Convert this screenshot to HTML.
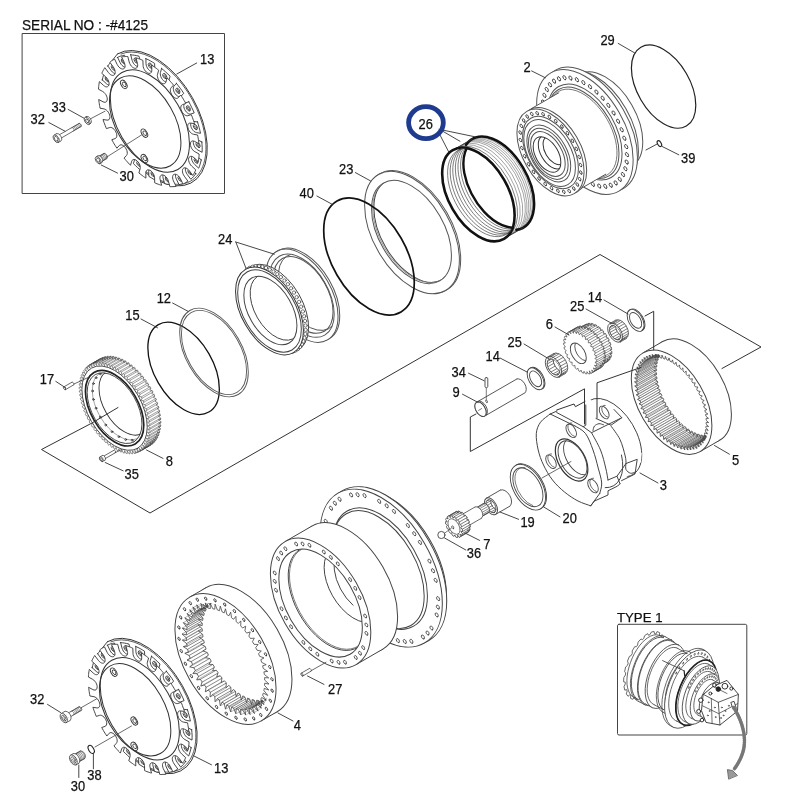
<!DOCTYPE html>
<html><head><meta charset="utf-8"><title>Parts diagram</title>
<style>
html,body{margin:0;padding:0;background:#fff}
svg{display:block;will-change:transform}
svg *{vector-effect:none}
.d{fill:none;stroke:#333;stroke-width:1;stroke-linecap:round;stroke-linejoin:round}
text{font-family:"Liberation Sans",Arial,sans-serif;font-size:12.5px;fill:#111;stroke:#111;stroke-width:0.25px}
</style></head><body>
<svg width="800" height="800" viewBox="0 0 800 800">
<rect width="800" height="800" fill="#fff"/>
<g class="d">
<rect x="22.5" y="33.5" width="202" height="160" stroke="#444"/>
<path d="M92 423L41.5 449.5L150 513L600 254.5L761 347L722 368.5"/>
<ellipse cx="663.6" cy="86.6" rx="45.5" ry="26.3" transform="rotate(60 663.6 86.6)" stroke-width="1.2" stroke="#222"/>
<ellipse cx="659.4" cy="143.6" rx="3.2" ry="1.8" transform="rotate(60 659.4 143.6)" stroke-width="1.1" stroke="#222"/>
<ellipse cx="605.3" cy="120.2" rx="53" ry="30.6" transform="rotate(60 605.3 120.2)" stroke="#555" fill="#fff"/>
<ellipse cx="595.3" cy="126" rx="61" ry="35.2" transform="rotate(60 595.3 126)" stroke="#555" fill="#fff"/>
<ellipse cx="589.2" cy="129.5" rx="68.2" ry="39.4" transform="rotate(60 589.2 129.5)" stroke="#555" fill="#fff"/>
<ellipse cx="584.9" cy="132" rx="68.2" ry="39.4" transform="rotate(60 584.9 132)" stroke="#555" fill="#fff"/>
<ellipse cx="615.7" cy="182.9" rx="2.3" ry="1.3" transform="rotate(60 615.7 182.9)" stroke-width="0.8" fill="#fff"/>
<ellipse cx="619.8" cy="179.3" rx="2.3" ry="1.3" transform="rotate(60 619.8 179.3)" stroke-width="0.8" fill="#fff"/>
<ellipse cx="623" cy="174.5" rx="2.3" ry="1.3" transform="rotate(60 623 174.5)" stroke-width="0.8" fill="#fff"/>
<ellipse cx="625.4" cy="168.7" rx="2.3" ry="1.3" transform="rotate(60 625.4 168.7)" stroke-width="0.8" fill="#fff"/>
<ellipse cx="626.7" cy="162" rx="2.3" ry="1.3" transform="rotate(60 626.7 162)" stroke-width="0.8" fill="#fff"/>
<ellipse cx="627" cy="154.6" rx="2.3" ry="1.3" transform="rotate(60 627 154.6)" stroke-width="0.8" fill="#fff"/>
<ellipse cx="626.2" cy="146.6" rx="2.3" ry="1.3" transform="rotate(60 626.2 146.6)" stroke-width="0.8" fill="#fff"/>
<ellipse cx="624.4" cy="138.2" rx="2.3" ry="1.3" transform="rotate(60 624.4 138.2)" stroke-width="0.8" fill="#fff"/>
<ellipse cx="621.7" cy="129.7" rx="2.3" ry="1.3" transform="rotate(60 621.7 129.7)" stroke-width="0.8" fill="#fff"/>
<ellipse cx="618.1" cy="121.2" rx="2.3" ry="1.3" transform="rotate(60 618.1 121.2)" stroke-width="0.8" fill="#fff"/>
<ellipse cx="613.6" cy="113" rx="2.3" ry="1.3" transform="rotate(60 613.6 113)" stroke-width="0.8" fill="#fff"/>
<ellipse cx="608.4" cy="105.3" rx="2.3" ry="1.3" transform="rotate(60 608.4 105.3)" stroke-width="0.8" fill="#fff"/>
<ellipse cx="602.7" cy="98.2" rx="2.3" ry="1.3" transform="rotate(60 602.7 98.2)" stroke-width="0.8" fill="#fff"/>
<ellipse cx="596.5" cy="92" rx="2.3" ry="1.3" transform="rotate(60 596.5 92)" stroke-width="0.8" fill="#fff"/>
<ellipse cx="590" cy="86.7" rx="2.3" ry="1.3" transform="rotate(60 590 86.7)" stroke-width="0.8" fill="#fff"/>
<ellipse cx="583.4" cy="82.6" rx="2.3" ry="1.3" transform="rotate(60 583.4 82.6)" stroke-width="0.8" fill="#fff"/>
<ellipse cx="576.9" cy="79.7" rx="2.3" ry="1.3" transform="rotate(60 576.9 79.7)" stroke-width="0.8" fill="#fff"/>
<ellipse cx="570.5" cy="78" rx="2.3" ry="1.3" transform="rotate(60 570.5 78)" stroke-width="0.8" fill="#fff"/>
<ellipse cx="564.5" cy="77.7" rx="2.3" ry="1.3" transform="rotate(60 564.5 77.7)" stroke-width="0.8" fill="#fff"/>
<ellipse cx="559" cy="78.8" rx="2.3" ry="1.3" transform="rotate(60 559 78.8)" stroke-width="0.8" fill="#fff"/>
<ellipse cx="554.1" cy="81.1" rx="2.3" ry="1.3" transform="rotate(60 554.1 81.1)" stroke-width="0.8" fill="#fff"/>
<ellipse cx="550" cy="84.7" rx="2.3" ry="1.3" transform="rotate(60 550 84.7)" stroke-width="0.8" fill="#fff"/>
<ellipse cx="546.8" cy="89.5" rx="2.3" ry="1.3" transform="rotate(60 546.8 89.5)" stroke-width="0.8" fill="#fff"/>
<ellipse cx="544.5" cy="95.3" rx="2.3" ry="1.3" transform="rotate(60 544.5 95.3)" stroke-width="0.8" fill="#fff"/>
<ellipse cx="543.1" cy="102" rx="2.3" ry="1.3" transform="rotate(60 543.1 102)" stroke-width="0.8" fill="#fff"/>
<ellipse cx="542.9" cy="109.4" rx="2.3" ry="1.3" transform="rotate(60 542.9 109.4)" stroke-width="0.8" fill="#fff"/>
<ellipse cx="543.6" cy="117.4" rx="2.3" ry="1.3" transform="rotate(60 543.6 117.4)" stroke-width="0.8" fill="#fff"/>
<ellipse cx="545.4" cy="125.8" rx="2.3" ry="1.3" transform="rotate(60 545.4 125.8)" stroke-width="0.8" fill="#fff"/>
<ellipse cx="548.1" cy="134.3" rx="2.3" ry="1.3" transform="rotate(60 548.1 134.3)" stroke-width="0.8" fill="#fff"/>
<ellipse cx="551.8" cy="142.8" rx="2.3" ry="1.3" transform="rotate(60 551.8 142.8)" stroke-width="0.8" fill="#fff"/>
<ellipse cx="556.2" cy="151" rx="2.3" ry="1.3" transform="rotate(60 556.2 151)" stroke-width="0.8" fill="#fff"/>
<ellipse cx="561.4" cy="158.7" rx="2.3" ry="1.3" transform="rotate(60 561.4 158.7)" stroke-width="0.8" fill="#fff"/>
<ellipse cx="567.1" cy="165.8" rx="2.3" ry="1.3" transform="rotate(60 567.1 165.8)" stroke-width="0.8" fill="#fff"/>
<ellipse cx="573.3" cy="172" rx="2.3" ry="1.3" transform="rotate(60 573.3 172)" stroke-width="0.8" fill="#fff"/>
<ellipse cx="579.8" cy="177.3" rx="2.3" ry="1.3" transform="rotate(60 579.8 177.3)" stroke-width="0.8" fill="#fff"/>
<ellipse cx="586.4" cy="181.4" rx="2.3" ry="1.3" transform="rotate(60 586.4 181.4)" stroke-width="0.8" fill="#fff"/>
<ellipse cx="592.9" cy="184.3" rx="2.3" ry="1.3" transform="rotate(60 592.9 184.3)" stroke-width="0.8" fill="#fff"/>
<ellipse cx="599.3" cy="186" rx="2.3" ry="1.3" transform="rotate(60 599.3 186)" stroke-width="0.8" fill="#fff"/>
<ellipse cx="605.3" cy="186.3" rx="2.3" ry="1.3" transform="rotate(60 605.3 186.3)" stroke-width="0.8" fill="#fff"/>
<ellipse cx="610.8" cy="185.2" rx="2.3" ry="1.3" transform="rotate(60 610.8 185.2)" stroke-width="0.8" fill="#fff"/>
<ellipse cx="584.9" cy="132" rx="52.5" ry="30.3" transform="rotate(60 584.9 132)" stroke="#555"/>
<ellipse cx="583.6" cy="132.8" rx="50" ry="28.9" transform="rotate(60 583.6 132.8)" stroke="#555"/>
<path d="M597.2 177.5A48.5 28 60 1 0 551.7 98.6" stroke-width="0.8" stroke="#555"/>
<path d="M531.1 108.8L559.7 92.3L606.7 173.7L578.1 190.2Z" fill="#fff" stroke="none"/>
<path d="M578.1 190.2L605.8 174.2" stroke="#555"/>
<path d="M531.1 108.8L558.8 92.8" stroke="#555"/>
<ellipse cx="553.1" cy="151" rx="47.5" ry="27.4" transform="rotate(60 553.1 151)" stroke="#555" fill="#fff"/>
<ellipse cx="550.5" cy="152.5" rx="47.5" ry="27.4" transform="rotate(60 550.5 152.5)" stroke="#555" fill="#fff"/>
<ellipse cx="573.8" cy="188.5" rx="1.9" ry="1.1" transform="rotate(60 573.8 188.5)" stroke-width="0.8" fill="#fff"/>
<ellipse cx="577.3" cy="184.5" rx="1.9" ry="1.1" transform="rotate(60 577.3 184.5)" stroke-width="0.8" fill="#fff"/>
<ellipse cx="579.7" cy="179.1" rx="1.9" ry="1.1" transform="rotate(60 579.7 179.1)" stroke-width="0.8" fill="#fff"/>
<ellipse cx="580.8" cy="172.5" rx="1.9" ry="1.1" transform="rotate(60 580.8 172.5)" stroke-width="0.8" fill="#fff"/>
<ellipse cx="580.6" cy="165" rx="1.9" ry="1.1" transform="rotate(60 580.6 165)" stroke-width="0.8" fill="#fff"/>
<ellipse cx="579.1" cy="157" rx="1.9" ry="1.1" transform="rotate(60 579.1 157)" stroke-width="0.8" fill="#fff"/>
<ellipse cx="576.3" cy="148.8" rx="1.9" ry="1.1" transform="rotate(60 576.3 148.8)" stroke-width="0.8" fill="#fff"/>
<ellipse cx="572.4" cy="140.7" rx="1.9" ry="1.1" transform="rotate(60 572.4 140.7)" stroke-width="0.8" fill="#fff"/>
<ellipse cx="567.5" cy="133.2" rx="1.9" ry="1.1" transform="rotate(60 567.5 133.2)" stroke-width="0.8" fill="#fff"/>
<ellipse cx="561.9" cy="126.5" rx="1.9" ry="1.1" transform="rotate(60 561.9 126.5)" stroke-width="0.8" fill="#fff"/>
<ellipse cx="555.8" cy="121" rx="1.9" ry="1.1" transform="rotate(60 555.8 121)" stroke-width="0.8" fill="#fff"/>
<ellipse cx="549.4" cy="116.8" rx="1.9" ry="1.1" transform="rotate(60 549.4 116.8)" stroke-width="0.8" fill="#fff"/>
<ellipse cx="543.1" cy="114.2" rx="1.9" ry="1.1" transform="rotate(60 543.1 114.2)" stroke-width="0.8" fill="#fff"/>
<ellipse cx="537.2" cy="113.2" rx="1.9" ry="1.1" transform="rotate(60 537.2 113.2)" stroke-width="0.8" fill="#fff"/>
<ellipse cx="531.8" cy="114" rx="1.9" ry="1.1" transform="rotate(60 531.8 114)" stroke-width="0.8" fill="#fff"/>
<ellipse cx="527.2" cy="116.5" rx="1.9" ry="1.1" transform="rotate(60 527.2 116.5)" stroke-width="0.8" fill="#fff"/>
<ellipse cx="523.7" cy="120.5" rx="1.9" ry="1.1" transform="rotate(60 523.7 120.5)" stroke-width="0.8" fill="#fff"/>
<ellipse cx="521.3" cy="125.9" rx="1.9" ry="1.1" transform="rotate(60 521.3 125.9)" stroke-width="0.8" fill="#fff"/>
<ellipse cx="520.2" cy="132.5" rx="1.9" ry="1.1" transform="rotate(60 520.2 132.5)" stroke-width="0.8" fill="#fff"/>
<ellipse cx="520.4" cy="140" rx="1.9" ry="1.1" transform="rotate(60 520.4 140)" stroke-width="0.8" fill="#fff"/>
<ellipse cx="521.9" cy="148" rx="1.9" ry="1.1" transform="rotate(60 521.9 148)" stroke-width="0.8" fill="#fff"/>
<ellipse cx="524.7" cy="156.2" rx="1.9" ry="1.1" transform="rotate(60 524.7 156.2)" stroke-width="0.8" fill="#fff"/>
<ellipse cx="528.6" cy="164.3" rx="1.9" ry="1.1" transform="rotate(60 528.6 164.3)" stroke-width="0.8" fill="#fff"/>
<ellipse cx="533.5" cy="171.8" rx="1.9" ry="1.1" transform="rotate(60 533.5 171.8)" stroke-width="0.8" fill="#fff"/>
<ellipse cx="539.1" cy="178.5" rx="1.9" ry="1.1" transform="rotate(60 539.1 178.5)" stroke-width="0.8" fill="#fff"/>
<ellipse cx="545.2" cy="184" rx="1.9" ry="1.1" transform="rotate(60 545.2 184)" stroke-width="0.8" fill="#fff"/>
<ellipse cx="551.6" cy="188.2" rx="1.9" ry="1.1" transform="rotate(60 551.6 188.2)" stroke-width="0.8" fill="#fff"/>
<ellipse cx="557.9" cy="190.8" rx="1.9" ry="1.1" transform="rotate(60 557.9 190.8)" stroke-width="0.8" fill="#fff"/>
<ellipse cx="563.8" cy="191.8" rx="1.9" ry="1.1" transform="rotate(60 563.8 191.8)" stroke-width="0.8" fill="#fff"/>
<ellipse cx="569.2" cy="191" rx="1.9" ry="1.1" transform="rotate(60 569.2 191)" stroke-width="0.8" fill="#fff"/>
<ellipse cx="550.5" cy="152.5" rx="39.5" ry="22.8" transform="rotate(60 550.5 152.5)" stroke="#555" fill="#fff"/>
<ellipse cx="549.6" cy="153" rx="36.5" ry="21.1" transform="rotate(60 549.6 153)" stroke="#555" fill="#fff"/>
<ellipse cx="548.8" cy="153.5" rx="31" ry="17.9" transform="rotate(60 548.8 153.5)" stroke="#555" fill="#fff"/>
<ellipse cx="548.3" cy="153.8" rx="28" ry="16.2" transform="rotate(60 548.3 153.8)" stroke="#555"/>
<ellipse cx="547.9" cy="154" rx="24.5" ry="14.1" transform="rotate(60 547.9 154)" stroke="#555" fill="#fff"/>
<ellipse cx="547" cy="154.5" rx="19.5" ry="11.3" transform="rotate(60 547 154.5)" fill="#fff"/>
<clipPath id="cp1"><ellipse cx="547" cy="154.5" rx="19.5" ry="11.3" transform="rotate(60 547 154.5)"/></clipPath><g clip-path="url(#cp1)">
<ellipse cx="551.4" cy="152" rx="18.5" ry="10.7" transform="rotate(60 551.4 152)"/>
<ellipse cx="554" cy="150.5" rx="15.5" ry="8.9" transform="rotate(60 554 150.5)"/>
</g>
<path d="M505.8 237.2A51.2 29.6 60 1 0 455.1 149.4" stroke-width="0.6" stroke="#666"/>
<path d="M508.4 235.7A51.2 29.6 60 1 0 457.7 147.9" stroke-width="0.6" stroke="#666"/>
<path d="M511 234.2A51.2 29.6 60 1 0 460.3 146.4" stroke-width="0.6" stroke="#666"/>
<path d="M512.7 233.2A51.2 29.6 60 1 0 462 145.4" stroke-width="0.6" stroke="#666"/>
<path d="M514.5 232.2A51.2 29.6 60 1 0 463.8 144.4" stroke-width="0.6" stroke="#666"/>
<path d="M516.2 231.2A51.2 29.6 60 1 0 465.5 143.4" stroke-width="0.6" stroke="#666"/>
<path d="M517.9 230.2A51.2 29.6 60 1 0 467.2 142.4" stroke-width="0.6" stroke="#666"/>
<path d="M503.2 238.7A51.2 29.6 60 1 0 452.5 150.9" stroke-width="0.7" stroke="#444"/>
<path d="M516.4 229.9A51.2 29.6 60 1 0 466.1 144.8" stroke-width="2.6" stroke="#111"/>
<path d="M504 238.8L523.4 227.6" stroke-width="0.8"/>
<path d="M452.8 150.2L472.2 139" stroke-width="0.8"/>
<ellipse cx="478.4" cy="194.5" rx="51.2" ry="29.6" transform="rotate(60 478.4 194.5)" stroke-width="2.6" stroke="#111" fill="#fff"/>
<clipPath id="cp2"><ellipse cx="478.4" cy="194.5" rx="50.7" ry="29.3" transform="rotate(60 478.4 194.5)"/></clipPath><g clip-path="url(#cp2)">
<path d="M473 149A48.6 28.1 60 1 0 513 227.3" stroke-width="0.7" stroke="#444"/>
<path d="M475.6 147.5A48.6 28.1 60 1 0 515.6 225.8" stroke-width="0.7" stroke="#444"/>
<path d="M478.2 146A48.6 28.1 60 1 0 518.2 224.3" stroke-width="0.7" stroke="#444"/>
<path d="M480.8 144.5A48.6 28.1 60 1 0 520.8 222.8" stroke-width="0.7" stroke="#444"/>
<path d="M483.4 143A48.6 28.1 60 1 0 523.4 221.3" stroke-width="0.7" stroke="#444"/>
<path d="M486 141.5A48.6 28.1 60 1 0 526 219.8" stroke-width="0.7" stroke="#444"/>
<path d="M488.9 139.8A48.6 28.1 60 1 0 528.9 218.1" stroke-width="2.4" stroke="#111"/>
</g>
<ellipse cx="413.3" cy="231.8" rx="67" ry="38.7" transform="rotate(60 413.3 231.8)" stroke="#555" fill="#fff"/>
<ellipse cx="412" cy="232.5" rx="67" ry="38.7" transform="rotate(60 412 232.5)" stroke="#555" fill="#fff"/>
<ellipse cx="411.5" cy="232" rx="56.5" ry="32.6" transform="rotate(60 411.5 232)" stroke="#555" fill="#fff"/>
<clipPath id="cp3"><ellipse cx="411.5" cy="232" rx="56.5" ry="32.6" transform="rotate(60 411.5 232)"/></clipPath><g clip-path="url(#cp3)">
<ellipse cx="413.8" cy="230.7" rx="56.5" ry="32.6" transform="rotate(60 413.8 230.7)" stroke="#444"/>
<ellipse cx="412.6" cy="231.3" rx="56.5" ry="32.6" transform="rotate(60 412.6 231.3)" stroke-width="0.7" stroke="#777"/>
</g>
<ellipse cx="369" cy="256.5" rx="64" ry="37" transform="rotate(60 369 256.5)" stroke-width="1.7" stroke="#111"/>
<ellipse cx="303.7" cy="294.7" rx="51" ry="29.4" transform="rotate(60 303.7 294.7)" stroke="#555" fill="#fff"/>
<ellipse cx="302" cy="295.7" rx="51" ry="29.4" transform="rotate(60 302 295.7)" stroke="#555" fill="#fff"/>
<ellipse cx="302" cy="295.7" rx="45.5" ry="26.3" transform="rotate(60 302 295.7)" stroke="#555"/>
<ellipse cx="303.3" cy="294.9" rx="42" ry="24.3" transform="rotate(60 303.3 294.9)" stroke="#555"/>
<clipPath id="cp4"><ellipse cx="302" cy="295.7" rx="45.5" ry="26.3" transform="rotate(60 302 295.7)"/></clipPath><g clip-path="url(#cp4)">
<path d="M291 254.3A42 24.3 60 1 0 332.4 325.9" stroke="#555"/>
</g>
<path d="M296.5 350.6A48 27.7 60 1 0 248.7 267.8" stroke="#444" fill="#fff"/>
<path d="M293.5 352.6L298.7 349.6" stroke="#444"/>
<path d="M245.5 269.4L250.7 266.4" stroke="#444"/>
<circle cx="292.4" cy="351.9" r="1.7" stroke-width="0.7" stroke="#444" fill="#fff"/>
<circle cx="295.3" cy="350.7" r="1.7" stroke-width="0.7" stroke="#444" fill="#fff"/>
<circle cx="297.8" cy="349.1" r="1.7" stroke-width="0.7" stroke="#444" fill="#fff"/>
<circle cx="300.1" cy="346.9" r="1.7" stroke-width="0.7" stroke="#444" fill="#fff"/>
<circle cx="302" cy="344.3" r="1.7" stroke-width="0.7" stroke="#444" fill="#fff"/>
<circle cx="303.5" cy="341.3" r="1.7" stroke-width="0.7" stroke="#444" fill="#fff"/>
<circle cx="304.6" cy="337.8" r="1.7" stroke-width="0.7" stroke="#444" fill="#fff"/>
<circle cx="305.4" cy="334" r="1.7" stroke-width="0.7" stroke="#444" fill="#fff"/>
<circle cx="305.7" cy="329.9" r="1.7" stroke-width="0.7" stroke="#444" fill="#fff"/>
<circle cx="305.6" cy="325.5" r="1.7" stroke-width="0.7" stroke="#444" fill="#fff"/>
<circle cx="305.1" cy="321" r="1.7" stroke-width="0.7" stroke="#444" fill="#fff"/>
<circle cx="304.2" cy="316.3" r="1.7" stroke-width="0.7" stroke="#444" fill="#fff"/>
<circle cx="302.9" cy="311.5" r="1.7" stroke-width="0.7" stroke="#444" fill="#fff"/>
<circle cx="301.2" cy="306.7" r="1.7" stroke-width="0.7" stroke="#444" fill="#fff"/>
<circle cx="299.1" cy="301.9" r="1.7" stroke-width="0.7" stroke="#444" fill="#fff"/>
<circle cx="296.7" cy="297.2" r="1.7" stroke-width="0.7" stroke="#444" fill="#fff"/>
<circle cx="294" cy="292.6" r="1.7" stroke-width="0.7" stroke="#444" fill="#fff"/>
<circle cx="291.1" cy="288.3" r="1.7" stroke-width="0.7" stroke="#444" fill="#fff"/>
<circle cx="287.9" cy="284.2" r="1.7" stroke-width="0.7" stroke="#444" fill="#fff"/>
<circle cx="284.5" cy="280.5" r="1.7" stroke-width="0.7" stroke="#444" fill="#fff"/>
<circle cx="280.9" cy="277.1" r="1.7" stroke-width="0.7" stroke="#444" fill="#fff"/>
<circle cx="277.3" cy="274.1" r="1.7" stroke-width="0.7" stroke="#444" fill="#fff"/>
<circle cx="273.6" cy="271.5" r="1.7" stroke-width="0.7" stroke="#444" fill="#fff"/>
<circle cx="269.8" cy="269.5" r="1.7" stroke-width="0.7" stroke="#444" fill="#fff"/>
<circle cx="266.1" cy="267.9" r="1.7" stroke-width="0.7" stroke="#444" fill="#fff"/>
<circle cx="262.5" cy="266.8" r="1.7" stroke-width="0.7" stroke="#444" fill="#fff"/>
<circle cx="259" cy="266.3" r="1.7" stroke-width="0.7" stroke="#444" fill="#fff"/>
<circle cx="255.6" cy="266.3" r="1.7" stroke-width="0.7" stroke="#444" fill="#fff"/>
<circle cx="252.5" cy="266.8" r="1.7" stroke-width="0.7" stroke="#444" fill="#fff"/>
<circle cx="249.6" cy="267.9" r="1.7" stroke-width="0.7" stroke="#444" fill="#fff"/>
<circle cx="247" cy="269.5" r="1.7" stroke-width="0.7" stroke="#444" fill="#fff"/>
<ellipse cx="269.5" cy="311" rx="48" ry="27.7" transform="rotate(60 269.5 311)" fill="#fff"/>
<ellipse cx="269.5" cy="311" rx="45" ry="26" transform="rotate(60 269.5 311)" stroke="#444"/>
<ellipse cx="270.4" cy="310.5" rx="37.5" ry="21.7" transform="rotate(60 270.4 310.5)" stroke="#444"/>
<clipPath id="cp5"><ellipse cx="270.4" cy="310.5" rx="37.5" ry="21.7" transform="rotate(60 270.4 310.5)"/></clipPath><g clip-path="url(#cp5)">
<path d="M261 275A36 20.8 60 1 0 296.4 336.4" stroke="#444"/>
</g>
<ellipse cx="183.6" cy="368.3" rx="50.5" ry="29.2" transform="rotate(60 183.6 368.3)" stroke-width="1.3" stroke="#111"/>
<ellipse cx="214" cy="352.5" rx="48.5" ry="28" transform="rotate(60 214 352.5)" stroke-width="0.9" stroke="#555"/>
<ellipse cx="214" cy="352.5" rx="46" ry="26.6" transform="rotate(60 214 352.5)" stroke-width="0.9" stroke="#555"/>
<path d="M147.9 443.2L150 445.5L150.8 445L149.9 442L149.9 442L152.1 444.1L152.9 443.5L151.8 440.5L151.8 440.5L154.1 442.4L154.7 441.7L153.5 438.8L153.5 438.8L155.8 440.4L156.3 439.6L154.9 436.7L154.9 436.7L157.2 438.1L157.7 437.3L156.1 434.4L156.1 434.4L158.5 435.6L158.8 434.6L157.1 431.8L157.1 431.8L159.4 432.8L159.7 431.7L157.9 429L157.9 429L160.1 429.7L160.3 428.6L158.4 426L158.4 426L160.6 426.4L160.7 425.2L158.6 422.8L158.6 422.8L160.8 423L160.8 421.7L158.6 419.4L158.6 419.4L160.7 419.4L160.6 418.1L158.4 416L158.4 416L160.3 415.6L160.1 414.3L157.9 412.4L157.9 412.4L159.7 411.8L159.4 410.4L157.1 408.7L157.1 408.7L158.8 407.9L158.5 406.5L156.1 405L156.1 405L157.7 403.9L157.2 402.5L154.9 401.2L154.9 401.2L156.3 399.9L155.8 398.5L153.5 397.5L153.5 397.5L154.7 396L154.1 394.5L151.8 393.8L151.8 393.8L152.9 392L152.1 390.6L149.9 390.2L149.9 390.2L150.8 388.2L150 386.8L147.9 386.6L147.9 386.6L148.6 384.5L147.7 383.1L145.7 383.2L145.7 383.2L146.2 380.8L145.2 379.6L143.3 379.9L143.3 379.9L143.6 377.4L142.6 376.2L140.8 376.8L140.8 376.8L140.9 374.1L139.9 373L138.1 373.8L138.1 373.8L138 371.1L137 370.1L135.4 371.1L135.4 371.1L135.1 368.3L134 367.3L132.6 368.6L132.6 368.6L132.1 365.7L131 364.9L129.8 366.4L129.8 366.4L129.1 363.4L128 362.7L126.9 364.4L126.9 364.4L126 361.5L124.9 360.8L124 362.8L124 362.8L122.9 359.8L121.8 359.2L121.1 361.4L121.1 361.4L119.8 358.4L118.7 358L118.2 360.3L118.2 360.3L116.8 357.4L115.7 357.1L115.4 359.6L115.4 359.6L113.9 356.7L112.8 356.5L112.7 359.2L112.7 359.2L111 356.3L110 356.3L110.1 359.1L110.1 359.1L108.2 356.4L107.3 356.4L107.6 359.3L107.6 359.3L105.6 356.7L104.7 356.9L105.2 359.8L105.2 359.8L103.1 357.4L102.3 357.7L103 360.7L103 360.7L100.8 358.4L100 358.9L100.9 361.9L100.9 361.9L98.7 359.8L98 360.4L99.1 363.4L99.1 363.4L96.8 361.5L96.1 362.2L97.4 365.1L97.4 365.1L95.1 363.5L94.5 364.3L95.9 367.2L95.9 367.2L93.6 365.8L93.2 366.6L94.7 369.5L94.7 369.5L92.4 368.3L92 369.3L93.7 372.1L93.7 372.1L91.4 371.1L91.1 372.2L93 374.9L93 374.9L90.7 374.2L90.5 375.3L92.5 377.9L92.5 377.9L90.3 377.5L90.2 378.7L92.2 381.1L92.2 381.1L90.1 380.9L90.1 382.2L92.2 384.5L92.2 384.5L90.2 384.5L90.3 385.8L92.5 387.9L92.5 387.9L90.5 388.3L90.7 389.6L93 391.5L93 391.5L91.1 392.1L91.4 393.5L93.7 395.2L93.7 395.2L92 396L92.4 397.4L94.7 398.9L94.7 398.9L93.2 400L93.6 401.4L95.9 402.7L95.9 402.7L94.5 404L95.1 405.4L97.4 406.4L97.4 406.4L96.1 407.9L96.8 409.4L99.1 410.1L99.1 410.1L98 411.9L98.7 413.3L100.9 413.7L100.9 413.7L100 415.7L100.8 417.1L103 417.3L103 417.3L102.3 419.4L103.1 420.8L105.2 420.7L105.2 420.7L104.7 423.1L105.6 424.3L107.6 424L107.6 424L107.3 426.5L108.2 427.7L110.1 427.1L110.1 427.1L110 429.8L111 430.9L112.7 430.1L112.7 430.1L112.8 432.8L113.9 433.8L115.4 432.8L115.4 432.8L115.7 435.6L116.8 436.6L118.2 435.3L118.2 435.3L118.7 438.2L119.8 439L121.1 437.5L121.1 437.5L121.8 440.5L122.9 441.2L124 439.5L124 439.5L124.9 442.4L126 443.1L126.9 441.1L126.9 441.1L128 444.1L129.1 444.7L129.8 442.5L129.8 442.5L131 445.5L132.1 445.9L132.6 443.6L132.6 443.6L134 446.5L135.1 446.8L135.4 444.3L135.4 444.3L137 447.2L138 447.4L138.1 444.7L138.1 444.7L139.9 447.6L140.9 447.6L140.8 444.8L140.8 444.8L142.6 447.5L143.6 447.5L143.3 444.6L143.3 444.6L145.2 447.2L146.2 447L145.7 444.1L145.7 444.1L147.7 446.5L148.6 446.2L147.9 443.2Z" stroke-width="0.6" stroke="#444" fill="#fff"/>
<path d="M89.6 364.9L100.4 358.6L150.4 445.2L139.6 451.5Z" fill="#fff" stroke="none"/>
<path d="M139.2 451.7L150 445.5" stroke-width="0.5" stroke="#444"/>
<path d="M140 451.3L150.8 445" stroke-width="0.5" stroke="#444"/>
<path d="M141.3 450.4L152.1 444.1" stroke-width="0.5" stroke="#444"/>
<path d="M142 449.8L152.9 443.5" stroke-width="0.5" stroke="#444"/>
<path d="M143.2 448.7L154.1 442.4" stroke-width="0.5" stroke="#444"/>
<path d="M143.9 448L154.7 441.7" stroke-width="0.5" stroke="#444"/>
<path d="M144.9 446.7L155.8 440.4" stroke-width="0.5" stroke="#444"/>
<path d="M145.5 445.9L156.3 439.6" stroke-width="0.5" stroke="#444"/>
<path d="M146.4 444.4L157.2 438.1" stroke-width="0.5" stroke="#444"/>
<path d="M146.9 443.5L157.7 437.3" stroke-width="0.5" stroke="#444"/>
<path d="M147.6 441.8L158.5 435.6" stroke-width="0.5" stroke="#444"/>
<path d="M148 440.8L158.8 434.6" stroke-width="0.5" stroke="#444"/>
<path d="M148.6 439L159.4 432.8" stroke-width="0.5" stroke="#444"/>
<path d="M148.9 437.9L159.7 431.7" stroke-width="0.5" stroke="#444"/>
<path d="M149.3 436L160.1 429.7" stroke-width="0.5" stroke="#444"/>
<path d="M149.5 434.8L160.3 428.6" stroke-width="0.5" stroke="#444"/>
<path d="M149.8 432.7L160.6 426.4" stroke-width="0.5" stroke="#444"/>
<path d="M149.9 431.5L160.7 425.2" stroke-width="0.5" stroke="#444"/>
<path d="M150 429.2L160.8 423" stroke-width="0.5" stroke="#444"/>
<path d="M150 428L160.8 421.7" stroke-width="0.5" stroke="#444"/>
<path d="M149.9 425.6L160.7 419.4" stroke-width="0.5" stroke="#444"/>
<path d="M149.8 424.3L160.6 418.1" stroke-width="0.5" stroke="#444"/>
<path d="M149.5 421.9L160.3 415.6" stroke-width="0.5" stroke="#444"/>
<path d="M149.3 420.5L160.1 414.3" stroke-width="0.5" stroke="#444"/>
<path d="M148.9 418.1L159.7 411.8" stroke-width="0.5" stroke="#444"/>
<path d="M148.6 416.6L159.4 410.4" stroke-width="0.5" stroke="#444"/>
<path d="M148 414.1L158.8 407.9" stroke-width="0.5" stroke="#444"/>
<path d="M147.6 412.7L158.5 406.5" stroke-width="0.5" stroke="#444"/>
<path d="M146.9 410.2L157.7 403.9" stroke-width="0.5" stroke="#444"/>
<path d="M146.4 408.7L157.2 402.5" stroke-width="0.5" stroke="#444"/>
<path d="M145.5 406.2L156.3 399.9" stroke-width="0.5" stroke="#444"/>
<path d="M144.9 404.7L155.8 398.5" stroke-width="0.5" stroke="#444"/>
<path d="M143.9 402.2L154.7 396" stroke-width="0.5" stroke="#444"/>
<path d="M143.2 400.8L154.1 394.5" stroke-width="0.5" stroke="#444"/>
<path d="M142 398.3L152.9 392" stroke-width="0.5" stroke="#444"/>
<path d="M141.3 396.9L152.1 390.6" stroke-width="0.5" stroke="#444"/>
<path d="M140 394.4L150.8 388.2" stroke-width="0.5" stroke="#444"/>
<path d="M139.2 393.1L150 386.8" stroke-width="0.5" stroke="#444"/>
<path d="M137.7 390.7L148.6 384.5" stroke-width="0.5" stroke="#444"/>
<path d="M136.9 389.4L147.7 383.1" stroke-width="0.5" stroke="#444"/>
<path d="M135.3 387.1L146.2 380.8" stroke-width="0.5" stroke="#444"/>
<path d="M134.4 385.8L145.2 379.6" stroke-width="0.5" stroke="#444"/>
<path d="M132.8 383.7L143.6 377.4" stroke-width="0.5" stroke="#444"/>
<path d="M131.8 382.5L142.6 376.2" stroke-width="0.5" stroke="#444"/>
<path d="M130 380.4L140.9 374.1" stroke-width="0.5" stroke="#444"/>
<path d="M129 379.3L139.9 373" stroke-width="0.5" stroke="#444"/>
<path d="M127.2 377.3L138 371.1" stroke-width="0.5" stroke="#444"/>
<path d="M126.2 376.3L137 370.1" stroke-width="0.5" stroke="#444"/>
<path d="M124.3 374.5L135.1 368.3" stroke-width="0.5" stroke="#444"/>
<path d="M123.2 373.6L134 367.3" stroke-width="0.5" stroke="#444"/>
<path d="M121.3 372L132.1 365.7" stroke-width="0.5" stroke="#444"/>
<path d="M120.2 371.1L131 364.9" stroke-width="0.5" stroke="#444"/>
<path d="M118.2 369.7L129.1 363.4" stroke-width="0.5" stroke="#444"/>
<path d="M117.1 368.9L128 362.7" stroke-width="0.5" stroke="#444"/>
<path d="M115.2 367.7L126 361.5" stroke-width="0.5" stroke="#444"/>
<path d="M114 367.1L124.9 360.8" stroke-width="0.5" stroke="#444"/>
<path d="M112.1 366L122.9 359.8" stroke-width="0.5" stroke="#444"/>
<path d="M111 365.5L121.8 359.2" stroke-width="0.5" stroke="#444"/>
<path d="M109 364.7L119.8 358.4" stroke-width="0.5" stroke="#444"/>
<path d="M107.9 364.3L118.7 358" stroke-width="0.5" stroke="#444"/>
<path d="M106 363.6L116.8 357.4" stroke-width="0.5" stroke="#444"/>
<path d="M104.9 363.3L115.7 357.1" stroke-width="0.5" stroke="#444"/>
<path d="M103 362.9L113.9 356.7" stroke-width="0.5" stroke="#444"/>
<path d="M102 362.8L112.8 356.5" stroke-width="0.5" stroke="#444"/>
<path d="M100.2 362.6L111 356.3" stroke-width="0.5" stroke="#444"/>
<path d="M99.2 362.6L110 356.3" stroke-width="0.5" stroke="#444"/>
<path d="M97.4 362.6L108.2 356.4" stroke-width="0.5" stroke="#444"/>
<path d="M96.4 362.7L107.3 356.4" stroke-width="0.5" stroke="#444"/>
<path d="M94.8 363L105.6 356.7" stroke-width="0.5" stroke="#444"/>
<path d="M93.9 363.2L104.7 356.9" stroke-width="0.5" stroke="#444"/>
<path d="M92.3 363.6L103.1 357.4" stroke-width="0.5" stroke="#444"/>
<path d="M91.5 364L102.3 357.7" stroke-width="0.5" stroke="#444"/>
<path d="M90 364.7L100.8 358.4" stroke-width="0.5" stroke="#444"/>
<path d="M89.2 365.1L100 358.9" stroke-width="0.5" stroke="#444"/>
<path d="M87.9 366L98.7 359.8" stroke-width="0.5" stroke="#444"/>
<path d="M87.2 366.6L98 360.4" stroke-width="0.5" stroke="#444"/>
<path d="M86 367.7L96.8 361.5" stroke-width="0.5" stroke="#444"/>
<path d="M85.3 368.4L96.1 362.2" stroke-width="0.5" stroke="#444"/>
<path d="M134.4 453.4L145.2 447.2" stroke-width="0.5" stroke="#444"/>
<path d="M135.3 453.2L146.2 447" stroke-width="0.5" stroke="#444"/>
<path d="M136.9 452.8L147.7 446.5" stroke-width="0.5" stroke="#444"/>
<path d="M137.7 452.4L148.6 446.2" stroke-width="0.5" stroke="#444"/>
<path d="M137.1 449.5L139.2 451.7L140 451.3L139.1 448.3L139.1 448.3L141.3 450.4L142 449.8L141 446.8L141 446.8L143.2 448.7L143.9 448L142.6 445L142.6 445L144.9 446.7L145.5 445.9L144.1 442.9L144.1 442.9L146.4 444.4L146.9 443.5L145.3 440.6L145.3 440.6L147.6 441.8L148 440.8L146.3 438L146.3 438L148.6 439L148.9 437.9L147 435.2L147 435.2L149.3 436L149.5 434.8L147.6 432.2L147.6 432.2L149.8 432.7L149.9 431.5L147.8 429L147.8 429L150 429.2L150 428L147.8 425.7L147.8 425.7L149.9 425.6L149.8 424.3L147.6 422.2L147.6 422.2L149.5 421.9L149.3 420.5L147 418.6L147 418.6L148.9 418.1L148.6 416.6L146.3 415L146.3 415L148 414.1L147.6 412.7L145.3 411.2L145.3 411.2L146.9 410.2L146.4 408.7L144.1 407.5L144.1 407.5L145.5 406.2L144.9 404.7L142.6 403.8L142.6 403.8L143.9 402.2L143.2 400.8L141 400.1L141 400.1L142 398.3L141.3 396.9L139.1 396.4L139.1 396.4L140 394.4L139.2 393.1L137.1 392.9L137.1 392.9L137.7 390.7L136.9 389.4L134.8 389.4L134.8 389.4L135.3 387.1L134.4 385.8L132.5 386.1L132.5 386.1L132.8 383.7L131.8 382.5L129.9 383L129.9 383L130 380.4L129 379.3L127.3 380.1L127.3 380.1L127.2 377.3L126.2 376.3L124.6 377.4L124.6 377.4L124.3 374.5L123.2 373.6L121.8 374.9L121.8 374.9L121.3 372L120.2 371.1L118.9 372.7L118.9 372.7L118.2 369.7L117.1 368.9L116.1 370.7L116.1 370.7L115.2 367.7L114 367.1L113.2 369L113.2 369L112.1 366L111 365.5L110.3 367.6L110.3 367.6L109 364.7L107.9 364.3L107.4 366.6L107.4 366.6L106 363.6L104.9 363.3L104.6 365.8L104.6 365.8L103 362.9L102 362.8L101.9 365.4L101.9 365.4L100.2 362.6L99.2 362.6L99.3 365.3L99.3 365.3L97.4 362.6L96.4 362.7L96.7 365.5L96.7 365.5L94.8 363L93.9 363.2L94.4 366.1L94.4 366.1L92.3 363.6L91.5 364L92.1 366.9L92.1 366.9L90 364.7L89.2 365.1L90.1 368.1L90.1 368.1L87.9 366L87.2 366.6L88.2 369.6L88.2 369.6L86 367.7L85.3 368.4L86.6 371.4L86.6 371.4L84.3 369.7L83.7 370.5L85.1 373.5L85.1 373.5L82.8 372L82.3 372.9L83.9 375.8L83.9 375.8L81.6 374.6L81.2 375.6L82.9 378.4L82.9 378.4L80.6 377.4L80.3 378.5L82.2 381.2L82.2 381.2L79.9 380.4L79.7 381.6L81.6 384.2L81.6 384.2L79.4 383.7L79.3 384.9L81.4 387.4L81.4 387.4L79.2 387.2L79.2 388.4L81.4 390.7L81.4 390.7L79.3 390.8L79.4 392.1L81.6 394.2L81.6 394.2L79.7 394.5L79.9 395.9L82.2 397.8L82.2 397.8L80.3 398.3L80.6 399.8L82.9 401.4L82.9 401.4L81.2 402.3L81.6 403.7L83.9 405.2L83.9 405.2L82.3 406.2L82.8 407.7L85.1 408.9L85.1 408.9L83.7 410.2L84.3 411.7L86.6 412.6L86.6 412.6L85.3 414.2L86 415.6L88.2 416.3L88.2 416.3L87.2 418.1L87.9 419.5L90.1 420L90.1 420L89.2 422L90 423.3L92.1 423.5L92.1 423.5L91.5 425.7L92.3 427L94.4 427L94.4 427L93.9 429.3L94.8 430.6L96.7 430.3L96.7 430.3L96.4 432.7L97.4 433.9L99.3 433.4L99.3 433.4L99.2 436L100.2 437.1L101.9 436.3L101.9 436.3L102 439.1L103 440.1L104.6 439L104.6 439L104.9 441.9L106 442.8L107.4 441.5L107.4 441.5L107.9 444.4L109 445.3L110.3 443.7L110.3 443.7L111 446.7L112.1 447.5L113.1 445.7L113.1 445.7L114 448.7L115.2 449.3L116 447.4L116 447.4L117.1 450.4L118.2 450.9L118.9 448.8L118.9 448.8L120.2 451.7L121.3 452.1L121.8 449.8L121.8 449.8L123.2 452.8L124.3 453.1L124.6 450.6L124.6 450.6L126.2 453.5L127.2 453.6L127.3 451L127.3 451L129 453.8L130 453.8L129.9 451.1L129.9 451.1L131.8 453.8L132.8 453.7L132.5 450.9L132.5 450.9L134.4 453.4L135.3 453.2L134.8 450.3L134.8 450.3L136.9 452.8L137.7 452.4L137.1 449.5Z" stroke-width="0.6" stroke="#444" fill="#fff"/>
<ellipse cx="114.6" cy="408.2" rx="46.3" ry="26.7" transform="rotate(60 114.6 408.2)" stroke-width="0.8"/>
<ellipse cx="114.6" cy="408.2" rx="41.3" ry="23.8" transform="rotate(60 114.6 408.2)" stroke-width="1.7" stroke="#222"/>
<ellipse cx="114.6" cy="408.2" rx="38.8" ry="22.4" transform="rotate(60 114.6 408.2)" stroke-width="0.8"/>
<clipPath id="cp6"><ellipse cx="114.6" cy="408.2" rx="38.8" ry="22.4" transform="rotate(60 114.6 408.2)"/></clipPath><g clip-path="url(#cp6)">
<ellipse cx="124.1" cy="402.7" rx="35.5" ry="20.5" transform="rotate(60 124.1 402.7)" stroke-width="0.9"/>
<ellipse cx="118.9" cy="405.7" rx="37.6" ry="21.7" transform="rotate(60 118.9 405.7)" stroke-width="0.6" stroke="#777"/>
<circle cx="112" cy="372.8" r="0.9" stroke-width="0.7" stroke="#222"/>
<circle cx="105.7" cy="372.2" r="0.9" stroke-width="0.7" stroke="#222"/>
<circle cx="100.2" cy="373.9" r="0.9" stroke-width="0.7" stroke="#222"/>
<circle cx="96" cy="377.8" r="0.9" stroke-width="0.7" stroke="#222"/>
<circle cx="93.4" cy="383.6" r="0.9" stroke-width="0.7" stroke="#222"/>
<circle cx="92.5" cy="391" r="0.9" stroke-width="0.7" stroke="#222"/>
<circle cx="93.4" cy="399.4" r="0.9" stroke-width="0.7" stroke="#222"/>
<circle cx="96" cy="408.2" r="0.9" stroke-width="0.7" stroke="#222"/>
<circle cx="100.2" cy="417" r="0.9" stroke-width="0.7" stroke="#222"/>
<circle cx="105.7" cy="425" r="0.9" stroke-width="0.7" stroke="#222"/>
<circle cx="112" cy="431.7" r="0.9" stroke-width="0.7" stroke="#222"/>
<circle cx="118.9" cy="436.7" r="0.9" stroke-width="0.7" stroke="#222"/>
<circle cx="125.7" cy="439.6" r="0.9" stroke-width="0.7" stroke="#222"/>
<circle cx="132.1" cy="440.2" r="0.9" stroke-width="0.7" stroke="#222"/>
</g>
<ellipse cx="691.1" cy="390.9" rx="57" ry="32.9" transform="rotate(60 691.1 390.9)" stroke="#444" fill="#fff"/>
<path d="M643.1 352.8L662.6 341.6L719.6 440.3L700.1 451.6Z" fill="#fff" stroke="none"/>
<path d="M700.1 451.6L719.6 440.3" stroke="#444"/>
<path d="M643.1 352.8L662.6 341.6" stroke="#444"/>
<ellipse cx="671.6" cy="402.2" rx="57" ry="32.9" transform="rotate(60 671.6 402.2)" stroke="#444" fill="#fff"/>
<clipPath id="cp7"><ellipse cx="671.6" cy="402.2" rx="52.2" ry="30.1" transform="rotate(60 671.6 402.2)"/></clipPath><g clip-path="url(#cp7)">
<rect x="614.6" y="345.2" width="114" height="114" fill="#fff" stroke="none"/>
<path d="M695.5 445L715 433.7" stroke-width="0.7" stroke="#555"/>
<path d="M696.7 444.3L716.2 433" stroke-width="0.7" stroke="#555"/>
<path d="M696.6 448.3L716.1 437.1" stroke-width="0.6" stroke="#888"/>
<path d="M697.8 443.5L717.3 432.3" stroke-width="0.7" stroke="#555"/>
<path d="M698.8 442.7L718.3 431.4" stroke-width="0.7" stroke="#555"/>
<path d="M699.1 446.9L718.6 435.6" stroke-width="0.6" stroke="#888"/>
<path d="M699.8 441.7L719.3 430.5" stroke-width="0.7" stroke="#555"/>
<path d="M700.7 440.7L720.2 429.4" stroke-width="0.7" stroke="#555"/>
<path d="M701.4 445L720.8 433.8" stroke-width="0.6" stroke="#888"/>
<path d="M701.6 439.5L721.1 428.3" stroke-width="0.7" stroke="#555"/>
<path d="M702.4 438.3L721.9 427.1" stroke-width="0.7" stroke="#555"/>
<path d="M703.3 442.8L722.8 431.5" stroke-width="0.6" stroke="#888"/>
<path d="M703.1 437L722.6 425.8" stroke-width="0.7" stroke="#555"/>
<path d="M703.8 435.6L723.3 424.4" stroke-width="0.7" stroke="#555"/>
<path d="M705 440.2L724.5 428.9" stroke-width="0.6" stroke="#888"/>
<path d="M704.3 434.2L723.8 422.9" stroke-width="0.7" stroke="#555"/>
<path d="M704.8 432.7L724.3 421.4" stroke-width="0.7" stroke="#555"/>
<path d="M706.4 437.2L725.9 425.9" stroke-width="0.6" stroke="#888"/>
<path d="M668.3 360.5L687.8 349.2" stroke-width="0.7" stroke="#555"/>
<path d="M666.7 359.8L686.2 348.5" stroke-width="0.7" stroke="#555"/>
<path d="M668.9 357.9L688.4 346.6" stroke-width="0.6" stroke="#888"/>
<path d="M665 359.1L684.5 347.9" stroke-width="0.7" stroke="#555"/>
<path d="M663.4 358.6L682.9 347.4" stroke-width="0.7" stroke="#555"/>
<path d="M665.4 356.3L684.9 345.1" stroke-width="0.6" stroke="#888"/>
<path d="M661.8 358.2L681.3 346.9" stroke-width="0.7" stroke="#555"/>
<path d="M660.3 357.8L679.8 346.6" stroke-width="0.7" stroke="#555"/>
<path d="M661.9 355.2L681.4 344" stroke-width="0.6" stroke="#888"/>
<path d="M658.7 357.6L678.2 346.4" stroke-width="0.7" stroke="#555"/>
<path d="M657.2 357.5L676.7 346.2" stroke-width="0.7" stroke="#555"/>
<path d="M658.6 354.5L678 343.3" stroke-width="0.6" stroke="#888"/>
<path d="M655.7 357.5L675.2 346.2" stroke-width="0.7" stroke="#555"/>
<path d="M654.3 357.6L673.8 346.3" stroke-width="0.7" stroke="#555"/>
<path d="M655.3 354.3L674.8 343" stroke-width="0.6" stroke="#888"/>
<path d="M652.9 357.7L672.4 346.5" stroke-width="0.7" stroke="#555"/>
<path d="M651.5 358L671 346.8" stroke-width="0.7" stroke="#555"/>
<path d="M652.2 354.5L671.7 343.2" stroke-width="0.6" stroke="#888"/>
<path d="M650.2 358.4L669.7 347.1" stroke-width="0.7" stroke="#555"/>
<path d="M648.9 358.9L668.4 347.6" stroke-width="0.7" stroke="#555"/>
<path d="M649.3 355.1L668.8 343.8" stroke-width="0.6" stroke="#888"/>
<path d="M647.7 359.4L667.2 348.2" stroke-width="0.7" stroke="#555"/>
<path d="M646.5 360.1L666 348.9" stroke-width="0.7" stroke="#555"/>
<path d="M646.6 356.1L666.1 344.8" stroke-width="0.6" stroke="#888"/>
<path d="M645.4 360.9L664.9 349.6" stroke-width="0.7" stroke="#555"/>
<path d="M644.4 361.7L663.8 350.5" stroke-width="0.7" stroke="#555"/>
<path d="M644.1 357.5L663.6 346.3" stroke-width="0.6" stroke="#888"/>
<path d="M643.4 362.7L662.9 351.4" stroke-width="0.7" stroke="#555"/>
<path d="M642.5 363.7L661.9 352.5" stroke-width="0.7" stroke="#555"/>
<path d="M641.8 359.4L661.3 348.1" stroke-width="0.6" stroke="#888"/>
<path d="M641.6 364.9L661.1 353.6" stroke-width="0.7" stroke="#555"/>
<path d="M640.8 366.1L660.3 354.8" stroke-width="0.7" stroke="#555"/>
<path d="M639.9 361.6L659.3 350.4" stroke-width="0.6" stroke="#888"/>
<path d="M640.1 367.4L659.6 356.1" stroke-width="0.7" stroke="#555"/>
<path d="M639.4 368.8L658.9 357.5" stroke-width="0.7" stroke="#555"/>
<path d="M638.2 364.2L657.7 353" stroke-width="0.6" stroke="#888"/>
<path d="M638.9 370.2L658.3 359" stroke-width="0.7" stroke="#555"/>
<path d="M638.4 371.7L657.8 360.5" stroke-width="0.7" stroke="#555"/>
<path d="M636.8 367.2L656.3 356" stroke-width="0.6" stroke="#888"/>
<path d="M637.9 373.3L657.4 362.1" stroke-width="0.7" stroke="#555"/>
<path d="M637.6 375L657.1 363.7" stroke-width="0.7" stroke="#555"/>
<path d="M635.7 370.5L655.2 359.2" stroke-width="0.6" stroke="#888"/>
<path d="M637.3 376.7L656.8 365.5" stroke-width="0.7" stroke="#555"/>
<path d="M637.1 378.5L656.6 367.2" stroke-width="0.7" stroke="#555"/>
<path d="M635 374L654.5 362.8" stroke-width="0.6" stroke="#888"/>
<path d="M637 380.3L656.5 369.1" stroke-width="0.7" stroke="#555"/>
<path d="M637 382.2L656.4 370.9" stroke-width="0.7" stroke="#555"/>
<path d="M634.6 377.8L654.1 366.6" stroke-width="0.6" stroke="#888"/>
<path d="M637 384.1L656.5 372.9" stroke-width="0.7" stroke="#555"/>
<path d="M637.1 386.1L656.6 374.8" stroke-width="0.7" stroke="#555"/>
<path d="M634.5 381.9L654 370.6" stroke-width="0.6" stroke="#888"/>
<path d="M637.3 388.1L656.8 376.8" stroke-width="0.7" stroke="#555"/>
<path d="M637.6 390.1L657.1 378.9" stroke-width="0.7" stroke="#555"/>
<path d="M634.7 386.1L654.2 374.8" stroke-width="0.6" stroke="#888"/>
<path d="M637.9 392.2L657.4 380.9" stroke-width="0.7" stroke="#555"/>
<path d="M638.4 394.3L657.8 383" stroke-width="0.7" stroke="#555"/>
<path d="M635.3 390.5L654.8 379.2" stroke-width="0.6" stroke="#888"/>
<path d="M638.9 396.4L658.3 385.1" stroke-width="0.7" stroke="#555"/>
<path d="M639.4 398.5L658.9 387.2" stroke-width="0.7" stroke="#555"/>
<path d="M636.3 394.9L655.7 383.7" stroke-width="0.6" stroke="#888"/>
<path d="M640.1 400.6L659.6 389.4" stroke-width="0.7" stroke="#555"/>
<path d="M640.8 402.8L660.3 391.5" stroke-width="0.7" stroke="#555"/>
<path d="M637.5 399.5L657 388.2" stroke-width="0.6" stroke="#888"/>
<path d="M641.6 404.9L661.1 393.6" stroke-width="0.7" stroke="#555"/>
<path d="M642.5 407L661.9 395.8" stroke-width="0.7" stroke="#555"/>
<path d="M639.1 404L658.5 392.8" stroke-width="0.6" stroke="#888"/>
<path d="M643.4 409.1L662.9 397.9" stroke-width="0.7" stroke="#555"/>
<path d="M644.4 411.2L663.8 400" stroke-width="0.7" stroke="#555"/>
<path d="M640.9 408.6L660.4 397.3" stroke-width="0.6" stroke="#888"/>
<path d="M645.4 413.3L664.9 402" stroke-width="0.7" stroke="#555"/>
<path d="M646.5 415.3L666 404.1" stroke-width="0.7" stroke="#555"/>
<path d="M643 413.1L662.5 401.8" stroke-width="0.6" stroke="#888"/>
<path d="M647.7 417.4L667.2 406.1" stroke-width="0.7" stroke="#555"/>
<path d="M648.9 419.3L668.4 408.1" stroke-width="0.7" stroke="#555"/>
<path d="M645.4 417.4L664.9 406.2" stroke-width="0.6" stroke="#888"/>
<path d="M650.2 421.3L669.7 410" stroke-width="0.7" stroke="#555"/>
<path d="M651.5 423.2L671 411.9" stroke-width="0.7" stroke="#555"/>
<path d="M648 421.7L667.5 410.4" stroke-width="0.6" stroke="#888"/>
<path d="M652.9 425L672.4 413.8" stroke-width="0.7" stroke="#555"/>
<path d="M654.3 426.8L673.8 415.6" stroke-width="0.7" stroke="#555"/>
<path d="M650.8 425.8L670.3 414.5" stroke-width="0.6" stroke="#888"/>
<path d="M655.7 428.6L675.2 417.3" stroke-width="0.7" stroke="#555"/>
<path d="M657.2 430.3L676.7 419" stroke-width="0.7" stroke="#555"/>
<path d="M653.9 429.6L673.4 418.4" stroke-width="0.6" stroke="#888"/>
<path d="M658.7 431.9L678.2 420.7" stroke-width="0.7" stroke="#555"/>
<path d="M660.3 433.5L679.8 422.2" stroke-width="0.7" stroke="#555"/>
<path d="M657.1 433.2L676.5 422" stroke-width="0.6" stroke="#888"/>
<path d="M661.8 435L681.3 423.7" stroke-width="0.7" stroke="#555"/>
<path d="M663.4 436.4L682.9 425.1" stroke-width="0.7" stroke="#555"/>
<path d="M660.4 436.6L679.8 425.3" stroke-width="0.6" stroke="#888"/>
<path d="M665 437.7L684.5 426.4" stroke-width="0.7" stroke="#555"/>
<path d="M666.7 439L686.2 427.7" stroke-width="0.7" stroke="#555"/>
<path d="M663.8 439.6L683.3 428.3" stroke-width="0.6" stroke="#888"/>
<path d="M668.3 440.1L687.8 428.9" stroke-width="0.7" stroke="#555"/>
<path d="M670 441.2L689.4 430" stroke-width="0.7" stroke="#555"/>
<path d="M667.3 442.3L686.7 431" stroke-width="0.6" stroke="#888"/>
<path d="M671.6 442.2L691.1 431" stroke-width="0.7" stroke="#555"/>
<path d="M673.2 443.1L692.7 431.9" stroke-width="0.7" stroke="#555"/>
<path d="M670.8 444.6L690.3 433.3" stroke-width="0.6" stroke="#888"/>
<path d="M674.9 443.9L694.4 432.7" stroke-width="0.7" stroke="#555"/>
<path d="M676.5 444.6L696 433.4" stroke-width="0.7" stroke="#555"/>
<path d="M674.3 446.5L693.8 435.3" stroke-width="0.6" stroke="#888"/>
<path d="M678.2 445.3L697.6 434" stroke-width="0.7" stroke="#555"/>
<path d="M679.8 445.8L699.3 434.5" stroke-width="0.7" stroke="#555"/>
<path d="M677.8 448.1L697.3 436.8" stroke-width="0.6" stroke="#888"/>
<path d="M681.4 446.2L700.8 435" stroke-width="0.7" stroke="#555"/>
<path d="M682.9 446.6L702.4 435.3" stroke-width="0.7" stroke="#555"/>
<path d="M681.3 449.2L700.8 437.9" stroke-width="0.6" stroke="#888"/>
<path d="M684.5 446.8L704 435.5" stroke-width="0.7" stroke="#555"/>
<path d="M686 446.9L705.5 435.7" stroke-width="0.7" stroke="#555"/>
<path d="M684.6 449.9L704.1 438.6" stroke-width="0.6" stroke="#888"/>
<path d="M687.5 446.9L707 435.7" stroke-width="0.7" stroke="#555"/>
<path d="M688.9 446.8L708.4 435.6" stroke-width="0.7" stroke="#555"/>
<path d="M687.9 450.1L707.4 438.9" stroke-width="0.6" stroke="#888"/>
<path d="M690.3 446.7L709.8 435.4" stroke-width="0.7" stroke="#555"/>
<path d="M691.7 446.4L711.2 435.1" stroke-width="0.7" stroke="#555"/>
<path d="M691 449.9L710.5 438.7" stroke-width="0.6" stroke="#888"/>
<path d="M693 446L712.5 434.8" stroke-width="0.7" stroke="#555"/>
<path d="M694.3 445.5L713.8 434.3" stroke-width="0.7" stroke="#555"/>
<path d="M693.9 449.3L713.4 438.1" stroke-width="0.6" stroke="#888"/>
<path d="M716.1 437.1L715.1 433.7L716.1 433.1L718.6 435.6L718.6 435.6L717.3 432.2L718.3 431.5L720.8 433.8L720.8 433.8L719.4 430.4L720.2 429.5L722.8 431.6L722.8 431.6L721.1 428.2L721.8 427.1L724.5 429L724.5 429L722.6 425.7L723.2 424.5L725.9 426L725.9 426L723.9 422.8L724.3 421.5L726.9 422.7L726.9 422.7L724.8 419.7L725.1 418.3L727.7 419.2L727.7 419.2L725.4 416.3L725.6 414.8L728.1 415.4L728.1 415.4L725.7 412.7L725.7 411.1L728.2 411.4L728.2 411.4L725.7 408.9L725.6 407.2L727.9 407.1L727.9 407.1L725.4 404.9L725.1 403.1L727.4 402.8L727.4 402.8L724.7 400.8L724.4 399L726.4 398.3L726.4 398.3L723.8 396.6L723.3 394.8L725.2 393.8L725.2 393.8L722.6 392.4L721.9 390.5L723.7 389.2L723.7 389.2L721 388.1L720.3 386.3L721.8 384.7L721.8 384.7L719.3 383.9L718.4 382.1L719.7 380.2L719.7 380.2L717.2 379.7L716.2 377.9L717.3 375.8L717.3 375.8L714.9 375.7L713.9 373.9L714.7 371.5L714.7 371.5L712.4 371.8L711.3 370.1L711.9 367.5L711.9 367.5L709.7 368L708.5 366.4L708.9 363.6L708.9 363.6L706.9 364.5L705.6 363L705.7 360L705.7 360L703.9 361.1L702.5 359.8L702.4 356.6L702.4 356.6L700.8 358.1L699.4 356.9L699 353.6L699 353.6L697.5 355.4L696.1 354.3L695.5 350.9L695.5 350.9L694.3 353L692.8 352L692 348.6L692 348.6L691 350.9L689.5 350.1L688.4 346.7L688.4 346.7L687.7 349.2L686.3 348.5L684.9 345.1L684.9 345.1L684.4 347.8L683 347.4L681.5 344L681.5 344L681.2 346.9L679.8 346.6L678.1 343.3L678.1 343.3L678.1 346.4L676.8 346.3L674.9 343L674.9 343L675.1 346.2L673.8 346.3L671.8 343.2L671.8 343.2L672.3 346.5L671.1 346.7L668.8 343.8L668.8 343.8L669.6 347.2L668.5 347.6L666.1 344.8L666.1 344.8L667.1 348.2L666.1 348.8L663.6 346.3L663.6 346.3L664.8 349.7L663.9 350.4L661.4 348.1L661.4 348.1L662.8 351.5L662 352.4L659.4 350.3L659.4 350.3L661 353.7L660.3 354.8L657.7 352.9L657.7 352.9L659.5 356.2L659 357.4L656.3 355.9L656.3 355.9L658.3 359.1L657.9 360.4L655.2 359.2L655.2 359.2L657.4 362.2L657.1 363.6L654.5 362.7L654.5 362.7L656.8 365.6L656.6 367.1L654.1 366.5L654.1 366.5L656.5 369.2L656.4 370.8L654 370.5L654 370.5L656.5 373L656.6 374.7L654.2 374.8L654.2 374.8L656.8 377L657 378.8L654.8 379.1L654.8 379.1L657.4 381.1L657.8 382.9L655.7 383.6L655.7 383.6L658.4 385.3L658.9 387.1L657 388.1L657 388.1L659.6 389.5L660.2 391.4L658.5 392.7L658.5 392.7L661.1 393.8L661.9 395.6L660.3 397.2L660.3 397.2L662.9 398L663.8 399.8L662.5 401.7L662.5 401.7L665 402.2L665.9 404L664.8 406.1L664.8 406.1L667.2 406.2L668.3 408L667.4 410.4L667.4 410.4L669.7 410.1L670.9 411.8L670.3 414.4L670.3 414.4L672.4 413.9L673.7 415.5L673.3 418.3L673.3 418.3L675.3 417.4L676.6 418.9L676.5 421.9L676.5 421.9L678.3 420.8L679.7 422.1L679.8 425.3L679.8 425.3L681.4 423.8L682.8 425L683.2 428.3L683.2 428.3L684.6 426.5L686.1 427.6L686.7 431L686.7 431L687.9 428.9L689.3 429.9L690.2 433.3L690.2 433.3L691.2 431L692.6 431.8L693.7 435.2L693.7 435.2L694.5 432.7L695.9 433.4L697.2 436.8L697.2 436.8L697.7 434.1L699.2 434.5L700.7 437.9L700.7 437.9L700.9 435L702.3 435.3L704.1 438.6L704.1 438.6L704.1 435.5L705.4 435.6L707.3 438.9L707.3 438.9L707 435.7L708.3 435.6L710.4 438.7L710.4 438.7L709.9 435.4L711.1 435.2L713.3 438.1L713.3 438.1L712.6 434.7L713.7 434.3L716.1 437.1Z" stroke-width="0.8" stroke="#444" fill="#fff"/>
</g>
<path d="M696.6 448.3L695.6 444.9L696.6 444.3L699.1 446.9L699.1 446.9L697.9 443.5L698.8 442.7L701.3 445L701.3 445L699.9 441.6L700.7 440.7L703.3 442.8L703.3 442.8L701.7 439.5L702.4 438.4L705 440.2L705 440.2L703.2 436.9L703.7 435.7L706.4 437.3L706.4 437.3L704.4 434.1L704.8 432.8L707.5 434L707.5 434L705.3 431L705.6 429.5L708.2 430.4L708.2 430.4L705.9 427.6L706.1 426L708.6 426.6L708.6 426.6L706.2 424L706.2 422.3L708.7 422.6L708.7 422.6L706.2 420.2L706.1 418.4L708.5 418.4L708.5 418.4L705.9 416.2L705.6 414.4L707.9 414L707.9 414L705.2 412.1L704.9 410.2L707 409.6L707 409.6L704.3 407.9L703.8 406L705.7 405L705.7 405L703.1 403.6L702.4 401.8L704.2 400.5L704.2 400.5L701.6 399.4L700.8 397.5L702.3 395.9L702.3 395.9L699.8 395.2L698.9 393.3L700.2 391.4L700.2 391.4L697.7 391L696.7 389.2L697.9 387L697.9 387L695.4 386.9L694.4 385.2L695.2 382.8L695.2 382.8L692.9 383L691.8 381.3L692.4 378.7L692.4 378.7L690.3 379.2L689 377.7L689.4 374.8L689.4 374.8L687.4 375.7L686.1 374.2L686.2 371.2L686.2 371.2L684.4 372.4L683 371L682.9 367.9L682.9 367.9L681.3 369.4L679.9 368.1L679.5 364.9L679.5 364.9L678.1 366.6L676.6 365.5L676 362.2L676 362.2L674.8 364.2L673.3 363.3L672.5 359.9L672.5 359.9L671.5 362.1L670.1 361.3L669 357.9L669 357.9L668.2 360.4L666.8 359.8L665.4 356.4L665.4 356.4L664.9 359.1L663.5 358.6L662 355.2L662 355.2L661.7 358.2L660.4 357.9L658.6 354.5L658.6 354.5L658.6 357.6L657.3 357.5L655.4 354.3L655.4 354.3L655.6 357.5L654.4 357.5L652.3 354.4L652.3 354.4L652.8 357.7L651.6 358L649.4 355L649.4 355L650.1 358.4L649 358.8L646.6 356.1L646.6 356.1L647.6 359.5L646.6 360.1L644.1 357.5L644.1 357.5L645.3 360.9L644.4 361.7L641.9 359.4L641.9 359.4L643.3 362.8L642.5 363.7L639.9 361.6L639.9 361.6L641.5 364.9L640.8 366L638.2 364.2L638.2 364.2L640 367.5L639.5 368.7L636.8 367.1L636.8 367.1L638.8 370.3L638.4 371.6L635.7 370.4L635.7 370.4L637.9 373.4L637.6 374.9L635 374L635 374L637.3 376.8L637.1 378.4L634.6 377.8L634.6 377.8L637 380.4L637 382.1L634.5 381.8L634.5 381.8L637 384.2L637.1 386L634.7 386L634.7 386L637.3 388.2L637.6 390L635.3 390.4L635.3 390.4L638 392.3L638.3 394.2L636.2 394.8L636.2 394.8L638.9 396.5L639.4 398.4L637.5 399.4L637.5 399.4L640.1 400.8L640.8 402.6L639 403.9L639 403.9L641.6 405L642.4 406.9L640.9 408.5L640.9 408.5L643.4 409.2L644.3 411.1L643 413L643 413L645.5 413.4L646.5 415.2L645.3 417.4L645.3 417.4L647.8 417.5L648.8 419.2L648 421.6L648 421.6L650.3 421.4L651.4 423.1L650.8 425.7L650.8 425.7L652.9 425.2L654.2 426.7L653.8 429.6L653.8 429.6L655.8 428.7L657.1 430.2L657 433.2L657 433.2L658.8 432L660.2 433.4L660.3 436.5L660.3 436.5L661.9 435L663.3 436.3L663.7 439.5L663.7 439.5L665.1 437.8L666.6 438.9L667.2 442.2L667.2 442.2L668.4 440.2L669.9 441.1L670.7 444.5L670.7 444.5L671.7 442.3L673.1 443.1L674.2 446.5L674.2 446.5L675 444L676.4 444.6L677.8 448L677.8 448L678.3 445.3L679.7 445.8L681.2 449.2L681.2 449.2L681.5 446.2L682.8 446.5L684.6 449.9L684.6 449.9L684.6 446.8L685.9 446.9L687.8 450.1L687.8 450.1L687.6 446.9L688.8 446.9L690.9 450L690.9 450L690.4 446.7L691.6 446.4L693.8 449.4L693.8 449.4L693.1 446L694.2 445.6L696.6 448.3Z" stroke-width="0.8" stroke="#444"/>
<ellipse cx="636.5" cy="319.9" rx="12" ry="6.9" transform="rotate(60 636.5 319.9)" stroke-width="0.9" stroke="#444" fill="#fff"/>
<ellipse cx="635.6" cy="320.4" rx="12" ry="6.9" transform="rotate(60 635.6 320.4)" stroke-width="0.9" stroke="#444" fill="#fff"/>
<ellipse cx="635.6" cy="320.4" rx="8.6" ry="5" transform="rotate(60 635.6 320.4)" stroke-width="0.9" stroke="#444"/>
<path d="M626 338.6A10.6 6.1 60 1 0 615.4 320.3" stroke-width="0.8" stroke="#444" fill="#fff"/>
<path d="M609.8 323.5L615.9 320L626.5 338.4L620.4 341.9Z" fill="#fff" stroke="none"/>
<path d="M620.4 341.9L626.5 338.4" stroke-width="0.8" stroke="#444"/>
<path d="M609.8 323.5L615.9 320" stroke-width="0.8" stroke="#444"/>
<ellipse cx="615.1" cy="332.7" rx="10.6" ry="6.1" transform="rotate(60 615.1 332.7)" stroke-width="0.8" stroke="#444" fill="#fff"/>
<path d="M619.1 341.5L625.1 338" stroke-width="0.7" stroke="#444"/>
<path d="M620.6 340.8L626.6 337.3" stroke-width="0.7" stroke="#444"/>
<path d="M621.6 339.3L627.6 335.8" stroke-width="0.7" stroke="#444"/>
<path d="M622 337.2L628.1 333.7" stroke-width="0.7" stroke="#444"/>
<path d="M621.9 334.8L627.9 331.3" stroke-width="0.7" stroke="#444"/>
<path d="M621.1 332.2L627.2 328.7" stroke-width="0.7" stroke="#444"/>
<path d="M619.8 329.6L625.9 326.1" stroke-width="0.7" stroke="#444"/>
<path d="M618.1 327.3L624.2 323.8" stroke-width="0.7" stroke="#444"/>
<path d="M616.2 325.4L622.2 321.9" stroke-width="0.7" stroke="#444"/>
<path d="M614.1 324.2L620.2 320.7" stroke-width="0.7" stroke="#444"/>
<path d="M612.2 323.8L618.2 320.3" stroke-width="0.7" stroke="#444"/>
<path d="M610.5 324.1L616.5 320.6" stroke-width="0.7" stroke="#444"/>
<ellipse cx="615.1" cy="332.7" rx="8" ry="4.6" transform="rotate(60 615.1 332.7)" stroke-width="0.8" stroke="#444" fill="#fff"/>
<clipPath id="cp8"><ellipse cx="615.1" cy="332.7" rx="8" ry="4.6" transform="rotate(60 615.1 332.7)"/></clipPath><g clip-path="url(#cp8)">
<path d="M611.9 325.5L617.9 322" stroke-width="0.7" stroke="#444"/>
<path d="M610.5 326.3L616.5 322.8" stroke-width="0.7" stroke="#444"/>
<path d="M609.6 327.9L615.7 324.4" stroke-width="0.7" stroke="#444"/>
<path d="M609.5 330L615.5 326.5" stroke-width="0.7" stroke="#444"/>
<path d="M610 332.5L616 329" stroke-width="0.7" stroke="#444"/>
<path d="M611.1 335L617.2 331.5" stroke-width="0.7" stroke="#444"/>
<path d="M612.7 337.2L618.8 333.7" stroke-width="0.7" stroke="#444"/>
<path d="M614.6 338.9L620.7 335.4" stroke-width="0.7" stroke="#444"/>
<path d="M616.6 339.9L622.6 336.4" stroke-width="0.7" stroke="#444"/>
<path d="M618.3 339.9L624.4 336.4" stroke-width="0.7" stroke="#444"/>
<ellipse cx="621.2" cy="329.2" rx="8" ry="4.6" transform="rotate(60 621.2 329.2)" stroke-width="0.8" stroke="#444" fill="#fff"/>
</g>
<path d="M604.9 360L606.8 361.9L608 361.3L607.2 358.7L607.2 358.7L609.2 360.1L610.1 359L608.9 356.4L608.9 356.4L610.9 357.4L611.4 355.8L609.9 353.4L609.9 353.4L611.8 353.7L611.9 351.9L610.1 349.8L610.1 349.8L611.7 349.5L611.4 347.4L609.5 345.8L609.5 345.8L610.8 344.9L610.2 342.7L608.2 341.6L608.2 341.6L609.1 340.1L608.1 338L606.2 337.5L606.2 337.5L606.7 335.6L605.4 333.6L603.6 333.7L603.6 333.7L603.6 331.4L602.1 329.8L600.7 330.5L600.7 330.5L600.2 328L598.6 326.7L597.5 328L597.5 328L596.6 325.4L594.9 324.6L594.2 326.3L594.2 326.3L592.9 323.8L591.3 323.5L591.1 325.7L591.1 325.7L589.5 323.4L588.1 323.6L588.4 326L588.4 326L586.5 324.1L585.3 324.7L586.1 327.3L586.1 327.3L584.1 325.9L583.2 327L584.4 329.6L584.4 329.6L582.4 328.6L581.9 330.2L583.4 332.6L583.4 332.6L581.6 332.3L581.5 334.1L583.2 336.2L583.2 336.2L581.6 336.5L581.9 338.6L583.8 340.2L583.8 340.2L582.5 341.1L583.1 343.3L585.2 344.4L585.2 344.4L584.2 345.9L585.2 348L587.2 348.5L587.2 348.5L586.6 350.4L587.9 352.4L589.7 352.3L589.7 352.3L589.7 354.6L591.2 356.2L592.7 355.5L592.7 355.5L593.1 358L594.7 359.3L595.8 358L595.8 358L596.7 360.6L598.4 361.4L599.1 359.7L599.1 359.7L600.4 362.2L602 362.5L602.2 360.3L602.2 360.3L603.8 362.6L605.2 362.4L604.9 360Z" stroke-width="0.7" stroke="#444" fill="#fff"/>
<path d="M578.1 328.9L585.9 324.4L607.4 361.6L599.6 366.1Z" fill="#fff" stroke="none"/>
<path d="M599 366.4L606.8 361.9" stroke-width="0.6" stroke="#444"/>
<path d="M600.2 365.8L608 361.3" stroke-width="0.6" stroke="#444"/>
<path d="M601.4 364.6L609.2 360.1" stroke-width="0.6" stroke="#444"/>
<path d="M602.3 363.5L610.1 359" stroke-width="0.6" stroke="#444"/>
<path d="M603.1 361.9L610.9 357.4" stroke-width="0.6" stroke="#444"/>
<path d="M603.6 360.3L611.4 355.8" stroke-width="0.6" stroke="#444"/>
<path d="M604 358.2L611.8 353.7" stroke-width="0.6" stroke="#444"/>
<path d="M604.1 356.4L611.9 351.9" stroke-width="0.6" stroke="#444"/>
<path d="M603.9 354L611.7 349.5" stroke-width="0.6" stroke="#444"/>
<path d="M603.6 351.9L611.4 347.4" stroke-width="0.6" stroke="#444"/>
<path d="M603 349.4L610.8 344.9" stroke-width="0.6" stroke="#444"/>
<path d="M602.4 347.2L610.2 342.7" stroke-width="0.6" stroke="#444"/>
<path d="M601.3 344.6L609.1 340.1" stroke-width="0.6" stroke="#444"/>
<path d="M600.3 342.5L608.1 338" stroke-width="0.6" stroke="#444"/>
<path d="M598.9 340.1L606.7 335.6" stroke-width="0.6" stroke="#444"/>
<path d="M597.6 338.1L605.4 333.6" stroke-width="0.6" stroke="#444"/>
<path d="M595.8 335.9L603.6 331.4" stroke-width="0.6" stroke="#444"/>
<path d="M594.3 334.3L602.1 329.8" stroke-width="0.6" stroke="#444"/>
<path d="M592.4 332.5L600.2 328" stroke-width="0.6" stroke="#444"/>
<path d="M590.8 331.2L598.6 326.7" stroke-width="0.6" stroke="#444"/>
<path d="M588.8 329.9L596.6 325.4" stroke-width="0.6" stroke="#444"/>
<path d="M587.1 329.1L594.9 324.6" stroke-width="0.6" stroke="#444"/>
<path d="M585.1 328.3L592.9 323.8" stroke-width="0.6" stroke="#444"/>
<path d="M583.6 328L591.3 323.5" stroke-width="0.6" stroke="#444"/>
<path d="M581.7 327.9L589.5 323.4" stroke-width="0.6" stroke="#444"/>
<path d="M580.3 328.1L588.1 323.6" stroke-width="0.6" stroke="#444"/>
<path d="M578.7 328.6L586.5 324.1" stroke-width="0.6" stroke="#444"/>
<path d="M577.5 329.2L585.3 324.7" stroke-width="0.6" stroke="#444"/>
<path d="M576.3 330.4L584.1 325.9" stroke-width="0.6" stroke="#444"/>
<path d="M597.4 366.9L605.2 362.4" stroke-width="0.6" stroke="#444"/>
<path d="M597.1 364.5L599 366.4L600.2 365.8L599.4 363.2L599.4 363.2L601.4 364.6L602.3 363.5L601.1 360.9L601.1 360.9L603.1 361.9L603.6 360.3L602.1 357.9L602.1 357.9L604 358.2L604.1 356.4L602.3 354.3L602.3 354.3L603.9 354L603.6 351.9L601.7 350.3L601.7 350.3L603 349.4L602.4 347.2L600.4 346.1L600.4 346.1L601.3 344.6L600.3 342.5L598.4 342L598.4 342L598.9 340.1L597.6 338.1L595.8 338.2L595.8 338.2L595.8 335.9L594.3 334.3L592.9 335L592.9 335L592.4 332.5L590.8 331.2L589.7 332.5L589.7 332.5L588.8 329.9L587.1 329.1L586.4 330.8L586.4 330.8L585.1 328.3L583.6 328L583.3 330.2L583.3 330.2L581.7 327.9L580.3 328.1L580.6 330.5L580.6 330.5L578.7 328.6L577.5 329.2L578.3 331.8L578.3 331.8L576.3 330.4L575.4 331.5L576.6 334.1L576.6 334.1L574.6 333.1L574.1 334.7L575.6 337.1L575.6 337.1L573.8 336.8L573.7 338.6L575.4 340.7L575.4 340.7L573.8 341L574.1 343.1L576 344.7L576 344.7L574.7 345.6L575.4 347.8L577.4 348.9L577.4 348.9L576.4 350.4L577.4 352.5L579.4 353L579.4 353L578.8 354.9L580.1 356.9L581.9 356.8L581.9 356.8L581.9 359.1L583.4 360.7L584.9 360L584.9 360L585.3 362.5L586.9 363.8L588 362.5L588 362.5L589 365.1L590.6 365.9L591.3 364.2L591.3 364.2L592.6 366.7L594.2 367L594.4 364.8L594.4 364.8L596 367.1L597.4 366.9L597.1 364.5Z" stroke-width="0.7" stroke="#444" fill="#fff"/>
<path d="M598.2 366.2L600 368.1L601.2 367.5L600.4 365L600.4 365L602.4 366.5L603.2 365.5L602.1 362.9L602.1 362.9L604.1 364L604.6 362.6L603.2 360.2L603.2 360.2L605.1 360.8L605.4 359.1L603.7 357L603.7 357L605.5 357L605.4 355.1L603.5 353.3L603.5 353.3L605.1 352.8L604.7 350.8L602.7 349.4L602.7 349.4L604 348.3L603.3 346.3L601.3 345.4L601.3 345.4L602.3 343.9L601.3 341.9L599.4 341.4L599.4 341.4L599.9 339.6L598.7 337.7L596.9 337.8L596.9 337.8L597.1 335.6L595.7 334L594.2 334.6L594.2 334.6L593.9 332.1L592.4 330.8L591.2 331.9L591.2 331.9L590.5 329.4L588.9 328.4L588.1 329.9L588.1 329.9L587 327.4L585.5 326.8L585 328.7L585 328.7L583.6 326.3L582.2 326.1L582.1 328.3L582.1 328.3L580.5 326.1L579.2 326.3L579.5 328.8L579.5 328.8L577.7 326.9L576.6 327.5L577.3 330L577.3 330L575.4 328.5L574.5 329.5L575.6 332.1L575.6 332.1L573.6 331L573.1 332.4L574.5 334.8L574.5 334.8L572.6 334.2L572.3 335.9L574 338L574 338L572.2 338L572.3 339.9L574.2 341.7L574.2 341.7L572.6 342.2L573 344.2L575 345.6L575 345.6L573.7 346.7L574.4 348.7L576.4 349.6L576.4 349.6L575.5 351.1L576.5 353.1L578.4 353.6L578.4 353.6L577.8 355.4L579 357.3L580.8 357.2L580.8 357.2L580.6 359.4L582 361L583.5 360.4L583.5 360.4L583.8 362.9L585.3 364.2L586.5 363.1L586.5 363.1L587.2 365.6L588.8 366.6L589.6 365.1L589.6 365.1L590.7 367.6L592.2 368.2L592.7 366.3L592.7 366.3L594.1 368.7L595.5 368.9L595.6 366.7L595.6 366.7L597.2 368.9L598.6 368.7L598.2 366.2Z" stroke-width="0.7" stroke="#444" fill="#fff"/>
<path d="M568.5 332.1L577.1 327.1L600.6 367.9L592 372.9Z" fill="#fff" stroke="none"/>
<path d="M591.4 373.1L600 368.1" stroke-width="0.6" stroke="#444"/>
<path d="M592.5 372.5L601.2 367.5" stroke-width="0.6" stroke="#444"/>
<path d="M593.7 371.5L602.4 366.5" stroke-width="0.6" stroke="#444"/>
<path d="M594.5 370.5L603.2 365.5" stroke-width="0.6" stroke="#444"/>
<path d="M595.4 369L604.1 364" stroke-width="0.6" stroke="#444"/>
<path d="M596 367.6L604.6 362.6" stroke-width="0.6" stroke="#444"/>
<path d="M596.5 365.8L605.1 360.8" stroke-width="0.6" stroke="#444"/>
<path d="M596.7 364.1L605.4 359.1" stroke-width="0.6" stroke="#444"/>
<path d="M596.8 362L605.5 357" stroke-width="0.6" stroke="#444"/>
<path d="M596.7 360.1L605.4 355.1" stroke-width="0.6" stroke="#444"/>
<path d="M596.4 357.8L605.1 352.8" stroke-width="0.6" stroke="#444"/>
<path d="M596 355.8L604.7 350.8" stroke-width="0.6" stroke="#444"/>
<path d="M595.3 353.3L604 348.3" stroke-width="0.6" stroke="#444"/>
<path d="M594.6 351.3L603.3 346.3" stroke-width="0.6" stroke="#444"/>
<path d="M593.6 348.9L602.3 343.9" stroke-width="0.6" stroke="#444"/>
<path d="M592.6 346.9L601.3 341.9" stroke-width="0.6" stroke="#444"/>
<path d="M591.3 344.6L599.9 339.6" stroke-width="0.6" stroke="#444"/>
<path d="M590 342.7L598.7 337.7" stroke-width="0.6" stroke="#444"/>
<path d="M588.4 340.6L597.1 335.6" stroke-width="0.6" stroke="#444"/>
<path d="M587 339L595.7 334" stroke-width="0.6" stroke="#444"/>
<path d="M585.3 337.1L593.9 332.1" stroke-width="0.6" stroke="#444"/>
<path d="M583.7 335.8L592.4 330.8" stroke-width="0.6" stroke="#444"/>
<path d="M581.9 334.4L590.5 329.4" stroke-width="0.6" stroke="#444"/>
<path d="M580.3 333.4L588.9 328.4" stroke-width="0.6" stroke="#444"/>
<path d="M578.4 332.4L587 327.4" stroke-width="0.6" stroke="#444"/>
<path d="M576.8 331.8L585.5 326.8" stroke-width="0.6" stroke="#444"/>
<path d="M575 331.3L583.6 326.3" stroke-width="0.6" stroke="#444"/>
<path d="M573.5 331.1L582.2 326.1" stroke-width="0.6" stroke="#444"/>
<path d="M571.8 331.1L580.5 326.1" stroke-width="0.6" stroke="#444"/>
<path d="M570.5 331.3L579.2 326.3" stroke-width="0.6" stroke="#444"/>
<path d="M569 331.9L577.7 326.9" stroke-width="0.6" stroke="#444"/>
<path d="M567.9 332.5L576.6 327.5" stroke-width="0.6" stroke="#444"/>
<path d="M566.7 333.5L575.4 328.5" stroke-width="0.6" stroke="#444"/>
<path d="M589.9 373.7L598.6 368.7" stroke-width="0.6" stroke="#444"/>
<path d="M589.5 371.2L591.4 373.1L592.5 372.5L591.7 370L591.7 370L593.7 371.5L594.5 370.5L593.4 367.9L593.4 367.9L595.4 369L596 367.6L594.5 365.2L594.5 365.2L596.5 365.8L596.7 364.1L595 362L595 362L596.8 362L596.7 360.1L594.9 358.3L594.9 358.3L596.4 357.8L596 355.8L594.1 354.4L594.1 354.4L595.3 353.3L594.6 351.3L592.7 350.4L592.7 350.4L593.6 348.9L592.6 346.9L590.7 346.4L590.7 346.4L591.3 344.6L590 342.7L588.3 342.8L588.3 342.8L588.4 340.6L587 339L585.5 339.6L585.5 339.6L585.3 337.1L583.7 335.8L582.5 336.9L582.5 336.9L581.9 334.4L580.3 333.4L579.4 334.9L579.4 334.9L578.4 332.4L576.8 331.8L576.4 333.7L576.4 333.7L575 331.3L573.5 331.1L573.5 333.3L573.5 333.3L571.8 331.1L570.5 331.3L570.9 333.8L570.9 333.8L569 331.9L567.9 332.5L568.7 335L568.7 335L566.7 333.5L565.9 334.5L567 337.1L567 337.1L565 336L564.4 337.4L565.9 339.8L565.9 339.8L563.9 339.2L563.7 340.9L565.4 343L565.4 343L563.6 343L563.7 344.9L565.5 346.7L565.5 346.7L564 347.2L564.4 349.2L566.3 350.6L566.3 350.6L565.1 351.7L565.8 353.7L567.7 354.6L567.7 354.6L566.8 356.1L567.8 358.1L569.7 358.6L569.7 358.6L569.1 360.4L570.4 362.3L572.1 362.2L572.1 362.2L572 364.4L573.4 366L574.9 365.4L574.9 365.4L575.1 367.9L576.7 369.2L577.9 368.1L577.9 368.1L578.5 370.6L580.1 371.6L581 370.1L581 370.1L582 372.6L583.6 373.2L584 371.3L584 371.3L585.4 373.7L586.9 373.9L586.9 371.7L586.9 371.7L588.6 373.9L589.9 373.7L589.5 371.2Z" stroke-width="0.7" stroke="#444" fill="#fff"/>
<ellipse cx="578.3" cy="353.3" rx="11.3" ry="6.5" transform="rotate(60 578.3 353.3)" stroke-width="0.9" stroke="#444" fill="#fff"/>
<clipPath id="cp9"><ellipse cx="578.3" cy="353.3" rx="11.3" ry="6.5" transform="rotate(60 578.3 353.3)"/></clipPath><g clip-path="url(#cp9)">
<ellipse cx="582.6" cy="350.8" rx="11" ry="6.4" transform="rotate(60 582.6 350.8)" stroke-width="0.8" stroke="#444"/>
</g>
<path d="M564.8 373.8A11.6 6.7 60 1 0 553.3 353.8" stroke-width="0.8" stroke="#444" fill="#fff"/>
<path d="M547.7 357L553.8 353.5L565.4 373.5L559.3 377Z" fill="#fff" stroke="none"/>
<path d="M559.3 377L565.4 373.5" stroke-width="0.8" stroke="#444"/>
<path d="M547.7 357L553.8 353.5" stroke-width="0.8" stroke="#444"/>
<ellipse cx="553.5" cy="367" rx="11.6" ry="6.7" transform="rotate(60 553.5 367)" stroke-width="0.8" stroke="#444" fill="#fff"/>
<path d="M557.9 376.8L563.9 373.3" stroke-width="0.7" stroke="#444"/>
<path d="M559.5 375.9L565.6 372.4" stroke-width="0.7" stroke="#444"/>
<path d="M560.6 374.3L566.7 370.8" stroke-width="0.7" stroke="#444"/>
<path d="M561.1 372L567.2 368.5" stroke-width="0.7" stroke="#444"/>
<path d="M560.9 369.3L567 365.8" stroke-width="0.7" stroke="#444"/>
<path d="M560.1 366.4L566.2 362.9" stroke-width="0.7" stroke="#444"/>
<path d="M558.7 363.6L564.8 360.1" stroke-width="0.7" stroke="#444"/>
<path d="M556.8 361L562.9 357.5" stroke-width="0.7" stroke="#444"/>
<path d="M554.7 359L560.8 355.5" stroke-width="0.7" stroke="#444"/>
<path d="M552.4 357.7L558.5 354.2" stroke-width="0.7" stroke="#444"/>
<path d="M550.3 357.1L556.3 353.6" stroke-width="0.7" stroke="#444"/>
<path d="M548.4 357.5L554.5 354" stroke-width="0.7" stroke="#444"/>
<ellipse cx="553.5" cy="367" rx="9" ry="5.2" transform="rotate(60 553.5 367)" stroke-width="0.8" stroke="#444" fill="#fff"/>
<clipPath id="cp10"><ellipse cx="553.5" cy="367" rx="9" ry="5.2" transform="rotate(60 553.5 367)"/></clipPath><g clip-path="url(#cp10)">
<path d="M549.8 358.9L555.9 355.4" stroke-width="0.7" stroke="#444"/>
<path d="M548.3 359.8L554.3 356.3" stroke-width="0.7" stroke="#444"/>
<path d="M547.4 361.5L553.4 358" stroke-width="0.7" stroke="#444"/>
<path d="M547.2 364L553.2 360.5" stroke-width="0.7" stroke="#444"/>
<path d="M547.7 366.8L553.8 363.3" stroke-width="0.7" stroke="#444"/>
<path d="M549 369.6L555.1 366.1" stroke-width="0.7" stroke="#444"/>
<path d="M550.8 372.1L556.9 368.6" stroke-width="0.7" stroke="#444"/>
<path d="M552.9 374L559 370.5" stroke-width="0.7" stroke="#444"/>
<path d="M555.1 375L561.2 371.5" stroke-width="0.7" stroke="#444"/>
<path d="M557.2 375.1L563.2 371.6" stroke-width="0.7" stroke="#444"/>
<ellipse cx="559.6" cy="363.5" rx="9" ry="5.2" transform="rotate(60 559.6 363.5)" stroke-width="0.8" stroke="#444" fill="#fff"/>
</g>
<ellipse cx="536.5" cy="378.3" rx="12" ry="6.9" transform="rotate(60 536.5 378.3)" stroke-width="0.9" stroke="#444" fill="#fff"/>
<ellipse cx="535.6" cy="378.8" rx="12" ry="6.9" transform="rotate(60 535.6 378.8)" stroke-width="0.9" stroke="#444" fill="#fff"/>
<ellipse cx="535.6" cy="378.8" rx="8.6" ry="5" transform="rotate(60 535.6 378.8)" stroke-width="0.9" stroke="#444"/>
<path d="M524.7 393A8 4.6 60 1 0 516.7 379.1" stroke-width="0.9" stroke="#444" fill="#fff"/>
<path d="M476.5 402.3L517 378.9L525 392.8L484.5 416.2Z" fill="#fff" stroke="none"/>
<path d="M484.5 416.2L525 392.8" stroke-width="0.9" stroke="#444"/>
<path d="M476.5 402.3L517 378.9" stroke-width="0.9" stroke="#444"/>
<ellipse cx="480.5" cy="409.2" rx="8" ry="4.6" transform="rotate(60 480.5 409.2)" stroke-width="0.9" stroke="#444" fill="#fff"/>
<ellipse cx="481.9" cy="408.4" rx="8" ry="4.6" transform="rotate(60 481.9 408.4)" stroke-width="0.8" stroke="#444"/>
<ellipse cx="480.5" cy="409.2" rx="8" ry="4.6" transform="rotate(60 480.5 409.2)" stroke-width="0.9" stroke="#444" fill="#fff"/>
<path d="M478.6 410.4L481.6 408.6" stroke-width="0.7" stroke="#444"/>
<ellipse cx="486.5" cy="401.3" rx="1.3" ry="0.8" transform="rotate(60 486.5 401.3)" stroke-width="0.7" stroke="#444"/>
<path d="M486.3 388L486.3 400" stroke-width="0.7" stroke="#444"/>
<rect x="485" y="377.6" width="2.8" height="10" rx="1.2" stroke="#444" stroke-width="0.9" fill="#fff"/>
<path d="M621.8 476.5A43 24.8 60 1 0 589.2 400.7" stroke="#444" fill="#fff"/>
<path d="M550.2 414L589.2 398.2L641.7 453L641 462L620 483.7L590.7 505.8L564.5 492L536.3 433.5Z" stroke="none" fill="#fff"/>
<path d="M605.2 487.7A43 24.8 60 0 0 621.5 455" stroke="#444"/>
<path d="M550.2 414C548.6 415.4 542.8 419 540.5 422.2C538.2 425.5 536.7 428.9 536.3 433.5C535.9 438.1 537 444.7 538.2 450C539.4 455.2 541.1 460 543.5 465C545.9 470 549 475.5 552.5 480C556 484.5 560.2 488.5 564.5 492C568.7 495.5 573.6 498.7 578 501C582.4 503.3 588.6 505 590.7 505.8" stroke="#444"/>
<path d="M550.2 414L575 426" stroke="#444"/>
<path d="M575 426C576.7 427.2 582.5 429.5 585.5 433.5C588.5 437.5 590.9 444.2 593 450C595.1 455.7 596.8 462.5 598.2 468C599.7 473.5 601.4 478.7 601.7 483C601.9 487.2 600.1 491.7 599.7 493.5" stroke="#444"/>
<path d="M599.7 493.5L590.7 505.8" stroke="#444"/>
<path d="M591.5 432.7C593 435.6 598.1 444.1 600.5 450C602.9 455.9 604.5 463 605.7 468C607 473 607.6 478 608 480" stroke="#444"/>
<path d="M550.2 414L557 411" stroke="#444"/>
<path d="M556.7 412.5L583.2 426.7L591.5 432.7L621.8 417.7L614 409.5" stroke="#444"/>
<path d="M583.2 426.7L585.8 425.2L585.8 405" stroke="#444"/>
<path d="M596 418.5L611 425.2L621.8 417.7" stroke="#444"/>
<path d="M593 430.5C593.2 429.7 593.5 427.1 594.5 426C595.5 424.9 597.5 423.9 599 423.7C600.5 423.5 602.7 424.6 603.5 424.8" stroke="#444"/>
<path d="M590.7 505.8L594.5 501L608 495L608 490.8L617.7 486L620 483.7" stroke="#444"/>
<path d="M608 480L617 476.2L620 483.7" stroke="#444"/>
<path d="M617 476.2L626 463.5L637.2 459.3L635 474L621.5 480.7" stroke="#444"/>
<path d="M626 463.5C626 464.5 625.2 467.9 626 469.5C626.7 471.1 629 472.8 630.5 473.2C632 473.7 634.2 472.4 635 472.2" stroke="#444"/>
<path d="M611 426C612.5 428.2 617.6 434.5 620 439.5C622.4 444.5 624.2 452 625.2 456C626.2 460 625.9 462.2 626 463.5" stroke="#444"/>
<ellipse cx="571.2" cy="430.8" rx="7.5" ry="4.3" transform="rotate(60 571.2 430.8)" stroke-width="0.9" stroke="#444"/>
<path d="M571.8 423A7.5 4.3 60 0 0 574.5 436.4" stroke-width="0.8" stroke="#444"/>
<ellipse cx="551" cy="461.7" rx="7.5" ry="4.3" transform="rotate(60 551 461.7)" stroke-width="0.9" stroke="#444"/>
<path d="M551.5 453.9A7.5 4.3 60 0 0 554.3 467.3" stroke-width="0.8" stroke="#444"/>
<ellipse cx="593" cy="486" rx="7.5" ry="4.3" transform="rotate(60 593 486)" stroke-width="0.9" stroke="#444"/>
<path d="M593.5 478.2A7.5 4.3 60 0 0 596.3 491.6" stroke-width="0.8" stroke="#444"/>
<ellipse cx="604.2" cy="412.5" rx="7" ry="4" transform="rotate(60 604.2 412.5)" stroke-width="0.9" stroke="#444"/>
<path d="M605.2 405.4A6.5 3.8 60 0 0 607.6 417.1" stroke-width="0.8" stroke="#444"/>
<ellipse cx="571.6" cy="460" rx="23" ry="13.3" transform="rotate(60 571.6 460)" stroke-width="1.2" fill="#fff"/>
<ellipse cx="572.5" cy="459.5" rx="20.5" ry="11.8" transform="rotate(60 572.5 459.5)" stroke-width="0.9" stroke="#444"/>
<clipPath id="cp11"><ellipse cx="572.5" cy="459.5" rx="20.5" ry="11.8" transform="rotate(60 572.5 459.5)"/></clipPath><g clip-path="url(#cp11)">
<ellipse cx="577.7" cy="456.5" rx="20" ry="11.5" transform="rotate(60 577.7 456.5)" stroke-width="0.9" stroke="#444"/>
</g>
<path d="M645 316L653.7 311.3L653.7 350"/>
<path d="M641 367.4L597 382.8L597 418"/>
<path d="M476 414L470.3 417L470.3 451.5L584.5 388.8L584.5 424"/>
<path d="M556.7 410L574 404L575.4 406.7L585 401.5"/>
<ellipse cx="528.9" cy="486.6" rx="25" ry="14.4" transform="rotate(60 528.9 486.6)" stroke-width="0.9" stroke="#444" fill="#fff"/>
<ellipse cx="527.9" cy="487.2" rx="25" ry="14.4" transform="rotate(60 527.9 487.2)" stroke-width="0.9" stroke="#444" fill="#fff"/>
<ellipse cx="527.9" cy="487.2" rx="21.3" ry="12.3" transform="rotate(60 527.9 487.2)" stroke-width="0.9" stroke="#444"/>
<path d="M525 467.6A21.3 12.3 60 0 0 532.8 505.6" stroke-width="0.7" stroke="#444"/>
<path d="M509.6 506.3A9.3 5.4 60 1 0 500.3 490.2" stroke-width="0.9" stroke="#444" fill="#fff"/>
<path d="M486.4 498.2L500.7 489.9L510 506.1L495.6 514.4Z" fill="#fff" stroke="none"/>
<path d="M495.6 514.4L510 506.1" stroke-width="0.9" stroke="#444"/>
<path d="M486.4 498.2L500.7 489.9" stroke-width="0.9" stroke="#444"/>
<ellipse cx="491" cy="506.3" rx="9.3" ry="5.4" transform="rotate(60 491 506.3)" stroke-width="0.9" stroke="#444" fill="#fff"/>
<ellipse cx="491" cy="506.3" rx="7.2" ry="4.2" transform="rotate(60 491 506.3)" stroke-width="0.8" stroke="#444"/>
<clipPath id="cp12"><ellipse cx="491" cy="506.3" rx="7.2" ry="4.2" transform="rotate(60 491 506.3)"/></clipPath><g clip-path="url(#cp12)">
<path d="M488.8 499.7L494 496.7" stroke-width="0.7" stroke="#444"/>
<path d="M487.3 500.1L492.5 497.1" stroke-width="0.7" stroke="#444"/>
<path d="M486.2 501.4L491.4 498.4" stroke-width="0.7" stroke="#444"/>
<path d="M485.9 503.5L491.1 500.5" stroke-width="0.7" stroke="#444"/>
<path d="M486.3 505.9L491.5 502.9" stroke-width="0.7" stroke="#444"/>
<path d="M487.4 508.4L492.6 505.4" stroke-width="0.7" stroke="#444"/>
<path d="M489 510.6L494.2 507.6" stroke-width="0.7" stroke="#444"/>
<path d="M490.9 512.1L496.1 509.1" stroke-width="0.7" stroke="#444"/>
<path d="M492.8 512.8L498 509.8" stroke-width="0.7" stroke="#444"/>
<ellipse cx="495.3" cy="503.8" rx="6.5" ry="3.8" transform="rotate(60 495.3 503.8)" stroke-width="0.7" stroke="#444"/>
</g>
<path d="M488.4 512.7A5.2 3 60 1 0 483.2 503.7" stroke-width="0.8" stroke="#444" fill="#fff"/>
<path d="M474.8 508.6L483.4 503.6L488.6 512.6L480 517.6Z" fill="#fff" stroke="none"/>
<path d="M480 517.6L488.6 512.6" stroke-width="0.8" stroke="#444"/>
<path d="M474.8 508.6L483.4 503.6" stroke-width="0.8" stroke="#444"/>
<ellipse cx="477.4" cy="513.1" rx="5.2" ry="3" transform="rotate(60 477.4 513.1)" stroke-width="0.8" stroke="#444" fill="#fff"/>
<path d="M479.7 517.7L488.4 512.7" stroke-width="0.6" stroke="#444"/>
<path d="M480.7 516.8L489.4 511.8" stroke-width="0.6" stroke="#444"/>
<path d="M481.1 515.2L489.7 510.2" stroke-width="0.6" stroke="#444"/>
<path d="M480.7 513.2L489.4 508.2" stroke-width="0.6" stroke="#444"/>
<path d="M479.7 511.2L488.4 506.2" stroke-width="0.6" stroke="#444"/>
<path d="M478.3 509.5L487 504.5" stroke-width="0.6" stroke="#444"/>
<path d="M476.7 508.6L485.4 503.6" stroke-width="0.6" stroke="#444"/>
<path d="M475.3 508.4L483.9 503.4" stroke-width="0.6" stroke="#444"/>
<path d="M481.2 518.4A6.5 3.8 60 1 0 474.7 507.2" stroke-width="0.8" stroke="#444" fill="#fff"/>
<path d="M457.7 517L475 507L481.5 518.2L464.2 528.2Z" fill="#fff" stroke="none"/>
<path d="M464.2 528.2L481.5 518.2" stroke-width="0.8" stroke="#444"/>
<path d="M457.7 517L475 507" stroke-width="0.8" stroke="#444"/>
<path d="M465.5 531L467.1 532.8L468.4 532L467.7 529.7L467.7 529.7L469.4 530.8L470.1 529.1L468.7 527L468.7 527L470.3 527L470.1 524.7L468.3 523.2L468.3 523.2L469.4 522.3L468.4 519.8L466.7 519.3L466.7 519.3L467.1 517.5L465.5 515.4L464.1 515.9L464.1 515.9L463.7 513.6L461.8 512.3L461 513.7L461 513.7L459.9 511.5L458.1 511.1L458.1 513.2L458.1 513.2L456.5 511.4L455.2 512.2L455.9 514.5L455.9 514.5L454.1 513.4L453.5 515.1L454.9 517.2L454.9 517.2L453.3 517.2L453.5 519.5L455.3 521L455.3 521L454.1 521.9L455.2 524.4L456.9 524.9L456.9 524.9L456.5 526.7L458.1 528.8L459.5 528.3L459.5 528.3L459.9 530.6L461.8 531.9L462.6 530.5L462.6 530.5L463.7 532.7L465.5 533.1L465.5 531Z" stroke-width="0.8" stroke="#444" fill="#fff"/>
<path d="M448 516.2L455.8 511.7L467.8 532.5L460 537Z" fill="#fff" stroke="none"/>
<path d="M459.3 537.3L467.1 532.8" stroke-width="0.7" stroke="#444"/>
<path d="M460.6 536.5L468.4 532" stroke-width="0.7" stroke="#444"/>
<path d="M461.6 535.3L469.4 530.8" stroke-width="0.7" stroke="#444"/>
<path d="M462.3 533.6L470.1 529.1" stroke-width="0.7" stroke="#444"/>
<path d="M462.5 531.5L470.3 527" stroke-width="0.7" stroke="#444"/>
<path d="M462.3 529.2L470.1 524.7" stroke-width="0.7" stroke="#444"/>
<path d="M461.6 526.8L469.4 522.3" stroke-width="0.7" stroke="#444"/>
<path d="M460.6 524.3L468.4 519.8" stroke-width="0.7" stroke="#444"/>
<path d="M459.3 522L467.1 517.5" stroke-width="0.7" stroke="#444"/>
<path d="M457.7 519.9L465.5 515.4" stroke-width="0.7" stroke="#444"/>
<path d="M455.9 518.1L463.7 513.6" stroke-width="0.7" stroke="#444"/>
<path d="M454 516.8L461.8 512.3" stroke-width="0.7" stroke="#444"/>
<path d="M452.1 516L459.9 511.5" stroke-width="0.7" stroke="#444"/>
<path d="M450.3 515.6L458.1 511.1" stroke-width="0.7" stroke="#444"/>
<path d="M448.7 515.9L456.5 511.4" stroke-width="0.7" stroke="#444"/>
<path d="M447.4 516.7L455.2 512.2" stroke-width="0.7" stroke="#444"/>
<path d="M457.7 535.5L459.3 537.3L460.6 536.5L459.9 534.2L459.9 534.2L461.6 535.3L462.3 533.6L460.9 531.5L460.9 531.5L462.5 531.5L462.3 529.2L460.5 527.7L460.5 527.7L461.6 526.8L460.6 524.3L458.9 523.8L458.9 523.8L459.3 522L457.7 519.9L456.3 520.4L456.3 520.4L455.9 518.1L454 516.8L453.2 518.2L453.2 518.2L452.1 516L450.3 515.6L450.3 517.7L450.3 517.7L448.7 515.9L447.4 516.7L448.1 519L448.1 519L446.4 517.9L445.7 519.6L447.1 521.7L447.1 521.7L445.5 521.7L445.7 524L447.5 525.5L447.5 525.5L446.4 526.4L447.4 528.9L449.1 529.4L449.1 529.4L448.7 531.2L450.3 533.3L451.7 532.8L451.7 532.8L452.1 535.1L454 536.4L454.8 535L454.8 535L455.9 537.2L457.7 537.6L457.7 535.5Z" stroke-width="0.8" stroke="#444" fill="#fff"/>
<ellipse cx="454" cy="526.6" rx="8.6" ry="5" transform="rotate(60 454 526.6)" stroke-width="0.7" stroke="#444"/>
<ellipse cx="452.8" cy="527.3" rx="1.6" ry="0.9" transform="rotate(60 452.8 527.3)" stroke-width="0.7" stroke="#444"/>
<circle cx="441.4" cy="535" r="3.6" stroke-width="0.9" stroke="#444" fill="#fff"/>
<path d="M444.6 533.2L451.5 528" stroke-width="0.7" stroke="#444"/>
<ellipse cx="389.9" cy="563.1" rx="80" ry="46.2" transform="rotate(60 389.9 563.1)" stroke="#444" fill="#fff"/>
<ellipse cx="385.6" cy="565.6" rx="86.5" ry="49.9" transform="rotate(60 385.6 565.6)" stroke="#444" fill="#fff"/>
<ellipse cx="381.2" cy="568.1" rx="86.5" ry="49.9" transform="rotate(60 381.2 568.1)" stroke="#444" fill="#fff"/>
<ellipse cx="422.9" cy="637" rx="2.2" ry="1.3" transform="rotate(60 422.9 637)" stroke-width="0.8" stroke="#444" fill="#fff"/>
<ellipse cx="427.6" cy="633" rx="2.2" ry="1.3" transform="rotate(60 427.6 633)" stroke-width="0.8" stroke="#444" fill="#fff"/>
<ellipse cx="431.5" cy="628" rx="2.2" ry="1.3" transform="rotate(60 431.5 628)" stroke-width="0.8" stroke="#444" fill="#fff"/>
<ellipse cx="436.7" cy="614.9" rx="2.2" ry="1.3" transform="rotate(60 436.7 614.9)" stroke-width="0.8" stroke="#444" fill="#fff"/>
<ellipse cx="437.9" cy="607.1" rx="2.2" ry="1.3" transform="rotate(60 437.9 607.1)" stroke-width="0.8" stroke="#444" fill="#fff"/>
<ellipse cx="438.1" cy="598.6" rx="2.2" ry="1.3" transform="rotate(60 438.1 598.6)" stroke-width="0.8" stroke="#444" fill="#fff"/>
<ellipse cx="435.7" cy="580.3" rx="2.2" ry="1.3" transform="rotate(60 435.7 580.3)" stroke-width="0.8" stroke="#444" fill="#fff"/>
<ellipse cx="433" cy="570.7" rx="2.2" ry="1.3" transform="rotate(60 433 570.7)" stroke-width="0.8" stroke="#444" fill="#fff"/>
<ellipse cx="429.5" cy="561.1" rx="2.2" ry="1.3" transform="rotate(60 429.5 561.1)" stroke-width="0.8" stroke="#444" fill="#fff"/>
<ellipse cx="420" cy="542.4" rx="2.2" ry="1.3" transform="rotate(60 420 542.4)" stroke-width="0.8" stroke="#444" fill="#fff"/>
<ellipse cx="414.3" cy="533.7" rx="2.2" ry="1.3" transform="rotate(60 414.3 533.7)" stroke-width="0.8" stroke="#444" fill="#fff"/>
<ellipse cx="407.9" cy="525.5" rx="2.2" ry="1.3" transform="rotate(60 407.9 525.5)" stroke-width="0.8" stroke="#444" fill="#fff"/>
<ellipse cx="394" cy="511.4" rx="2.2" ry="1.3" transform="rotate(60 394 511.4)" stroke-width="0.8" stroke="#444" fill="#fff"/>
<ellipse cx="386.7" cy="505.8" rx="2.2" ry="1.3" transform="rotate(60 386.7 505.8)" stroke-width="0.8" stroke="#444" fill="#fff"/>
<ellipse cx="379.2" cy="501.3" rx="2.2" ry="1.3" transform="rotate(60 379.2 501.3)" stroke-width="0.8" stroke="#444" fill="#fff"/>
<ellipse cx="364.6" cy="495.6" rx="2.2" ry="1.3" transform="rotate(60 364.6 495.6)" stroke-width="0.8" stroke="#444" fill="#fff"/>
<ellipse cx="357.6" cy="494.7" rx="2.2" ry="1.3" transform="rotate(60 357.6 494.7)" stroke-width="0.8" stroke="#444" fill="#fff"/>
<ellipse cx="351.1" cy="494.9" rx="2.2" ry="1.3" transform="rotate(60 351.1 494.9)" stroke-width="0.8" stroke="#444" fill="#fff"/>
<ellipse cx="339.6" cy="499.2" rx="2.2" ry="1.3" transform="rotate(60 339.6 499.2)" stroke-width="0.8" stroke="#444" fill="#fff"/>
<ellipse cx="334.9" cy="503.2" rx="2.2" ry="1.3" transform="rotate(60 334.9 503.2)" stroke-width="0.8" stroke="#444" fill="#fff"/>
<ellipse cx="331" cy="508.2" rx="2.2" ry="1.3" transform="rotate(60 331 508.2)" stroke-width="0.8" stroke="#444" fill="#fff"/>
<ellipse cx="325.8" cy="521.3" rx="2.2" ry="1.3" transform="rotate(60 325.8 521.3)" stroke-width="0.8" stroke="#444" fill="#fff"/>
<ellipse cx="324.6" cy="529.1" rx="2.2" ry="1.3" transform="rotate(60 324.6 529.1)" stroke-width="0.8" stroke="#444" fill="#fff"/>
<ellipse cx="324.3" cy="537.6" rx="2.2" ry="1.3" transform="rotate(60 324.3 537.6)" stroke-width="0.8" stroke="#444" fill="#fff"/>
<ellipse cx="326.8" cy="555.9" rx="2.2" ry="1.3" transform="rotate(60 326.8 555.9)" stroke-width="0.8" stroke="#444" fill="#fff"/>
<ellipse cx="329.4" cy="565.5" rx="2.2" ry="1.3" transform="rotate(60 329.4 565.5)" stroke-width="0.8" stroke="#444" fill="#fff"/>
<ellipse cx="332.9" cy="575.1" rx="2.2" ry="1.3" transform="rotate(60 332.9 575.1)" stroke-width="0.8" stroke="#444" fill="#fff"/>
<ellipse cx="342.4" cy="593.8" rx="2.2" ry="1.3" transform="rotate(60 342.4 593.8)" stroke-width="0.8" stroke="#444" fill="#fff"/>
<ellipse cx="348.2" cy="602.5" rx="2.2" ry="1.3" transform="rotate(60 348.2 602.5)" stroke-width="0.8" stroke="#444" fill="#fff"/>
<ellipse cx="354.5" cy="610.7" rx="2.2" ry="1.3" transform="rotate(60 354.5 610.7)" stroke-width="0.8" stroke="#444" fill="#fff"/>
<ellipse cx="368.4" cy="624.8" rx="2.2" ry="1.3" transform="rotate(60 368.4 624.8)" stroke-width="0.8" stroke="#444" fill="#fff"/>
<ellipse cx="375.8" cy="630.4" rx="2.2" ry="1.3" transform="rotate(60 375.8 630.4)" stroke-width="0.8" stroke="#444" fill="#fff"/>
<ellipse cx="383.2" cy="634.9" rx="2.2" ry="1.3" transform="rotate(60 383.2 634.9)" stroke-width="0.8" stroke="#444" fill="#fff"/>
<ellipse cx="397.9" cy="640.6" rx="2.2" ry="1.3" transform="rotate(60 397.9 640.6)" stroke-width="0.8" stroke="#444" fill="#fff"/>
<ellipse cx="404.8" cy="641.5" rx="2.2" ry="1.3" transform="rotate(60 404.8 641.5)" stroke-width="0.8" stroke="#444" fill="#fff"/>
<ellipse cx="411.4" cy="641.3" rx="2.2" ry="1.3" transform="rotate(60 411.4 641.3)" stroke-width="0.8" stroke="#444" fill="#fff"/>
<ellipse cx="380.4" cy="568.6" rx="66.5" ry="38.4" transform="rotate(60 380.4 568.6)" stroke="#444"/>
<ellipse cx="378.6" cy="569.6" rx="64.5" ry="37.2" transform="rotate(60 378.6 569.6)" stroke="#444" fill="#fff"/>
<ellipse cx="347.4" cy="587.6" rx="71" ry="41" transform="rotate(60 347.4 587.6)" stroke="#444" fill="#fff"/>
<path d="M285.1 541.6L311.9 526.1L382.9 649.1L356.1 664.6Z" fill="#fff" stroke="none"/>
<path d="M356.1 664.6L382.9 649.1" stroke="#444"/>
<path d="M285.1 541.6L311.9 526.1" stroke="#444"/>
<ellipse cx="320.6" cy="603.1" rx="71" ry="41" transform="rotate(60 320.6 603.1)" stroke="#444" fill="#fff"/>
<ellipse cx="355.8" cy="657.5" rx="2.1" ry="1.2" transform="rotate(60 355.8 657.5)" stroke-width="0.8" stroke="#444" fill="#fff"/>
<ellipse cx="360" cy="653.2" rx="2.1" ry="1.2" transform="rotate(60 360 653.2)" stroke-width="0.8" stroke="#444" fill="#fff"/>
<ellipse cx="363.2" cy="647.6" rx="2.1" ry="1.2" transform="rotate(60 363.2 647.6)" stroke-width="0.8" stroke="#444" fill="#fff"/>
<ellipse cx="366.5" cy="633.3" rx="2.1" ry="1.2" transform="rotate(60 366.5 633.3)" stroke-width="0.8" stroke="#444" fill="#fff"/>
<ellipse cx="366.4" cy="624.9" rx="2.1" ry="1.2" transform="rotate(60 366.4 624.9)" stroke-width="0.8" stroke="#444" fill="#fff"/>
<ellipse cx="365.2" cy="616" rx="2.1" ry="1.2" transform="rotate(60 365.2 616)" stroke-width="0.8" stroke="#444" fill="#fff"/>
<ellipse cx="359.6" cy="597.5" rx="2.1" ry="1.2" transform="rotate(60 359.6 597.5)" stroke-width="0.8" stroke="#444" fill="#fff"/>
<ellipse cx="355.3" cy="588.3" rx="2.1" ry="1.2" transform="rotate(60 355.3 588.3)" stroke-width="0.8" stroke="#444" fill="#fff"/>
<ellipse cx="350.1" cy="579.5" rx="2.1" ry="1.2" transform="rotate(60 350.1 579.5)" stroke-width="0.8" stroke="#444" fill="#fff"/>
<ellipse cx="337.8" cy="563.8" rx="2.1" ry="1.2" transform="rotate(60 337.8 563.8)" stroke-width="0.8" stroke="#444" fill="#fff"/>
<ellipse cx="330.9" cy="557.4" rx="2.1" ry="1.2" transform="rotate(60 330.9 557.4)" stroke-width="0.8" stroke="#444" fill="#fff"/>
<ellipse cx="323.8" cy="552" rx="2.1" ry="1.2" transform="rotate(60 323.8 552)" stroke-width="0.8" stroke="#444" fill="#fff"/>
<ellipse cx="309.5" cy="545.2" rx="2.1" ry="1.2" transform="rotate(60 309.5 545.2)" stroke-width="0.8" stroke="#444" fill="#fff"/>
<ellipse cx="302.6" cy="543.9" rx="2.1" ry="1.2" transform="rotate(60 302.6 543.9)" stroke-width="0.8" stroke="#444" fill="#fff"/>
<ellipse cx="296.2" cy="544" rx="2.1" ry="1.2" transform="rotate(60 296.2 544)" stroke-width="0.8" stroke="#444" fill="#fff"/>
<ellipse cx="285.4" cy="548.7" rx="2.1" ry="1.2" transform="rotate(60 285.4 548.7)" stroke-width="0.8" stroke="#444" fill="#fff"/>
<ellipse cx="281.2" cy="553" rx="2.1" ry="1.2" transform="rotate(60 281.2 553)" stroke-width="0.8" stroke="#444" fill="#fff"/>
<ellipse cx="278" cy="558.6" rx="2.1" ry="1.2" transform="rotate(60 278 558.6)" stroke-width="0.8" stroke="#444" fill="#fff"/>
<ellipse cx="274.7" cy="572.9" rx="2.1" ry="1.2" transform="rotate(60 274.7 572.9)" stroke-width="0.8" stroke="#444" fill="#fff"/>
<ellipse cx="274.8" cy="581.3" rx="2.1" ry="1.2" transform="rotate(60 274.8 581.3)" stroke-width="0.8" stroke="#444" fill="#fff"/>
<ellipse cx="276" cy="590.2" rx="2.1" ry="1.2" transform="rotate(60 276 590.2)" stroke-width="0.8" stroke="#444" fill="#fff"/>
<ellipse cx="281.6" cy="608.7" rx="2.1" ry="1.2" transform="rotate(60 281.6 608.7)" stroke-width="0.8" stroke="#444" fill="#fff"/>
<ellipse cx="285.9" cy="617.9" rx="2.1" ry="1.2" transform="rotate(60 285.9 617.9)" stroke-width="0.8" stroke="#444" fill="#fff"/>
<ellipse cx="291.1" cy="626.7" rx="2.1" ry="1.2" transform="rotate(60 291.1 626.7)" stroke-width="0.8" stroke="#444" fill="#fff"/>
<ellipse cx="303.4" cy="642.4" rx="2.1" ry="1.2" transform="rotate(60 303.4 642.4)" stroke-width="0.8" stroke="#444" fill="#fff"/>
<ellipse cx="310.3" cy="648.8" rx="2.1" ry="1.2" transform="rotate(60 310.3 648.8)" stroke-width="0.8" stroke="#444" fill="#fff"/>
<ellipse cx="317.4" cy="654.2" rx="2.1" ry="1.2" transform="rotate(60 317.4 654.2)" stroke-width="0.8" stroke="#444" fill="#fff"/>
<ellipse cx="331.7" cy="661" rx="2.1" ry="1.2" transform="rotate(60 331.7 661)" stroke-width="0.8" stroke="#444" fill="#fff"/>
<ellipse cx="338.6" cy="662.3" rx="2.1" ry="1.2" transform="rotate(60 338.6 662.3)" stroke-width="0.8" stroke="#444" fill="#fff"/>
<ellipse cx="345" cy="662.2" rx="2.1" ry="1.2" transform="rotate(60 345 662.2)" stroke-width="0.8" stroke="#444" fill="#fff"/>
<ellipse cx="320.6" cy="603.1" rx="59" ry="34.1" transform="rotate(60 320.6 603.1)" stroke="#444" fill="#fff"/>
<clipPath id="cp13"><ellipse cx="320.6" cy="603.1" rx="59" ry="34.1" transform="rotate(60 320.6 603.1)"/></clipPath><g clip-path="url(#cp13)">
<path d="M318 547.6A57 32.9 60 1 0 366.3 636.4" stroke="#444"/>
<path d="M318.8 547.9A56.2 32.4 60 1 0 366.4 635.5" stroke-width="0.7" stroke="#444"/>
<path d="M341 545.8A42 24.3 60 0 0 363.7 622.2" stroke="#444"/>
<path d="M346.8 547.8A36 20.8 60 0 0 353 605.2" stroke="#444"/>
</g>
<ellipse cx="241.4" cy="649.8" rx="71.5" ry="41.3" transform="rotate(60 241.4 649.8)" stroke="#444" fill="#fff"/>
<path d="M189.8 597.1L205.7 587.9L277.2 711.7L261.2 720.9Z" fill="#fff" stroke="none"/>
<path d="M261.2 720.9L277.2 711.7" stroke="#444"/>
<path d="M189.8 597.1L205.7 587.9" stroke="#444"/>
<ellipse cx="225.5" cy="659" rx="71.5" ry="41.3" transform="rotate(60 225.5 659)" stroke="#444" fill="#fff"/>
<clipPath id="cp14"><ellipse cx="225.5" cy="659" rx="61.2" ry="35.3" transform="rotate(60 225.5 659)"/></clipPath><g clip-path="url(#cp14)">
<rect x="154" y="587.5" width="143" height="143" fill="#fff" stroke="none"/>
<path d="M252.4 707.5L268.3 698.3" stroke-width="0.7" stroke="#555"/>
<path d="M254.1 706.6L270 697.4" stroke-width="0.7" stroke="#555"/>
<path d="M254.4 713.2L270.4 704" stroke-width="0.6" stroke="#888"/>
<path d="M255.6 705.4L271.6 696.2" stroke-width="0.7" stroke="#555"/>
<path d="M257.1 704.1L273 694.9" stroke-width="0.7" stroke="#555"/>
<path d="M258.1 711L274.1 701.8" stroke-width="0.6" stroke="#888"/>
<path d="M258.5 702.6L274.4 693.4" stroke-width="0.7" stroke="#555"/>
<path d="M259.7 701L275.6 691.8" stroke-width="0.7" stroke="#555"/>
<path d="M261.3 708.1L277.3 698.9" stroke-width="0.6" stroke="#888"/>
<path d="M260.8 699.2L276.7 690" stroke-width="0.7" stroke="#555"/>
<path d="M261.8 697.3L277.7 688.1" stroke-width="0.7" stroke="#555"/>
<path d="M264.1 704.5L280 695.3" stroke-width="0.6" stroke="#888"/>
<path d="M262.6 695.2L278.5 686" stroke-width="0.7" stroke="#555"/>
<path d="M263.3 693L279.2 683.8" stroke-width="0.7" stroke="#555"/>
<path d="M266.2 700.2L282.1 691" stroke-width="0.6" stroke="#888"/>
<path d="M219.6 610.8L235.5 601.6" stroke-width="0.7" stroke="#555"/>
<path d="M217.3 609.9L233.2 600.7" stroke-width="0.7" stroke="#555"/>
<path d="M220.2 606.1L236.1 596.9" stroke-width="0.6" stroke="#888"/>
<path d="M215 609.3L230.9 600.1" stroke-width="0.7" stroke="#555"/>
<path d="M212.7 608.8L228.6 599.6" stroke-width="0.7" stroke="#555"/>
<path d="M215 604.2L230.9 595" stroke-width="0.6" stroke="#888"/>
<path d="M210.5 608.5L226.4 599.3" stroke-width="0.7" stroke="#555"/>
<path d="M208.3 608.3L224.3 599.1" stroke-width="0.7" stroke="#555"/>
<path d="M210 603.1L225.9 593.9" stroke-width="0.6" stroke="#888"/>
<path d="M206.2 608.4L222.2 599.2" stroke-width="0.7" stroke="#555"/>
<path d="M204.2 608.6L220.1 599.4" stroke-width="0.7" stroke="#555"/>
<path d="M205.2 602.9L221.1 593.7" stroke-width="0.6" stroke="#888"/>
<path d="M202.2 609.1L218.2 599.9" stroke-width="0.7" stroke="#555"/>
<path d="M200.4 609.7L216.3 600.5" stroke-width="0.7" stroke="#555"/>
<path d="M200.7 603.4L216.6 594.2" stroke-width="0.6" stroke="#888"/>
<path d="M198.6 610.5L214.5 601.3" stroke-width="0.7" stroke="#555"/>
<path d="M196.9 611.4L212.9 602.2" stroke-width="0.7" stroke="#555"/>
<path d="M196.6 604.8L212.5 595.6" stroke-width="0.6" stroke="#888"/>
<path d="M195.4 612.6L211.3 603.4" stroke-width="0.7" stroke="#555"/>
<path d="M193.9 613.9L209.8 604.7" stroke-width="0.7" stroke="#555"/>
<path d="M192.9 607L208.8 597.8" stroke-width="0.6" stroke="#888"/>
<path d="M192.5 615.4L208.5 606.2" stroke-width="0.7" stroke="#555"/>
<path d="M191.3 617L207.3 607.8" stroke-width="0.7" stroke="#555"/>
<path d="M189.7 609.9L205.6 600.7" stroke-width="0.6" stroke="#888"/>
<path d="M190.2 618.8L206.1 609.6" stroke-width="0.7" stroke="#555"/>
<path d="M189.2 620.7L205.2 611.5" stroke-width="0.7" stroke="#555"/>
<path d="M186.9 613.5L202.9 604.3" stroke-width="0.6" stroke="#888"/>
<path d="M188.4 622.8L204.3 613.6" stroke-width="0.7" stroke="#555"/>
<path d="M187.7 625L203.6 615.8" stroke-width="0.7" stroke="#555"/>
<path d="M184.8 617.8L200.7 608.6" stroke-width="0.6" stroke="#888"/>
<path d="M187.1 627.3L203.1 618.1" stroke-width="0.7" stroke="#555"/>
<path d="M186.7 629.8L202.6 620.6" stroke-width="0.7" stroke="#555"/>
<path d="M183.3 622.7L199.2 613.5" stroke-width="0.6" stroke="#888"/>
<path d="M186.4 632.3L202.4 623.1" stroke-width="0.7" stroke="#555"/>
<path d="M186.3 635L202.2 625.8" stroke-width="0.7" stroke="#555"/>
<path d="M182.3 628.1L198.3 618.9" stroke-width="0.6" stroke="#888"/>
<path d="M186.3 637.7L202.2 628.5" stroke-width="0.7" stroke="#555"/>
<path d="M186.4 640.5L202.3 631.3" stroke-width="0.7" stroke="#555"/>
<path d="M182 634L197.9 624.8" stroke-width="0.6" stroke="#888"/>
<path d="M186.7 643.4L202.6 634.2" stroke-width="0.7" stroke="#555"/>
<path d="M187.1 646.4L203.1 637.2" stroke-width="0.7" stroke="#555"/>
<path d="M182.3 640.3L198.3 631.1" stroke-width="0.6" stroke="#888"/>
<path d="M187.7 649.3L203.6 640.1" stroke-width="0.7" stroke="#555"/>
<path d="M188.4 652.4L204.3 643.2" stroke-width="0.7" stroke="#555"/>
<path d="M183.3 646.8L199.2 637.6" stroke-width="0.6" stroke="#888"/>
<path d="M189.2 655.4L205.2 646.2" stroke-width="0.7" stroke="#555"/>
<path d="M190.2 658.5L206.1 649.3" stroke-width="0.7" stroke="#555"/>
<path d="M184.9 653.5L200.8 644.3" stroke-width="0.6" stroke="#888"/>
<path d="M191.3 661.5L207.3 652.3" stroke-width="0.7" stroke="#555"/>
<path d="M192.5 664.6L208.5 655.4" stroke-width="0.7" stroke="#555"/>
<path d="M187 660.2L203 651" stroke-width="0.6" stroke="#888"/>
<path d="M193.9 667.6L209.8 658.4" stroke-width="0.7" stroke="#555"/>
<path d="M195.4 670.6L211.3 661.4" stroke-width="0.7" stroke="#555"/>
<path d="M189.8 667L205.7 657.8" stroke-width="0.6" stroke="#888"/>
<path d="M196.9 673.6L212.9 664.4" stroke-width="0.7" stroke="#555"/>
<path d="M198.6 676.5L214.5 667.3" stroke-width="0.7" stroke="#555"/>
<path d="M193 673.6L209 664.4" stroke-width="0.6" stroke="#888"/>
<path d="M200.4 679.3L216.3 670.1" stroke-width="0.7" stroke="#555"/>
<path d="M202.2 682.1L218.2 672.9" stroke-width="0.7" stroke="#555"/>
<path d="M196.7 680.1L212.7 670.9" stroke-width="0.6" stroke="#888"/>
<path d="M204.2 684.8L220.1 675.6" stroke-width="0.7" stroke="#555"/>
<path d="M206.2 687.3L222.2 678.1" stroke-width="0.7" stroke="#555"/>
<path d="M200.9 686.2L216.8 677" stroke-width="0.6" stroke="#888"/>
<path d="M208.3 689.8L224.3 680.6" stroke-width="0.7" stroke="#555"/>
<path d="M210.5 692.2L226.4 683" stroke-width="0.7" stroke="#555"/>
<path d="M205.4 691.9L221.3 682.7" stroke-width="0.6" stroke="#888"/>
<path d="M212.7 694.4L228.6 685.2" stroke-width="0.7" stroke="#555"/>
<path d="M215 696.6L230.9 687.4" stroke-width="0.7" stroke="#555"/>
<path d="M210.2 697.1L226.1 687.9" stroke-width="0.6" stroke="#888"/>
<path d="M217.3 698.6L233.2 689.4" stroke-width="0.7" stroke="#555"/>
<path d="M219.6 700.4L235.5 691.2" stroke-width="0.7" stroke="#555"/>
<path d="M215.2 701.8L231.1 692.6" stroke-width="0.6" stroke="#888"/>
<path d="M221.9 702.1L237.9 692.9" stroke-width="0.7" stroke="#555"/>
<path d="M224.3 703.6L240.2 694.4" stroke-width="0.7" stroke="#555"/>
<path d="M220.4 705.9L236.3 696.7" stroke-width="0.6" stroke="#888"/>
<path d="M226.7 705L242.6 695.8" stroke-width="0.7" stroke="#555"/>
<path d="M229.1 706.2L245 697" stroke-width="0.7" stroke="#555"/>
<path d="M225.6 709.3L241.5 700.1" stroke-width="0.6" stroke="#888"/>
<path d="M231.4 707.2L247.3 698" stroke-width="0.7" stroke="#555"/>
<path d="M233.7 708.1L249.7 698.9" stroke-width="0.7" stroke="#555"/>
<path d="M230.8 711.9L246.8 702.7" stroke-width="0.6" stroke="#888"/>
<path d="M236 708.7L252 699.5" stroke-width="0.7" stroke="#555"/>
<path d="M238.3 709.2L254.2 700" stroke-width="0.7" stroke="#555"/>
<path d="M236 713.8L251.9 704.6" stroke-width="0.6" stroke="#888"/>
<path d="M240.5 709.5L256.5 700.3" stroke-width="0.7" stroke="#555"/>
<path d="M242.7 709.7L258.6 700.5" stroke-width="0.7" stroke="#555"/>
<path d="M241 714.9L257 705.7" stroke-width="0.6" stroke="#888"/>
<path d="M244.8 709.6L260.7 700.4" stroke-width="0.7" stroke="#555"/>
<path d="M246.8 709.4L262.7 700.2" stroke-width="0.7" stroke="#555"/>
<path d="M245.8 715.1L261.7 705.9" stroke-width="0.6" stroke="#888"/>
<path d="M248.8 708.9L264.7 699.7" stroke-width="0.7" stroke="#555"/>
<path d="M250.6 708.3L266.6 699.1" stroke-width="0.7" stroke="#555"/>
<path d="M250.3 714.6L266.2 705.4" stroke-width="0.6" stroke="#888"/>
<path d="M270.3 704L268.4 698.3L269.9 697.4L274 701.9L274 701.9L271.7 696.1L273 695L277.2 699L277.2 699L274.5 693.3L275.5 691.9L279.9 695.4L279.9 695.4L276.8 689.9L277.6 688.2L282.1 691.1L282.1 691.1L278.6 685.9L279.2 683.9L283.7 686.2L283.7 686.2L279.8 681.3L280.2 679.2L284.6 680.8L284.6 680.8L280.5 676.3L280.7 674L284.9 674.9L284.9 674.9L280.7 670.9L280.5 668.4L284.6 668.7L284.6 668.7L280.2 665.2L279.8 662.6L283.7 662.2L283.7 662.2L279.2 659.3L278.6 656.6L282.1 655.5L282.1 655.5L277.6 653.2L276.8 650.5L279.9 648.7L279.9 648.7L275.5 647.1L274.5 644.4L277.2 641.9L277.2 641.9L273 641L271.7 638.4L274 635.3L274 635.3L269.9 635.1L268.4 632.5L270.3 628.9L270.3 628.9L266.5 629.3L264.8 626.9L266.1 622.7L266.1 622.7L262.6 623.9L260.8 621.6L261.6 617L261.6 617L258.5 618.8L256.6 616.7L256.9 611.8L256.9 611.8L254.1 614.2L252.1 612.4L251.8 607.1L251.8 607.1L249.5 610.1L247.5 608.5L246.7 603L246.7 603L244.8 606.6L242.8 605.3L241.4 599.6L241.4 599.6L240.1 603.7L238 602.7L236.2 596.9L236.2 596.9L235.4 601.5L233.3 600.8L231 595L231 595L230.8 600L228.8 599.6L226 593.9L226 593.9L226.3 599.3L224.4 599.1L221.2 593.7L221.2 593.7L222 599.2L220.2 599.4L216.7 594.2L216.7 594.2L218.1 599.9L216.4 600.4L212.6 595.6L212.6 595.6L214.4 601.3L213 602.2L208.9 597.7L208.9 597.7L211.2 603.5L209.9 604.6L205.6 600.6L205.6 600.6L208.4 606.3L207.3 607.7L202.9 604.2L202.9 604.2L206.1 609.7L205.2 611.4L200.8 608.5L200.8 608.5L204.3 613.7L203.7 615.7L199.2 613.4L199.2 613.4L203 618.3L202.7 620.4L198.3 618.8L198.3 618.8L202.3 623.3L202.2 625.6L197.9 624.7L197.9 624.7L202.2 628.7L202.3 631.2L198.3 630.9L198.3 630.9L202.7 634.4L203 637L199.2 637.4L199.2 637.4L203.7 640.3L204.3 643L200.8 644.1L200.8 644.1L205.2 646.4L206.1 649.1L202.9 650.9L202.9 650.9L207.3 652.5L208.4 655.2L205.6 657.7L205.6 657.7L209.9 658.6L211.2 661.2L208.9 664.3L208.9 664.3L213 664.5L214.4 667.1L212.6 670.7L212.6 670.7L216.4 670.3L218.1 672.7L216.7 676.9L216.7 676.9L220.2 675.7L222 678L221.2 682.6L221.2 682.6L224.4 680.8L226.3 682.9L226 687.8L226 687.8L228.8 685.4L230.8 687.2L231 692.5L231 692.5L233.3 689.5L235.4 691.1L236.2 696.6L236.2 696.6L238 693L240.1 694.3L241.4 700L241.4 700L242.8 695.9L244.8 696.9L246.7 702.7L246.7 702.7L247.5 698.1L249.5 698.8L251.8 704.6L251.8 704.6L252.1 699.6L254.1 700L256.9 705.7L256.9 705.7L256.6 700.3L258.5 700.5L261.6 705.9L261.6 705.9L260.8 700.4L262.6 700.2L266.1 705.4L266.1 705.4L264.8 699.7L266.4 699.2L270.3 704Z" stroke-width="0.8" stroke="#444" fill="#fff"/>
</g>
<path d="M254.3 713.2L252.5 707.5L254 706.6L258.1 711.1L258.1 711.1L255.7 705.3L257 704.2L261.3 708.2L261.3 708.2L258.5 702.5L259.6 701.1L264 704.6L264 704.6L260.8 699.1L261.7 697.4L266.2 700.3L266.2 700.3L262.6 695.1L263.3 693.1L267.7 695.4L267.7 695.4L263.9 690.5L264.3 688.4L268.7 690L268.7 690L264.6 685.5L264.7 683.2L269 684.1L269 684.1L264.7 680.1L264.6 677.6L268.7 677.9L268.7 677.9L264.3 674.4L263.9 671.8L267.7 671.4L267.7 671.4L263.3 668.5L262.6 665.8L266.2 664.7L266.2 664.7L261.7 662.4L260.8 659.7L264 657.9L264 657.9L259.6 656.3L258.5 653.6L261.3 651.1L261.3 651.1L257 650.2L255.7 647.6L258.1 644.5L258.1 644.5L254 644.3L252.5 641.7L254.3 638.1L254.3 638.1L250.5 638.5L248.9 636.1L250.2 631.9L250.2 631.9L246.7 633.1L244.9 630.8L245.7 626.2L245.7 626.2L242.6 628L240.7 625.9L240.9 621L240.9 621L238.2 623.4L236.2 621.6L235.9 616.3L235.9 616.3L233.6 619.3L231.5 617.7L230.7 612.2L230.7 612.2L228.9 615.8L226.8 614.5L225.5 608.8L225.5 608.8L224.2 612.9L222.1 611.9L220.3 606.1L220.3 606.1L219.5 610.7L217.4 610L215.1 604.2L215.1 604.2L214.8 609.2L212.8 608.8L210.1 603.1L210.1 603.1L210.4 608.5L208.4 608.3L205.3 602.9L205.3 602.9L206.1 608.4L204.3 608.6L200.8 603.4L200.8 603.4L202.1 609.1L200.5 609.6L196.7 604.8L196.7 604.8L198.5 610.5L197 611.4L192.9 606.9L192.9 606.9L195.3 612.7L194 613.8L189.7 609.8L189.7 609.8L192.5 615.5L191.4 616.9L187 613.4L187 613.4L190.2 618.9L189.3 620.6L184.8 617.7L184.8 617.7L188.4 622.9L187.7 624.9L183.3 622.6L183.3 622.6L187.1 627.5L186.7 629.6L182.3 628L182.3 628L186.4 632.5L186.3 634.8L182 633.9L182 633.9L186.3 637.9L186.4 640.4L182.3 640.1L182.3 640.1L186.7 643.6L187.1 646.2L183.3 646.6L183.3 646.6L187.7 649.5L188.4 652.2L184.8 653.3L184.8 653.3L189.3 655.6L190.2 658.3L187 660.1L187 660.1L191.4 661.7L192.5 664.4L189.7 666.9L189.7 666.9L194 667.8L195.3 670.4L192.9 673.5L192.9 673.5L197 673.7L198.5 676.3L196.7 679.9L196.7 679.9L200.5 679.5L202.1 681.9L200.8 686.1L200.8 686.1L204.3 684.9L206.1 687.2L205.3 691.8L205.3 691.8L208.4 690L210.3 692.1L210.1 697L210.1 697L212.8 694.6L214.8 696.4L215.1 701.7L215.1 701.7L217.4 698.7L219.5 700.3L220.3 705.8L220.3 705.8L222.1 702.2L224.2 703.5L225.5 709.2L225.5 709.2L226.8 705.1L228.9 706.1L230.7 711.9L230.7 711.9L231.5 707.3L233.6 708L235.9 713.8L235.9 713.8L236.2 708.8L238.2 709.2L240.9 714.9L240.9 714.9L240.6 709.5L242.6 709.7L245.7 715.1L245.7 715.1L244.9 709.6L246.7 709.4L250.2 714.6L250.2 714.6L248.9 708.9L250.5 708.4L254.3 713.2Z" stroke-width="0.8" stroke="#444"/>
<ellipse cx="260.8" cy="714.9" rx="1.7" ry="1" transform="rotate(60 260.8 714.9)" stroke-width="0.8" fill="#fff"/>
<ellipse cx="266.4" cy="708.8" rx="1.7" ry="1" transform="rotate(60 266.4 708.8)" stroke-width="0.8" fill="#fff"/>
<ellipse cx="270.3" cy="700.6" rx="1.7" ry="1" transform="rotate(60 270.3 700.6)" stroke-width="0.8" fill="#fff"/>
<ellipse cx="272.1" cy="690.6" rx="1.7" ry="1" transform="rotate(60 272.1 690.6)" stroke-width="0.8" fill="#fff"/>
<ellipse cx="272" cy="679.2" rx="1.7" ry="1" transform="rotate(60 272 679.2)" stroke-width="0.8" fill="#fff"/>
<ellipse cx="269.8" cy="667" rx="1.7" ry="1" transform="rotate(60 269.8 667)" stroke-width="0.8" fill="#fff"/>
<ellipse cx="265.6" cy="654.3" rx="1.7" ry="1" transform="rotate(60 265.6 654.3)" stroke-width="0.8" fill="#fff"/>
<ellipse cx="259.7" cy="641.9" rx="1.7" ry="1" transform="rotate(60 259.7 641.9)" stroke-width="0.8" fill="#fff"/>
<ellipse cx="252.4" cy="630.2" rx="1.7" ry="1" transform="rotate(60 252.4 630.2)" stroke-width="0.8" fill="#fff"/>
<ellipse cx="243.8" cy="619.8" rx="1.7" ry="1" transform="rotate(60 243.8 619.8)" stroke-width="0.8" fill="#fff"/>
<ellipse cx="234.4" cy="611.1" rx="1.7" ry="1" transform="rotate(60 234.4 611.1)" stroke-width="0.8" fill="#fff"/>
<ellipse cx="224.7" cy="604.5" rx="1.7" ry="1" transform="rotate(60 224.7 604.5)" stroke-width="0.8" fill="#fff"/>
<ellipse cx="215" cy="600.3" rx="1.7" ry="1" transform="rotate(60 215 600.3)" stroke-width="0.8" fill="#fff"/>
<ellipse cx="205.7" cy="598.6" rx="1.7" ry="1" transform="rotate(60 205.7 598.6)" stroke-width="0.8" fill="#fff"/>
<ellipse cx="197.3" cy="599.6" rx="1.7" ry="1" transform="rotate(60 197.3 599.6)" stroke-width="0.8" fill="#fff"/>
<ellipse cx="190.2" cy="603.1" rx="1.7" ry="1" transform="rotate(60 190.2 603.1)" stroke-width="0.8" fill="#fff"/>
<ellipse cx="184.6" cy="609.2" rx="1.7" ry="1" transform="rotate(60 184.6 609.2)" stroke-width="0.8" fill="#fff"/>
<ellipse cx="180.7" cy="617.4" rx="1.7" ry="1" transform="rotate(60 180.7 617.4)" stroke-width="0.8" fill="#fff"/>
<ellipse cx="178.9" cy="627.4" rx="1.7" ry="1" transform="rotate(60 178.9 627.4)" stroke-width="0.8" fill="#fff"/>
<ellipse cx="179" cy="638.8" rx="1.7" ry="1" transform="rotate(60 179 638.8)" stroke-width="0.8" fill="#fff"/>
<ellipse cx="181.2" cy="651" rx="1.7" ry="1" transform="rotate(60 181.2 651)" stroke-width="0.8" fill="#fff"/>
<ellipse cx="185.4" cy="663.7" rx="1.7" ry="1" transform="rotate(60 185.4 663.7)" stroke-width="0.8" fill="#fff"/>
<ellipse cx="191.3" cy="676.1" rx="1.7" ry="1" transform="rotate(60 191.3 676.1)" stroke-width="0.8" fill="#fff"/>
<ellipse cx="198.6" cy="687.8" rx="1.7" ry="1" transform="rotate(60 198.6 687.8)" stroke-width="0.8" fill="#fff"/>
<ellipse cx="207.2" cy="698.2" rx="1.7" ry="1" transform="rotate(60 207.2 698.2)" stroke-width="0.8" fill="#fff"/>
<ellipse cx="216.6" cy="706.9" rx="1.7" ry="1" transform="rotate(60 216.6 706.9)" stroke-width="0.8" fill="#fff"/>
<ellipse cx="226.3" cy="713.5" rx="1.7" ry="1" transform="rotate(60 226.3 713.5)" stroke-width="0.8" fill="#fff"/>
<ellipse cx="236" cy="717.7" rx="1.7" ry="1" transform="rotate(60 236 717.7)" stroke-width="0.8" fill="#fff"/>
<ellipse cx="245.3" cy="719.4" rx="1.7" ry="1" transform="rotate(60 245.3 719.4)" stroke-width="0.8" fill="#fff"/>
<ellipse cx="253.7" cy="718.4" rx="1.7" ry="1" transform="rotate(60 253.7 718.4)" stroke-width="0.8" fill="#fff"/>
<path d="M92 423L118 407.5"/>
<path d="M139.3 167.3A74.3 42.9 60 1 0 117.5 53.9"/>
<path d="M141.4 167.8A72.6 41.9 60 1 0 121 54" stroke-width="0.8"/>
<path d="M117.5 53.9L112.5 60.2" stroke-width="0.9"/>
<path d="M195.7 173.8L192.2 169L191.2 167.8L190.1 166.9L188.9 166.3L187.8 166.1L186.9 166.2L186.1 166.8L185.6 167.7L185.4 168.8L185.4 170.2L185.8 171.6L186.4 173.1L187.3 174.5L190.8 179.3L190.8 179.3L192.1 178.1L193.4 176.8L194.6 175.3L195.7 173.8Z" stroke-width="0.9" fill="#fff"/>
<ellipse cx="190" cy="172.1" rx="2.9" ry="1.7" transform="rotate(60 190 172.1)" stroke-width="0.8"/>
<ellipse cx="190" cy="172.1" rx="1.4" ry="0.8" transform="rotate(60 190 172.1)" stroke-width="0.7"/>
<path d="M201.2 159.9L197.1 156.1L196 155.3L194.8 154.7L193.8 154.6L192.8 154.9L192.1 155.5L191.7 156.4L191.5 157.6L191.6 159L192 160.5L192.7 161.9L193.6 163.3L194.6 164.4L198.7 168.2L198.7 168.2L199.5 166.2L200.1 164.2L200.7 162.1L201.2 159.9Z" stroke-width="0.9" fill="#fff"/>
<ellipse cx="196.2" cy="160.6" rx="2.9" ry="1.7" transform="rotate(60 196.2 160.6)" stroke-width="0.8"/>
<ellipse cx="196.2" cy="160.6" rx="1.4" ry="0.8" transform="rotate(60 196.2 160.6)" stroke-width="0.7"/>
<path d="M201.8 142L197.6 139.7L196.4 139.3L195.4 139.2L194.5 139.5L193.8 140.2L193.4 141.2L193.3 142.5L193.5 143.9L194 145.4L194.7 146.8L195.6 148.1L196.7 149.2L197.8 150L202.1 152.3L202.1 152.3L202.2 149.8L202.2 147.3L202 144.7L201.8 142Z" stroke-width="0.9" fill="#fff"/>
<ellipse cx="198.1" cy="145" rx="2.9" ry="1.7" transform="rotate(60 198.1 145)" stroke-width="0.8"/>
<ellipse cx="198.1" cy="145" rx="1.4" ry="0.8" transform="rotate(60 198.1 145)" stroke-width="0.7"/>
<path d="M197.6 122L193.6 121.4L192.5 121.4L191.7 121.8L191.1 122.5L190.7 123.6L190.7 124.9L190.9 126.3L191.4 127.8L192.2 129.2L193.2 130.5L194.2 131.5L195.4 132.2L196.5 132.6L200.5 133.3L200.5 133.3L199.9 130.5L199.2 127.7L198.4 124.9L197.6 122Z" stroke-width="0.9" fill="#fff"/>
<ellipse cx="195.4" cy="127" rx="2.9" ry="1.7" transform="rotate(60 195.4 127)" stroke-width="0.8"/>
<ellipse cx="195.4" cy="127" rx="1.4" ry="0.8" transform="rotate(60 195.4 127)" stroke-width="0.7"/>
<path d="M188.8 101.8L185.4 102.9L184.6 103.4L184.1 104.2L183.8 105.3L183.8 106.6L184.1 108.1L184.7 109.5L185.5 110.9L186.5 112.2L187.6 113.1L188.7 113.8L189.8 114.1L190.8 114L194.2 112.9L194.2 112.9L193 110.1L191.6 107.3L190.3 104.6L188.8 101.8Z" stroke-width="0.9" fill="#fff"/>
<ellipse cx="188.4" cy="108.4" rx="2.9" ry="1.7" transform="rotate(60 188.4 108.4)" stroke-width="0.8"/>
<ellipse cx="188.4" cy="108.4" rx="1.4" ry="0.8" transform="rotate(60 188.4 108.4)" stroke-width="0.7"/>
<path d="M176.4 83.4L174 86.1L173.5 86.9L173.3 88.1L173.4 89.5L173.7 90.9L174.3 92.4L175.2 93.8L176.2 95L177.3 95.9L178.5 96.5L179.6 96.7L180.5 96.5L181.3 96L183.7 93.3L183.7 93.3L182 90.7L180.2 88.2L178.3 85.8L176.4 83.4Z" stroke-width="0.9" fill="#fff"/>
<ellipse cx="177.9" cy="90.8" rx="2.9" ry="1.7" transform="rotate(60 177.9 90.8)" stroke-width="0.8"/>
<ellipse cx="177.9" cy="90.8" rx="1.4" ry="0.8" transform="rotate(60 177.9 90.8)" stroke-width="0.7"/>
<path d="M161.6 68.5L160.4 72.6L160.3 73.8L160.4 75.1L160.8 76.6L161.5 78.1L162.4 79.4L163.4 80.6L164.6 81.4L165.7 81.9L166.8 82.1L167.7 81.8L168.4 81.2L168.9 80.3L170.1 76.2L170.1 76.2L168 74.2L165.9 72.2L163.8 70.3L161.6 68.5Z" stroke-width="0.9" fill="#fff"/>
<ellipse cx="164.8" cy="76.1" rx="2.9" ry="1.7" transform="rotate(60 164.8 76.1)" stroke-width="0.8"/>
<ellipse cx="164.8" cy="76.1" rx="1.4" ry="0.8" transform="rotate(60 164.8 76.1)" stroke-width="0.7"/>
<path d="M145.9 58.7L146 63.7L146.2 65.1L146.7 66.6L147.4 68L148.3 69.3L149.4 70.4L150.5 71.2L151.7 71.6L152.7 71.7L153.6 71.4L154.3 70.7L154.7 69.7L154.8 68.4L154.6 63.4L154.6 63.4L152.5 62.1L150.3 60.8L148.1 59.7L145.9 58.7Z" stroke-width="0.9" fill="#fff"/>
<ellipse cx="150.4" cy="65.6" rx="2.9" ry="1.7" transform="rotate(60 150.4 65.6)" stroke-width="0.8"/>
<ellipse cx="150.4" cy="65.6" rx="1.4" ry="0.8" transform="rotate(60 150.4 65.6)" stroke-width="0.7"/>
<path d="M130.7 54.8L132.1 60.3L132.7 61.8L133.4 63.2L134.4 64.5L135.5 65.5L136.6 66.2L137.7 66.6L138.8 66.6L139.6 66.2L140.2 65.4L140.6 64.4L140.6 63.1L140.4 61.7L139 56.2L139 56.2L136.8 55.7L134.8 55.3L132.7 55L130.7 54.8Z" stroke-width="0.9" fill="#fff"/>
<ellipse cx="136.1" cy="60.5" rx="2.9" ry="1.7" transform="rotate(60 136.1 60.5)" stroke-width="0.8"/>
<ellipse cx="136.1" cy="60.5" rx="1.4" ry="0.8" transform="rotate(60 136.1 60.5)" stroke-width="0.7"/>
<path d="M117.6 57.4L120.2 62.8L121 64.2L122 65.4L123.1 66.4L124.2 67L125.3 67.3L126.3 67.2L127.1 66.8L127.7 65.9L128 64.8L128 63.5L127.7 62.1L127.1 60.6L124.5 55.2L124.5 55.2L122.7 55.6L120.9 56L119.2 56.6L117.6 57.4Z" stroke-width="0.9" fill="#fff"/>
<ellipse cx="123.4" cy="61.2" rx="2.9" ry="1.7" transform="rotate(60 123.4 61.2)" stroke-width="0.8"/>
<ellipse cx="123.4" cy="61.2" rx="1.4" ry="0.8" transform="rotate(60 123.4 61.2)" stroke-width="0.7"/>
<path d="M107.8 66L111.3 70.8L112.3 72L113.5 72.9L114.6 73.5L115.7 73.7L116.6 73.6L117.4 73L117.9 72.1L118.2 71L118.1 69.6L117.7 68.2L117.1 66.7L116.3 65.3L112.7 60.5L112.7 60.5L111.4 61.7L110.1 63L108.9 64.5L107.8 66Z" stroke-width="0.9" fill="#fff"/>
<ellipse cx="113.5" cy="67.7" rx="2.9" ry="1.7" transform="rotate(60 113.5 67.7)" stroke-width="0.8"/>
<ellipse cx="113.5" cy="67.7" rx="1.4" ry="0.8" transform="rotate(60 113.5 67.7)" stroke-width="0.7"/>
<path d="M102.3 79.9L106.4 83.7L107.5 84.5L108.7 85.1L109.7 85.2L110.7 84.9L111.4 84.3L111.8 83.4L112 82.2L111.9 80.8L111.5 79.3L110.8 77.9L109.9 76.5L108.9 75.4L104.8 71.6L104.8 71.6L104 73.6L103.4 75.6L102.8 77.7L102.3 79.9Z" stroke-width="0.9" fill="#fff"/>
<ellipse cx="107.3" cy="79.2" rx="2.9" ry="1.7" transform="rotate(60 107.3 79.2)" stroke-width="0.8"/>
<ellipse cx="107.3" cy="79.2" rx="1.4" ry="0.8" transform="rotate(60 107.3 79.2)" stroke-width="0.7"/>
<path d="M141.9 171.3L143.1 167.2L143.2 166L143.1 164.7L142.7 163.2L142 161.7L141.1 160.4L140.1 159.2L139 158.4L137.8 157.9L136.7 157.7L135.8 158L135.1 158.6L134.6 159.5L133.4 163.6L133.4 163.6L135.5 165.6L137.6 167.6L139.7 169.5L141.9 171.3Z" stroke-width="0.9" fill="#fff"/>
<ellipse cx="138.8" cy="163.7" rx="2.9" ry="1.7" transform="rotate(60 138.8 163.7)" stroke-width="0.8"/>
<ellipse cx="138.8" cy="163.7" rx="1.4" ry="0.8" transform="rotate(60 138.8 163.7)" stroke-width="0.7"/>
<path d="M157.6 181.1L157.5 176.1L157.3 174.7L156.8 173.2L156.1 171.8L155.2 170.5L154.1 169.4L153 168.6L151.9 168.2L150.8 168.1L149.9 168.4L149.3 169.1L148.9 170.1L148.7 171.4L148.9 176.4L148.9 176.4L151.1 177.7L153.2 179L155.4 180.1L157.6 181.1Z" stroke-width="0.9" fill="#fff"/>
<ellipse cx="153.1" cy="174.2" rx="2.9" ry="1.7" transform="rotate(60 153.1 174.2)" stroke-width="0.8"/>
<ellipse cx="153.1" cy="174.2" rx="1.4" ry="0.8" transform="rotate(60 153.1 174.2)" stroke-width="0.7"/>
<path d="M172.8 185L171.4 179.5L170.9 178L170.1 176.6L169.1 175.3L168 174.3L166.9 173.6L165.8 173.2L164.8 173.2L163.9 173.6L163.3 174.4L162.9 175.4L162.9 176.7L163.1 178.1L164.6 183.6L164.6 183.6L166.7 184.1L168.7 184.5L170.8 184.8L172.8 185Z" stroke-width="0.9" fill="#fff"/>
<ellipse cx="167.4" cy="179.3" rx="2.9" ry="1.7" transform="rotate(60 167.4 179.3)" stroke-width="0.8"/>
<ellipse cx="167.4" cy="179.3" rx="1.4" ry="0.8" transform="rotate(60 167.4 179.3)" stroke-width="0.7"/>
<path d="M185.9 182.4L183.3 177L182.5 175.6L181.5 174.4L180.4 173.4L179.3 172.8L178.2 172.5L177.2 172.6L176.4 173L175.8 173.9L175.5 175L175.5 176.3L175.8 177.7L176.4 179.2L179 184.6L179 184.6L180.8 184.2L182.6 183.8L184.3 183.2L185.9 182.4Z" stroke-width="0.9" fill="#fff"/>
<ellipse cx="180.1" cy="178.6" rx="2.9" ry="1.7" transform="rotate(60 180.1 178.6)" stroke-width="0.8"/>
<ellipse cx="180.1" cy="178.6" rx="1.4" ry="0.8" transform="rotate(60 180.1 178.6)" stroke-width="0.7"/>
<path d="M187.8 181L184.3 176.2L183.5 174.8L182.8 173.3L182.5 171.9L182.4 170.5L182.6 169.4L183.2 168.5L183.9 167.9L184.9 167.8L186 168L187.1 168.6L188.2 169.5L189.3 170.7L192.8 175.5L193.3 174.6L193.9 173.7L194.4 172.8L194.9 171.8L195.3 170.9L195.8 169.9L191.7 166.1L190.6 165L189.8 163.6L189.1 162.2L188.7 160.7L188.5 159.3L188.7 158.1L189.2 157.2L189.9 156.6L190.8 156.3L191.9 156.4L193 157L194.2 157.8L198.2 161.6L198.5 160.3L198.7 159.1L198.8 157.9L199 156.6L199.1 155.3L199.1 154L194.9 151.7L193.7 150.9L192.7 149.8L191.7 148.5L191 147.1L190.6 145.6L190.4 144.2L190.5 142.9L190.9 141.9L191.6 141.2L192.5 140.9L193.5 141L194.6 141.4L198.9 143.7L198.7 142.3L198.6 140.8L198.4 139.4L198.1 137.9L197.9 136.5L197.6 135L193.6 134.3L192.4 133.9L191.3 133.2L190.2 132.2L189.2 130.9L188.5 129.5L188 128L187.7 126.6L187.8 125.3L188.1 124.2L188.7 123.5L189.6 123.1L190.6 123.1L194.6 123.7L194.1 122.2L193.6 120.7L193 119.2L192.5 117.7L191.9 116.1L191.2 114.6L187.9 115.7L186.9 115.8L185.8 115.5L184.6 114.8L183.5 113.9L182.5 112.6L181.7 111.2L181.1 109.8L180.8 108.3L180.8 107L181.1 105.9L181.7 105.1L182.5 104.6L185.9 103.5L185.1 102.1L184.2 100.6L183.4 99.2L182.5 97.8L181.6 96.4L180.7 95L178.3 97.7L177.6 98.2L176.6 98.4L175.5 98.2L174.4 97.6L173.3 96.7L172.2 95.5L171.4 94.1L170.8 92.6L170.4 91.2L170.3 89.8L170.6 88.6L171.1 87.8L173.5 85.1L172.5 83.8L171.4 82.6L170.4 81.4L169.3 80.2L168.2 79.1L167.1 77.9L165.9 82L165.5 82.9L164.7 83.5L163.8 83.8L162.8 83.6L161.6 83.1L160.5 82.3L159.4 81.1L158.5 79.8L157.9 78.3L157.5 76.8L157.3 75.5L157.5 74.3L158.7 70.2L157.5 69.3L156.4 68.4L155.2 67.6L154.1 66.7L152.9 65.9L151.7 65.1L151.8 70.1L151.7 71.4L151.3 72.4L150.6 73.1L149.8 73.4L148.7 73.3L147.6 72.9L146.4 72.1L145.4 71L144.4 69.7L143.7 68.3L143.2 66.8L143.1 65.4L142.9 60.4L141.8 59.9L140.6 59.4L139.5 59L138.3 58.6L137.2 58.2L136 57.9L137.4 63.4L137.7 64.8L137.6 66.1L137.3 67.1L136.7 67.9L135.8 68.3L134.8 68.3L133.7 67.9L132.5 67.2L131.4 66.2L130.5 64.9L129.7 63.5L129.2 62L127.8 56.5L126.7 56.5L125.6 56.5L124.6 56.6L123.6 56.6L122.6 56.7L121.6 56.9L124.2 62.3L124.7 63.8L125 65.2L125.1 66.5L124.8 67.6L124.2 68.5L123.4 68.9L122.4 69L121.3 68.7L120.1 68.1L119 67.1L118 65.9L117.2 64.5L114.6 59.1L113.8 59.5L112.9 60L112.1 60.5L111.3 61L110.5 61.6L109.8 62.2L113.3 67L114.2 68.4L114.8 69.9L115.1 71.3L115.2 72.7L115 73.8L114.5 74.7L113.7 75.3L112.7 75.4L111.7 75.2L110.5 74.6L109.4 73.7L108.4 72.5L104.8 67.7L104.3 68.6L103.7 69.5L103.2 70.4L102.7 71.4L102.3 72.3L101.8 73.3L105.9 77.1L107 78.2L107.9 79.6L108.5 81L109 82.5L109.1 83.9L108.9 85.1L108.4 86L107.7 86.6L106.8 86.9L105.7 86.8L104.6 86.2L103.5 85.4L99.4 81.6L99.2 82.9L99 84.1L98.8 85.3L98.7 86.6L98.6 87.9L98.5 89.2L102.7 91.5L103.9 92.3L104.9 93.4L105.9 94.7L106.6 96.1L107.1 97.6L107.3 99L107.1 100.3L106.7 101.3L106.1 102L105.2 102.3L104.1 102.2L103 101.8L98.7 99.5L98.9 100.9L99.1 102.4L99.3 103.8L99.5 105.3L99.8 106.7L100 108.2L104.1 108.9L105.2 109.3L106.3 110L107.4 111L108.4 112.3L109.1 113.7L109.7 115.2L109.9 116.6L109.9 117.9L109.5 119L108.9 119.7L108 120.1L107 120.1L103 119.5L103.5 121L104 122.5L104.6 124L105.2 125.5L105.8 127.1L106.4 128.6L109.8 127.5L110.8 127.4L111.9 127.7L113 128.4L114.1 129.3L115.1 130.6L115.9 132L116.5 133.4L116.8 134.9L116.8 136.2L116.5 137.3L115.9 138.1L115.1 138.6L111.8 139.7L112.6 141.1L113.4 142.6L114.2 144L115.1 145.4L116 146.8L116.9 148.2L119.3 145.5L120 145L121 144.8L122.1 145L123.2 145.6L124.4 146.5L125.4 147.7L126.2 149.1L126.9 150.6L127.2 152L127.3 153.4L127 154.6L126.5 155.4L124.1 158.1L125.2 159.4L126.2 160.6L127.3 161.8L128.3 163L129.4 164.1L130.5 165.3L131.7 161.2L132.2 160.3L132.9 159.7L133.8 159.4L134.9 159.6L136 160.1L137.1 160.9L138.2 162.1L139.1 163.4L139.8 164.9L140.2 166.4L140.3 167.7L140.1 168.9L138.9 173L140.1 173.9L141.2 174.8L142.4 175.6L143.6 176.5L144.7 177.3L145.9 178.1L145.8 173.1L145.9 171.8L146.3 170.8L147 170.1L147.9 169.8L148.9 169.9L150 170.3L151.2 171.1L152.3 172.2L153.2 173.5L153.9 174.9L154.4 176.4L154.6 177.8L154.7 182.8L155.8 183.3L157 183.8L158.2 184.2L159.3 184.6L160.5 185L161.6 185.3L160.2 179.8L159.9 178.4L160 177.1L160.3 176.1L161 175.3L161.8 174.9L162.8 174.9L163.9 175.3L165.1 176L166.2 177L167.1 178.3L167.9 179.7L168.4 181.2L169.9 186.7L170.9 186.7L172 186.7L173 186.6L174 186.6L175.1 186.5L176.1 186.3L173.4 180.9L172.9 179.4L172.6 178L172.6 176.7L172.9 175.6L173.4 174.7L174.2 174.3L175.2 174.2L176.3 174.5L177.5 175.1L178.6 176.1L179.6 177.3L180.4 178.7L183 184.1L183.8 183.7L184.7 183.2L185.5 182.7L186.3 182.2L187.1 181.6Z" stroke-width="0.9" fill="#fff"/>
<ellipse cx="149.9" cy="121" rx="56" ry="32.3" transform="rotate(60 149.9 121)"/>
<ellipse cx="145.2" cy="122" rx="50.5" ry="29.2" transform="rotate(60 145.2 122)"/>
<ellipse cx="123.8" cy="84.4" rx="4.6" ry="2.7" transform="rotate(60 123.8 84.4)" stroke-width="0.9"/>
<ellipse cx="124.2" cy="84.4" rx="2.6" ry="1.5" transform="rotate(60 124.2 84.4)" stroke-width="0.8"/>
<ellipse cx="144.4" cy="133.2" rx="4.6" ry="2.7" transform="rotate(60 144.4 133.2)" stroke-width="0.9"/>
<ellipse cx="144.8" cy="133.2" rx="2.6" ry="1.5" transform="rotate(60 144.8 133.2)" stroke-width="0.8"/>
<ellipse cx="144.4" cy="158.5" rx="4.6" ry="2.7" transform="rotate(60 144.4 158.5)" stroke-width="0.9"/>
<ellipse cx="144.8" cy="158.5" rx="2.6" ry="1.5" transform="rotate(60 144.8 158.5)" stroke-width="0.8"/>
<path d="M129.2 755.1A74.3 42.9 60 1 0 107.4 641.7"/>
<path d="M131.3 755.6A72.6 41.9 60 1 0 110.9 641.8" stroke-width="0.8"/>
<path d="M107.4 641.7L102.4 648" stroke-width="0.9"/>
<path d="M185.6 761.6L182.1 756.8L181.1 755.6L180 754.7L178.8 754.1L177.7 753.9L176.8 754L176 754.6L175.5 755.5L175.3 756.6L175.3 758L175.7 759.4L176.3 760.9L177.2 762.3L180.7 767.1L180.7 767.1L182 765.9L183.3 764.6L184.5 763.1L185.6 761.6Z" stroke-width="0.9" fill="#fff"/>
<ellipse cx="179.9" cy="759.9" rx="2.9" ry="1.7" transform="rotate(60 179.9 759.9)" stroke-width="0.8"/>
<ellipse cx="179.9" cy="759.9" rx="1.4" ry="0.8" transform="rotate(60 179.9 759.9)" stroke-width="0.7"/>
<path d="M191.1 747.7L187 743.9L185.9 743.1L184.7 742.5L183.7 742.4L182.7 742.7L182 743.3L181.6 744.2L181.4 745.4L181.5 746.8L181.9 748.3L182.6 749.7L183.5 751.1L184.5 752.2L188.6 756L188.6 756L189.4 754L190 752L190.6 749.9L191.1 747.7Z" stroke-width="0.9" fill="#fff"/>
<ellipse cx="186.1" cy="748.4" rx="2.9" ry="1.7" transform="rotate(60 186.1 748.4)" stroke-width="0.8"/>
<ellipse cx="186.1" cy="748.4" rx="1.4" ry="0.8" transform="rotate(60 186.1 748.4)" stroke-width="0.7"/>
<path d="M191.7 729.8L187.5 727.5L186.3 727.1L185.3 727L184.4 727.3L183.7 728L183.3 729L183.2 730.3L183.4 731.7L183.9 733.2L184.6 734.6L185.5 735.9L186.6 737L187.7 737.8L192 740.1L192 740.1L192.1 737.6L192.1 735.1L191.9 732.5L191.7 729.8Z" stroke-width="0.9" fill="#fff"/>
<ellipse cx="188" cy="732.8" rx="2.9" ry="1.7" transform="rotate(60 188 732.8)" stroke-width="0.8"/>
<ellipse cx="188" cy="732.8" rx="1.4" ry="0.8" transform="rotate(60 188 732.8)" stroke-width="0.7"/>
<path d="M187.5 709.8L183.5 709.2L182.4 709.2L181.6 709.6L181 710.3L180.6 711.4L180.6 712.7L180.8 714.1L181.3 715.6L182.1 717L183.1 718.3L184.1 719.3L185.3 720L186.4 720.4L190.4 721.1L190.4 721.1L189.8 718.3L189.1 715.5L188.3 712.7L187.5 709.8Z" stroke-width="0.9" fill="#fff"/>
<ellipse cx="185.3" cy="714.8" rx="2.9" ry="1.7" transform="rotate(60 185.3 714.8)" stroke-width="0.8"/>
<ellipse cx="185.3" cy="714.8" rx="1.4" ry="0.8" transform="rotate(60 185.3 714.8)" stroke-width="0.7"/>
<path d="M178.7 689.6L175.3 690.7L174.5 691.2L174 692L173.7 693.1L173.7 694.4L174 695.9L174.6 697.3L175.4 698.7L176.4 700L177.5 700.9L178.6 701.6L179.7 701.9L180.7 701.8L184.1 700.7L184.1 700.7L182.9 697.9L181.5 695.1L180.2 692.4L178.7 689.6Z" stroke-width="0.9" fill="#fff"/>
<ellipse cx="178.3" cy="696.2" rx="2.9" ry="1.7" transform="rotate(60 178.3 696.2)" stroke-width="0.8"/>
<ellipse cx="178.3" cy="696.2" rx="1.4" ry="0.8" transform="rotate(60 178.3 696.2)" stroke-width="0.7"/>
<path d="M166.3 671.2L163.9 673.9L163.4 674.7L163.2 675.9L163.3 677.3L163.6 678.7L164.2 680.2L165.1 681.6L166.1 682.8L167.2 683.7L168.4 684.3L169.5 684.5L170.4 684.3L171.2 683.8L173.6 681.1L173.6 681.1L171.9 678.5L170.1 676L168.2 673.6L166.3 671.2Z" stroke-width="0.9" fill="#fff"/>
<ellipse cx="167.8" cy="678.6" rx="2.9" ry="1.7" transform="rotate(60 167.8 678.6)" stroke-width="0.8"/>
<ellipse cx="167.8" cy="678.6" rx="1.4" ry="0.8" transform="rotate(60 167.8 678.6)" stroke-width="0.7"/>
<path d="M151.5 656.3L150.3 660.4L150.2 661.6L150.3 662.9L150.7 664.4L151.4 665.9L152.3 667.2L153.3 668.4L154.5 669.2L155.6 669.7L156.7 669.9L157.6 669.6L158.3 669L158.8 668.1L160 664L160 664L157.9 662L155.8 660L153.7 658.1L151.5 656.3Z" stroke-width="0.9" fill="#fff"/>
<ellipse cx="154.7" cy="663.9" rx="2.9" ry="1.7" transform="rotate(60 154.7 663.9)" stroke-width="0.8"/>
<ellipse cx="154.7" cy="663.9" rx="1.4" ry="0.8" transform="rotate(60 154.7 663.9)" stroke-width="0.7"/>
<path d="M135.8 646.5L135.9 651.5L136.1 652.9L136.6 654.4L137.3 655.8L138.2 657.1L139.3 658.2L140.4 659L141.6 659.4L142.6 659.5L143.5 659.2L144.2 658.5L144.6 657.5L144.7 656.2L144.5 651.2L144.5 651.2L142.4 649.9L140.2 648.6L138 647.5L135.8 646.5Z" stroke-width="0.9" fill="#fff"/>
<ellipse cx="140.3" cy="653.4" rx="2.9" ry="1.7" transform="rotate(60 140.3 653.4)" stroke-width="0.8"/>
<ellipse cx="140.3" cy="653.4" rx="1.4" ry="0.8" transform="rotate(60 140.3 653.4)" stroke-width="0.7"/>
<path d="M120.6 642.6L122 648.1L122.6 649.6L123.3 651L124.3 652.3L125.4 653.3L126.5 654L127.6 654.4L128.7 654.4L129.5 654L130.1 653.2L130.5 652.2L130.5 650.9L130.3 649.5L128.9 644L128.9 644L126.7 643.5L124.7 643.1L122.6 642.8L120.6 642.6Z" stroke-width="0.9" fill="#fff"/>
<ellipse cx="126" cy="648.3" rx="2.9" ry="1.7" transform="rotate(60 126 648.3)" stroke-width="0.8"/>
<ellipse cx="126" cy="648.3" rx="1.4" ry="0.8" transform="rotate(60 126 648.3)" stroke-width="0.7"/>
<path d="M107.5 645.2L110.1 650.6L110.9 652L111.9 653.2L113 654.2L114.1 654.8L115.2 655.1L116.2 655L117 654.6L117.6 653.7L117.9 652.6L117.9 651.3L117.6 649.9L117 648.4L114.4 643L114.4 643L112.6 643.4L110.8 643.8L109.1 644.4L107.5 645.2Z" stroke-width="0.9" fill="#fff"/>
<ellipse cx="113.3" cy="649" rx="2.9" ry="1.7" transform="rotate(60 113.3 649)" stroke-width="0.8"/>
<ellipse cx="113.3" cy="649" rx="1.4" ry="0.8" transform="rotate(60 113.3 649)" stroke-width="0.7"/>
<path d="M97.7 653.8L101.2 658.6L102.2 659.8L103.4 660.7L104.5 661.3L105.6 661.5L106.5 661.4L107.3 660.8L107.8 659.9L108.1 658.8L108 657.4L107.6 656L107 654.5L106.2 653.1L102.6 648.3L102.6 648.3L101.3 649.5L100 650.8L98.8 652.3L97.7 653.8Z" stroke-width="0.9" fill="#fff"/>
<ellipse cx="103.4" cy="655.5" rx="2.9" ry="1.7" transform="rotate(60 103.4 655.5)" stroke-width="0.8"/>
<ellipse cx="103.4" cy="655.5" rx="1.4" ry="0.8" transform="rotate(60 103.4 655.5)" stroke-width="0.7"/>
<path d="M92.2 667.7L96.3 671.5L97.4 672.3L98.6 672.9L99.6 673L100.6 672.7L101.3 672.1L101.7 671.2L101.9 670L101.8 668.6L101.4 667.1L100.7 665.7L99.8 664.3L98.8 663.2L94.7 659.4L94.7 659.4L93.9 661.4L93.3 663.4L92.7 665.5L92.2 667.7Z" stroke-width="0.9" fill="#fff"/>
<ellipse cx="97.2" cy="667" rx="2.9" ry="1.7" transform="rotate(60 97.2 667)" stroke-width="0.8"/>
<ellipse cx="97.2" cy="667" rx="1.4" ry="0.8" transform="rotate(60 97.2 667)" stroke-width="0.7"/>
<path d="M131.8 759.1L133 755L133.1 753.8L133 752.5L132.6 751L131.9 749.5L131 748.2L130 747L128.9 746.2L127.7 745.7L126.6 745.5L125.7 745.8L125 746.4L124.5 747.3L123.3 751.4L123.3 751.4L125.4 753.4L127.5 755.4L129.6 757.3L131.8 759.1Z" stroke-width="0.9" fill="#fff"/>
<ellipse cx="128.7" cy="751.5" rx="2.9" ry="1.7" transform="rotate(60 128.7 751.5)" stroke-width="0.8"/>
<ellipse cx="128.7" cy="751.5" rx="1.4" ry="0.8" transform="rotate(60 128.7 751.5)" stroke-width="0.7"/>
<path d="M147.5 768.9L147.4 763.9L147.2 762.5L146.7 761L146 759.6L145.1 758.3L144 757.2L142.9 756.4L141.8 756L140.7 755.9L139.8 756.2L139.2 756.9L138.8 757.9L138.6 759.2L138.8 764.2L138.8 764.2L141 765.5L143.1 766.8L145.3 767.9L147.5 768.9Z" stroke-width="0.9" fill="#fff"/>
<ellipse cx="143" cy="762" rx="2.9" ry="1.7" transform="rotate(60 143 762)" stroke-width="0.8"/>
<ellipse cx="143" cy="762" rx="1.4" ry="0.8" transform="rotate(60 143 762)" stroke-width="0.7"/>
<path d="M162.7 772.8L161.3 767.3L160.8 765.8L160 764.4L159 763.1L157.9 762.1L156.8 761.4L155.7 761L154.7 761L153.8 761.4L153.2 762.2L152.8 763.2L152.8 764.5L153 765.9L154.5 771.4L154.5 771.4L156.6 771.9L158.6 772.3L160.7 772.6L162.7 772.8Z" stroke-width="0.9" fill="#fff"/>
<ellipse cx="157.3" cy="767.1" rx="2.9" ry="1.7" transform="rotate(60 157.3 767.1)" stroke-width="0.8"/>
<ellipse cx="157.3" cy="767.1" rx="1.4" ry="0.8" transform="rotate(60 157.3 767.1)" stroke-width="0.7"/>
<path d="M175.8 770.2L173.2 764.8L172.4 763.4L171.4 762.2L170.3 761.2L169.2 760.6L168.1 760.3L167.1 760.4L166.3 760.8L165.7 761.7L165.4 762.8L165.4 764.1L165.7 765.5L166.3 767L168.9 772.4L168.9 772.4L170.7 772L172.5 771.6L174.2 771L175.8 770.2Z" stroke-width="0.9" fill="#fff"/>
<ellipse cx="170" cy="766.4" rx="2.9" ry="1.7" transform="rotate(60 170 766.4)" stroke-width="0.8"/>
<ellipse cx="170" cy="766.4" rx="1.4" ry="0.8" transform="rotate(60 170 766.4)" stroke-width="0.7"/>
<path d="M177.7 768.8L174.2 764L173.4 762.6L172.7 761.1L172.4 759.7L172.3 758.3L172.5 757.2L173.1 756.3L173.8 755.7L174.8 755.6L175.9 755.8L177 756.4L178.1 757.3L179.2 758.5L182.7 763.3L183.2 762.4L183.8 761.5L184.3 760.6L184.8 759.6L185.2 758.7L185.7 757.7L181.6 753.9L180.5 752.8L179.7 751.4L179 750L178.6 748.5L178.4 747.1L178.6 745.9L179.1 745L179.8 744.4L180.7 744.1L181.8 744.2L182.9 744.8L184.1 745.6L188.1 749.4L188.4 748.1L188.6 746.9L188.7 745.7L188.9 744.4L189 743.1L189 741.8L184.8 739.5L183.6 738.7L182.6 737.6L181.6 736.3L180.9 734.9L180.5 733.4L180.3 732L180.4 730.7L180.8 729.7L181.5 729L182.4 728.7L183.4 728.8L184.5 729.2L188.8 731.5L188.6 730.1L188.5 728.6L188.3 727.2L188 725.7L187.8 724.3L187.5 722.8L183.5 722.1L182.3 721.7L181.2 721L180.1 720L179.1 718.7L178.4 717.3L177.9 715.8L177.6 714.4L177.7 713.1L178 712L178.6 711.3L179.5 710.9L180.5 710.9L184.5 711.5L184 710L183.5 708.5L182.9 707L182.4 705.5L181.8 703.9L181.1 702.4L177.8 703.5L176.8 703.6L175.7 703.3L174.5 702.6L173.4 701.7L172.4 700.4L171.6 699L171 697.6L170.7 696.1L170.7 694.8L171 693.7L171.6 692.9L172.4 692.4L175.8 691.3L175 689.9L174.1 688.4L173.3 687L172.4 685.6L171.5 684.2L170.6 682.8L168.2 685.5L167.5 686L166.5 686.2L165.4 686L164.3 685.4L163.2 684.5L162.1 683.3L161.3 681.9L160.7 680.4L160.3 679L160.2 677.6L160.5 676.4L161 675.6L163.4 672.9L162.4 671.6L161.3 670.4L160.3 669.2L159.2 668L158.1 666.9L157 665.7L155.8 669.8L155.4 670.7L154.6 671.3L153.7 671.6L152.7 671.4L151.5 670.9L150.4 670.1L149.3 668.9L148.4 667.6L147.8 666.1L147.4 664.6L147.2 663.3L147.4 662.1L148.6 658L147.4 657.1L146.3 656.2L145.1 655.4L144 654.5L142.8 653.7L141.6 652.9L141.7 657.9L141.6 659.2L141.2 660.2L140.5 660.9L139.7 661.2L138.6 661.1L137.5 660.7L136.3 659.9L135.3 658.8L134.3 657.5L133.6 656.1L133.1 654.6L133 653.2L132.8 648.2L131.7 647.7L130.5 647.2L129.4 646.8L128.2 646.4L127.1 646L125.9 645.7L127.3 651.2L127.6 652.6L127.5 653.9L127.2 654.9L126.6 655.7L125.7 656.1L124.7 656.1L123.6 655.7L122.4 655L121.3 654L120.4 652.7L119.6 651.3L119.1 649.8L117.7 644.3L116.6 644.3L115.5 644.3L114.5 644.4L113.5 644.4L112.5 644.5L111.5 644.7L114.1 650.1L114.6 651.6L114.9 653L115 654.3L114.7 655.4L114.1 656.3L113.3 656.7L112.3 656.8L111.2 656.5L110 655.9L108.9 654.9L107.9 653.7L107.1 652.3L104.5 646.9L103.7 647.3L102.8 647.8L102 648.3L101.2 648.8L100.4 649.4L99.7 650L103.2 654.8L104.1 656.2L104.7 657.7L105 659.1L105.1 660.5L104.9 661.6L104.4 662.5L103.6 663.1L102.6 663.2L101.6 663L100.4 662.4L99.3 661.5L98.3 660.3L94.7 655.5L94.2 656.4L93.6 657.3L93.1 658.2L92.6 659.2L92.2 660.1L91.7 661.1L95.8 664.9L96.9 666L97.8 667.4L98.4 668.8L98.9 670.3L99 671.7L98.8 672.9L98.3 673.8L97.6 674.4L96.7 674.7L95.6 674.6L94.5 674L93.4 673.2L89.3 669.4L89.1 670.7L88.9 671.9L88.7 673.1L88.6 674.4L88.5 675.7L88.4 677L92.6 679.3L93.8 680.1L94.8 681.2L95.8 682.5L96.5 683.9L97 685.4L97.2 686.8L97 688.1L96.6 689.1L96 689.8L95.1 690.1L94 690L92.9 689.6L88.6 687.3L88.8 688.7L89 690.2L89.2 691.6L89.4 693.1L89.7 694.5L89.9 696L94 696.7L95.1 697.1L96.2 697.8L97.3 698.8L98.3 700.1L99 701.5L99.6 703L99.8 704.4L99.8 705.7L99.4 706.8L98.8 707.5L97.9 707.9L96.9 707.9L92.9 707.3L93.4 708.8L93.9 710.3L94.5 711.8L95.1 713.3L95.7 714.9L96.3 716.4L99.7 715.3L100.7 715.2L101.8 715.5L102.9 716.2L104 717.1L105 718.4L105.8 719.8L106.4 721.2L106.7 722.7L106.7 724L106.4 725.1L105.8 725.9L105 726.4L101.7 727.5L102.5 728.9L103.3 730.4L104.1 731.8L105 733.2L105.9 734.6L106.8 736L109.2 733.3L109.9 732.8L110.9 732.6L112 732.8L113.1 733.4L114.3 734.3L115.3 735.5L116.1 736.9L116.8 738.4L117.1 739.8L117.2 741.2L116.9 742.4L116.4 743.2L114 745.9L115.1 747.2L116.1 748.4L117.2 749.6L118.2 750.8L119.3 751.9L120.4 753.1L121.6 749L122.1 748.1L122.8 747.5L123.7 747.2L124.8 747.4L125.9 747.9L127 748.7L128.1 749.9L129 751.2L129.7 752.7L130.1 754.2L130.2 755.5L130 756.7L128.8 760.8L130 761.7L131.1 762.6L132.3 763.4L133.5 764.3L134.6 765.1L135.8 765.9L135.7 760.9L135.8 759.6L136.2 758.6L136.9 757.9L137.8 757.6L138.8 757.7L139.9 758.1L141.1 758.9L142.2 760L143.1 761.3L143.8 762.7L144.3 764.2L144.5 765.6L144.6 770.6L145.7 771.1L146.9 771.6L148.1 772L149.2 772.4L150.4 772.8L151.5 773.1L150.1 767.6L149.8 766.2L149.9 764.9L150.2 763.9L150.9 763.1L151.7 762.7L152.7 762.7L153.8 763.1L155 763.8L156.1 764.8L157 766.1L157.8 767.5L158.3 769L159.8 774.5L160.8 774.5L161.9 774.5L162.9 774.4L163.9 774.4L165 774.3L166 774.1L163.3 768.7L162.8 767.2L162.5 765.8L162.5 764.5L162.8 763.4L163.3 762.5L164.1 762.1L165.1 762L166.2 762.3L167.4 762.9L168.5 763.9L169.5 765.1L170.3 766.5L172.9 771.9L173.7 771.5L174.6 771L175.4 770.5L176.2 770L177 769.4Z" stroke-width="0.9" fill="#fff"/>
<ellipse cx="139.8" cy="708.8" rx="56" ry="32.3" transform="rotate(60 139.8 708.8)"/>
<ellipse cx="135.1" cy="709.8" rx="50.5" ry="29.2" transform="rotate(60 135.1 709.8)"/>
<ellipse cx="113.7" cy="672.2" rx="4.6" ry="2.7" transform="rotate(60 113.7 672.2)" stroke-width="0.9"/>
<ellipse cx="114.1" cy="672.2" rx="2.6" ry="1.5" transform="rotate(60 114.1 672.2)" stroke-width="0.8"/>
<ellipse cx="134.3" cy="721" rx="4.6" ry="2.7" transform="rotate(60 134.3 721)" stroke-width="0.9"/>
<ellipse cx="134.7" cy="721" rx="2.6" ry="1.5" transform="rotate(60 134.7 721)" stroke-width="0.8"/>
<ellipse cx="134.3" cy="746.3" rx="4.6" ry="2.7" transform="rotate(60 134.3 746.3)" stroke-width="0.9"/>
<ellipse cx="134.7" cy="746.3" rx="2.6" ry="1.5" transform="rotate(60 134.7 746.3)" stroke-width="0.8"/>
<path d="M80.9 126.7A1.9 1.1 60 1 0 79 123.4" stroke-width="0.8" stroke="#444" fill="#fff"/>
<path d="M57.9 135.6L79.1 123.4L81 126.6L59.8 138.9Z" fill="#fff" stroke="none"/>
<path d="M59.8 138.9L81 126.6" stroke-width="0.8" stroke="#444"/>
<path d="M57.9 135.6L79.1 123.4" stroke-width="0.8" stroke="#444"/>
<ellipse cx="58.8" cy="137.2" rx="1.9" ry="1.1" transform="rotate(60 58.8 137.2)" stroke-width="0.8" stroke="#444" fill="#fff"/>
<path d="M73.3 131A1.9 1.1 60 1 0 71.5 127.9" stroke-width="0.6" stroke="#444"/>
<path d="M74.7 130.2A1.9 1.1 60 1 0 72.9 127.1" stroke-width="0.6" stroke="#444"/>
<path d="M76 129.4A1.9 1.1 60 1 0 74.3 126.3" stroke-width="0.6" stroke="#444"/>
<path d="M77.4 128.6A1.9 1.1 60 1 0 75.6 125.5" stroke-width="0.6" stroke="#444"/>
<path d="M78.8 127.8A1.9 1.1 60 1 0 77 124.7" stroke-width="0.6" stroke="#444"/>
<path d="M80.2 127A1.9 1.1 60 1 0 78.4 123.9" stroke-width="0.6" stroke="#444"/>
<path d="M60.8 141A4.2 2.4 60 1 0 56.6 133.7" stroke-width="0.8" stroke="#444" fill="#fff"/>
<path d="M54.1 135.1L56.7 133.6L60.9 140.9L58.4 142.4Z" fill="#fff" stroke="none"/>
<path d="M58.4 142.4L60.9 140.9" stroke-width="0.8" stroke="#444"/>
<path d="M54.1 135.1L56.7 133.6" stroke-width="0.8" stroke="#444"/>
<ellipse cx="56.2" cy="138.8" rx="4.2" ry="2.4" transform="rotate(60 56.2 138.8)" stroke-width="0.8" stroke="#444" fill="#fff"/>
<ellipse cx="56.2" cy="138.8" rx="2.6" ry="1.5" transform="rotate(60 56.2 138.8)" stroke-width="0.7" stroke="#444"/>
<path d="M90.5 123.5A4 2.3 60 1 0 86.5 116.5" stroke-width="0.8" stroke="#444" fill="#fff"/>
<path d="M85.1 117.3L86.7 116.4L90.7 123.4L89.1 124.3Z" fill="#fff" stroke="none"/>
<path d="M89.1 124.3L90.7 123.4" stroke-width="0.8" stroke="#444"/>
<path d="M85.1 117.3L86.7 116.4" stroke-width="0.8" stroke="#444"/>
<ellipse cx="87.1" cy="120.8" rx="4" ry="2.3" transform="rotate(60 87.1 120.8)" stroke-width="0.8" stroke="#444" fill="#fff"/>
<ellipse cx="87.1" cy="120.8" rx="2.1" ry="1.2" transform="rotate(60 87.1 120.8)" stroke-width="0.8" stroke="#444"/>
<path d="M90.5 118.8L105 111.2" stroke-width="0.8" stroke="#444"/>
<path d="M106.8 158.6A3 1.7 60 1 0 103.8 153.4" stroke-width="0.8" stroke="#444" fill="#fff"/>
<path d="M98.3 156.6L104 153.4L107 158.5L101.3 161.8Z" fill="#fff" stroke="none"/>
<path d="M101.3 161.8L107 158.5" stroke-width="0.8" stroke="#444"/>
<path d="M98.3 156.6L104 153.4" stroke-width="0.8" stroke="#444"/>
<ellipse cx="99.8" cy="159.2" rx="3" ry="1.7" transform="rotate(60 99.8 159.2)" stroke-width="0.8" stroke="#444" fill="#fff"/>
<path d="M102 161.2A3 1.7 60 1 0 99.2 156.3" stroke-width="0.6" stroke="#444"/>
<path d="M103.2 160.5A3 1.7 60 1 0 100.4 155.6" stroke-width="0.6" stroke="#444"/>
<path d="M104.5 159.8A3 1.7 60 1 0 101.6 154.9" stroke-width="0.6" stroke="#444"/>
<path d="M105.7 159.1A3 1.7 60 1 0 102.8 154.2" stroke-width="0.6" stroke="#444"/>
<path d="M101.8 162.6A3.9 2.3 60 1 0 97.9 155.8" stroke-width="0.8" stroke="#444" fill="#fff"/>
<path d="M96.1 156.8L98.1 155.7L102 162.5L100 163.6Z" fill="#fff" stroke="none"/>
<path d="M100 163.6L102 162.5" stroke-width="0.8" stroke="#444"/>
<path d="M96.1 156.8L98.1 155.7" stroke-width="0.8" stroke="#444"/>
<ellipse cx="98.1" cy="160.2" rx="3.9" ry="2.3" transform="rotate(60 98.1 160.2)" stroke-width="0.8" stroke="#444" fill="#fff"/>
<ellipse cx="98.1" cy="160.2" rx="2.2" ry="1.3" transform="rotate(60 98.1 160.2)" stroke-width="0.7" stroke="#444"/>
<path d="M106.5 157.2L141.5 135" stroke-width="0.8" stroke="#444"/>
<path d="M81.2 710.6A2.2 1.3 60 1 0 79 706.8" stroke-width="0.8" stroke="#444" fill="#fff"/>
<path d="M66.1 714.2L79.1 706.7L81.3 710.5L68.3 718Z" fill="#fff" stroke="none"/>
<path d="M68.3 718L81.3 710.5" stroke-width="0.8" stroke="#444"/>
<path d="M66.1 714.2L79.1 706.7" stroke-width="0.8" stroke="#444"/>
<ellipse cx="67.2" cy="716.1" rx="2.2" ry="1.3" transform="rotate(60 67.2 716.1)" stroke-width="0.8" stroke="#444" fill="#fff"/>
<path d="M73.1 715.1A2.2 1.3 60 1 0 71 711.5" stroke-width="0.6" stroke="#444"/>
<path d="M74.5 714.3A2.2 1.3 60 1 0 72.4 710.7" stroke-width="0.6" stroke="#444"/>
<path d="M75.8 713.5A2.2 1.3 60 1 0 73.8 709.9" stroke-width="0.6" stroke="#444"/>
<path d="M77.2 712.7A2.2 1.3 60 1 0 75.2 709.1" stroke-width="0.6" stroke="#444"/>
<path d="M78.6 711.9A2.2 1.3 60 1 0 76.5 708.3" stroke-width="0.6" stroke="#444"/>
<path d="M80 711.1A2.2 1.3 60 1 0 77.9 707.5" stroke-width="0.6" stroke="#444"/>
<path d="M70 720.5A5.2 3 60 1 0 64.8 711.5" stroke-width="0.8" stroke="#444" fill="#fff"/>
<path d="M61.1 713.6L65 711.3L70.2 720.4L66.3 722.6Z" fill="#fff" stroke="none"/>
<path d="M66.3 722.6L70.2 720.4" stroke-width="0.8" stroke="#444"/>
<path d="M61.1 713.6L65 711.3" stroke-width="0.8" stroke="#444"/>
<ellipse cx="63.8" cy="718.1" rx="5.2" ry="3" transform="rotate(60 63.8 718.1)" stroke-width="0.8" stroke="#444" fill="#fff"/>
<ellipse cx="63.8" cy="718.1" rx="3.3" ry="1.9" transform="rotate(60 63.8 718.1)" stroke-width="0.7" stroke="#444"/>
<ellipse cx="63.8" cy="718.1" rx="1.6" ry="0.9" transform="rotate(60 63.8 718.1)" stroke-width="0.6" stroke="#444"/>
<path d="M81 707.8L96.9 698.7" stroke-width="0.8" stroke="#444"/>
<ellipse cx="91.2" cy="749.4" rx="4.4" ry="2.5" transform="rotate(60 91.2 749.4)" stroke-width="1.1" stroke="#222" fill="#fff"/>
<path d="M95 747L131.5 726" stroke-width="0.8" stroke="#444"/>
<path d="M84.5 758.7A4.4 2.5 60 1 0 80.1 751.1" stroke-width="0.8" stroke="#444" fill="#fff"/>
<path d="M73.8 754.7L80.3 750.9L84.7 758.6L78.2 762.3Z" fill="#fff" stroke="none"/>
<path d="M78.2 762.3L84.7 758.6" stroke-width="0.8" stroke="#444"/>
<path d="M73.8 754.7L80.3 750.9" stroke-width="0.8" stroke="#444"/>
<ellipse cx="76" cy="758.5" rx="4.4" ry="2.5" transform="rotate(60 76 758.5)" stroke-width="0.8" stroke="#444" fill="#fff"/>
<path d="M79 761.5A4.4 2.5 60 1 0 74.9 754.4" stroke-width="0.6" stroke="#444"/>
<path d="M80.3 760.8A4.4 2.5 60 1 0 76.2 753.6" stroke-width="0.6" stroke="#444"/>
<path d="M81.6 760A4.4 2.5 60 1 0 77.5 752.9" stroke-width="0.6" stroke="#444"/>
<path d="M82.9 759.3A4.4 2.5 60 1 0 78.8 752.1" stroke-width="0.6" stroke="#444"/>
<path d="M78.7 763.4A5.6 3.2 60 1 0 73.1 753.7" stroke-width="0.8" stroke="#444" fill="#fff"/>
<path d="M70.6 755.2L73.4 753.6L79 763.2L76.2 764.8Z" fill="#fff" stroke="none"/>
<path d="M76.2 764.8L79 763.2" stroke-width="0.8" stroke="#444"/>
<path d="M70.6 755.2L73.4 753.6" stroke-width="0.8" stroke="#444"/>
<ellipse cx="73.4" cy="760" rx="5.6" ry="3.2" transform="rotate(60 73.4 760)" stroke-width="0.8" stroke="#444" fill="#fff"/>
<ellipse cx="73.4" cy="760" rx="3.6" ry="2.1" transform="rotate(60 73.4 760)" stroke-width="0.7" stroke="#444"/>
<ellipse cx="73.7" cy="760" rx="1.5" ry="0.9" transform="rotate(60 73.7 760)" stroke-width="0.6" stroke="#444"/>
<path d="M73.6 385A1.6 0.9 60 1 0 72 382.2" stroke-width="0.8" stroke="#444" fill="#fff"/>
<path d="M63.8 386.9L72 382.2L73.6 384.9L65.4 389.7Z" fill="#fff" stroke="none"/>
<path d="M65.4 389.7L73.6 384.9" stroke-width="0.8" stroke="#444"/>
<path d="M63.8 386.9L72 382.2" stroke-width="0.8" stroke="#444"/>
<ellipse cx="64.6" cy="388.3" rx="1.6" ry="0.9" transform="rotate(60 64.6 388.3)" stroke-width="0.8" stroke="#444" fill="#fff"/>
<path d="M74 384L88.5 377.3" stroke-width="0.8" stroke="#444"/>
<path d="M115.4 452.7A1.4 0.8 60 1 0 114 450.3" stroke-width="0.8" stroke="#444" fill="#fff"/>
<path d="M102.8 456.7L114 450.2L115.4 452.7L104.2 459.2Z" fill="#fff" stroke="none"/>
<path d="M104.2 459.2L115.4 452.7" stroke-width="0.8" stroke="#444"/>
<path d="M102.8 456.7L114 450.2" stroke-width="0.8" stroke="#444"/>
<ellipse cx="103.5" cy="457.9" rx="1.4" ry="0.8" transform="rotate(60 103.5 457.9)" stroke-width="0.8" stroke="#444" fill="#fff"/>
<path d="M105 460.2A2.7 1.6 60 1 0 102.3 455.5" stroke-width="0.8" stroke="#444" fill="#fff"/>
<path d="M100 456.9L102.4 455.5L105.1 460.1L102.6 461.5Z" fill="#fff" stroke="none"/>
<path d="M102.6 461.5L105.1 460.1" stroke-width="0.8" stroke="#444"/>
<path d="M100 456.9L102.4 455.5" stroke-width="0.8" stroke="#444"/>
<ellipse cx="101.3" cy="459.2" rx="2.7" ry="1.6" transform="rotate(60 101.3 459.2)" stroke-width="0.8" stroke="#444" fill="#fff"/>
<ellipse cx="101.3" cy="459.2" rx="1.4" ry="0.8" transform="rotate(60 101.3 459.2)" stroke-width="0.6" stroke="#444"/>
<path d="M115 452.8L121.5 449.6" stroke-width="0.8" stroke="#444"/>
<path d="M311 671.3A1.6 0.9 60 1 0 309.4 668.5" stroke-width="0.8" stroke="#444" fill="#fff"/>
<path d="M301.2 673.2L309.4 668.5L311 671.2L302.8 676Z" fill="#fff" stroke="none"/>
<path d="M302.8 676L311 671.2" stroke-width="0.8" stroke="#444"/>
<path d="M301.2 673.2L309.4 668.5" stroke-width="0.8" stroke="#444"/>
<ellipse cx="302" cy="674.6" rx="1.6" ry="0.9" transform="rotate(60 302 674.6)" stroke-width="0.8" stroke="#444" fill="#fff"/>
<path d="M311 670.8L326 662.3" stroke-width="0.8" stroke="#444"/>
<path d="M176.8 74L196.7 63" stroke-width="0.9"/>
<path d="M68.1 109.4L83.8 118.1" stroke-width="0.9"/>
<path d="M48.8 122.5L65 131.2" stroke-width="0.9"/>
<path d="M101.2 165L117.5 173.1" stroke-width="0.9"/>
<path d="M47.5 704.4L60.6 712.5" stroke-width="0.9"/>
<path d="M93.4 753.5L93.4 768.8" stroke-width="0.9"/>
<path d="M78.8 765L78.8 777.5" stroke-width="0.9"/>
<path d="M55.8 381.4L65.4 387.7" stroke-width="0.9"/>
<path d="M105.2 462.5L123.1 470.8" stroke-width="0.9"/>
<path d="M146.5 450L163 458.4" stroke-width="0.9"/>
<path d="M172.6 303L187.8 311.2" stroke-width="0.9"/>
<path d="M141 319L157.5 327.8" stroke-width="0.9"/>
<path d="M307.5 676L324 684.4" stroke-width="0.9"/>
<path d="M278 713L293 721" stroke-width="0.9"/>
<path d="M194 756L211.5 764.8" stroke-width="0.9"/>
<path d="M714.5 445.5L729.4 454.2" stroke-width="0.9"/>
<path d="M640 473L658 483" stroke-width="0.9"/>
<path d="M235.8 242L245.9 268" stroke-width="0.9"/>
<path d="M235.8 242L274.3 254.2" stroke-width="0.9"/>
<path d="M316.9 196L332 204.2" stroke-width="0.9"/>
<path d="M355.4 172.6L370.5 180.9" stroke-width="0.9"/>
<path d="M439.5 134L448.8 152.1" stroke-width="0.9"/>
<path d="M439 129.3L476 137" stroke-width="0.9"/>
<path d="M441.5 130.5L460 141.3" stroke-width="0.9"/>
<path d="M531.6 70.9L545.4 77.8" stroke-width="0.9"/>
<path d="M618.2 43.4L634.8 53" stroke-width="0.9"/>
<path d="M662.2 146.5L678.8 154.8" stroke-width="0.9"/>
<path d="M604 300L628 314" stroke-width="0.9"/>
<path d="M586 309L611 323" stroke-width="0.9"/>
<path d="M555 327L569 335" stroke-width="0.9"/>
<path d="M524 344L549 359" stroke-width="0.9"/>
<path d="M500 358L527 372" stroke-width="0.9"/>
<path d="M468.5 373.2L484.2 380.8" stroke-width="0.9"/>
<path d="M462.5 394.2L478.2 402.5" stroke-width="0.9"/>
<path d="M499.9 512L518.6 519.3" stroke-width="0.9"/>
<path d="M543.8 507L560 516.9" stroke-width="0.9"/>
<path d="M465 533L479.6 540.4" stroke-width="0.9"/>
<path d="M444.6 538L465.8 550" stroke-width="0.9"/>
<path d="M646 150L657.5 143.8" stroke-width="0.9"/>
<path d="M542 478L571 461.5" stroke-width="0.8" stroke="#444"/>
<rect x="617.5" y="624.3" width="129.3" height="110.7" rx="1.5" stroke="#444" fill="none"/>
<path d="M657.4 631.7L659.7 632.7L659.4 635.4L660.4 636.2L662.2 634.7L663.9 637.1L663 640L663.6 641.4L665.4 640.8L666.2 644.3L664.9 647.1L665 648.9L666.6 649.2L666.4 653.5L664.8 655.9L664.5 658.1L665.6 659.3L664.6 664L662.7 665.7L662 667.9L662.7 669.9L660.8 674.6L659 675.5L658 677.6L658 680.1L655.5 684.3L653.9 684.3L652.6 686L652.1 688.9L649.2 692.1L647.9 691.3L646.5 692.5L645.5 695.4L642.5 697.4L641.7 695.7L640.3 696.3L638.8 699L636.1 699.5L635.7 697.2L634.5 697.1L632.8 699.3L630.5 698.3L630.8 695.6L629.8 694.8L628 696.3L626.3 693.9L627.2 691L626.6 689.6L624.8 690.2L624 686.7L625.3 683.9L625.2 682.1L623.6 681.8L623.8 677.5L625.4 675.1L625.7 672.9L624.6 671.8L625.6 667L627.5 665.3L628.2 663.1L627.5 661.1L629.4 656.4L631.2 655.5L632.3 653.4L632.2 650.9L634.7 646.7L636.3 646.7L637.6 645L638.1 642.1L641 638.9L642.3 639.7L643.7 638.5L644.7 635.6L647.7 633.6L648.5 635.3L649.9 634.7L651.4 632L654.1 631.5L654.5 633.8L655.7 633.9Z" stroke-width="0.8" stroke="#444" fill="#fff"/>
<path d="M635.7 697.9L633.5 697.1L631.5 695.6L629.8 693.5L628.5 690.9L627.6 687.8L627 684.2L626.9 680.2L627.2 676L627.9 671.5L629 667L630.5 662.4L632.3 657.9L634.4 653.6L636.8 649.6L639.3 645.9L642.1 642.7L644.9 639.9L647.8 637.7L650.6 636.1L653.4 635.1L656.1 634.8L658.5 635.1L660.7 636" stroke-width="0.8" stroke="#444"/>
<path d="M634.3 697.5L638.7 699.8L663.8 637.7L659.4 635.4Z" fill="#fff" stroke="none"/>
<path d="M659.4 635.4L663.8 637.7" stroke-width="0.8" stroke="#444"/>
<path d="M634.3 697.5L638.7 699.8" stroke-width="0.8" stroke="#444"/>
<ellipse cx="651.3" cy="668.8" rx="33.5" ry="16.8" transform="rotate(-68 651.3 668.8)" stroke-width="0.8" stroke="#444" fill="#fff"/>
<path d="M639.6 701.7L637.3 700.8L635.2 699.3L633.5 697.1L632.1 694.3L631.1 691.1L630.6 687.3L630.4 683.2L630.7 678.7L631.5 674.1L632.6 669.3L634.2 664.6L636 659.9L638.2 655.4L640.7 651.2L643.4 647.4L646.3 644L649.2 641.1L652.2 638.8L655.2 637.1L658.1 636L660.9 635.7L663.4 636L665.8 637" stroke-width="0.8" stroke="#444"/>
<path d="M638.2 701.2L645.2 705L671.5 640.1L664.4 636.3Z" fill="#fff" stroke="none"/>
<path d="M664.4 636.3L671.5 640.1" stroke-width="0.8" stroke="#444"/>
<path d="M638.2 701.2L645.2 705" stroke-width="0.8" stroke="#444"/>
<ellipse cx="658.3" cy="672.5" rx="35" ry="17.5" transform="rotate(-68 658.3 672.5)" stroke-width="0.8" stroke="#444" fill="#fff"/>
<path d="M647 704.5L644.7 703.6L642.7 702.2L641 700L639.7 697.4L638.7 694.2L638.2 690.5L638.1 686.5L638.4 682.2L639.1 677.7L640.2 673.1L641.7 668.5L643.5 663.9L645.7 659.6L648.1 655.5L650.7 651.7L653.5 648.4L656.4 645.6L659.3 643.4L662.2 641.7L665 640.7L667.7 640.4L670.2 640.7L672.4 641.7" stroke-width="0.8" stroke="#444"/>
<path d="M645.6 704.1L652.7 707.8L678.1 644.8L671.1 641Z" fill="#fff" stroke="none"/>
<path d="M671.1 641L678.1 644.8" stroke-width="0.8" stroke="#444"/>
<path d="M645.6 704.1L652.7 707.8" stroke-width="0.8" stroke="#444"/>
<ellipse cx="665.4" cy="676.3" rx="34" ry="17" transform="rotate(-68 665.4 676.3)" stroke-width="0.8" stroke="#444" fill="#fff"/>
<path d="M655.3 705L653.2 704.2L651.4 702.9L649.9 701L648.7 698.6L647.8 695.7L647.3 692.4L647.2 688.8L647.5 685L648.1 680.9L649.1 676.8L650.5 672.6L652.1 668.6L654.1 664.6L656.2 661L658.6 657.6L661 654.7L663.6 652.1L666.2 650.1L668.8 648.6L671.4 647.7L673.8 647.4L676 647.7L678 648.6" stroke-width="0.8" stroke="#444"/>
<path d="M654 704.6L664.6 710.2L687.4 653.6L676.8 648Z" fill="#fff" stroke="none"/>
<path d="M676.8 648L687.4 653.6" stroke-width="0.8" stroke="#444"/>
<path d="M654 704.6L664.6 710.2" stroke-width="0.8" stroke="#444"/>
<ellipse cx="676" cy="681.9" rx="30.5" ry="15.2" transform="rotate(-68 676 681.9)" stroke-width="0.8" stroke="#444" fill="#fff"/>
<path d="M665 712.9L662.8 712.1L660.8 710.7L659.2 708.6L657.9 706L657 702.9L656.5 699.4L656.3 695.5L656.6 691.3L657.3 686.9L658.4 682.4L659.9 678L661.6 673.5L663.7 669.3L666.1 665.3L668.6 661.7L671.3 658.5L674.1 655.8L676.9 653.6L679.7 652L682.5 651L685.1 650.7L687.5 651L689.7 652" stroke-width="0.8" stroke="#444"/>
<path d="M663.6 712.5L672.5 717.2L697.2 656L688.4 651.3Z" fill="#fff" stroke="none"/>
<path d="M688.4 651.3L697.2 656" stroke-width="0.8" stroke="#444"/>
<path d="M663.6 712.5L672.5 717.2" stroke-width="0.8" stroke="#444"/>
<ellipse cx="684.8" cy="686.6" rx="33" ry="16.5" transform="rotate(-68 684.8 686.6)" stroke-width="0.8" stroke="#444" fill="#fff"/>
<path d="M672.8 726.6L670 725.5L667.5 723.7L665.5 721.1L663.8 717.9L662.7 714L662 709.5L661.9 704.6L662.2 699.3L663.1 693.8L664.5 688.2L666.3 682.6L668.5 677L671.1 671.7L674.1 666.7L677.3 662.1L680.7 658.1L684.2 654.7L687.7 651.9L691.3 649.9L694.7 648.7L698 648.3L701 648.7L703.8 649.9" stroke-width="0.8" stroke="#444"/>
<path d="M671.1 726L673.7 727.4L704.8 650.5L702.1 649.1Z" fill="#fff" stroke="none"/>
<path d="M702.1 649.1L704.8 650.5" stroke-width="0.8" stroke="#444"/>
<path d="M671.1 726L673.7 727.4" stroke-width="0.8" stroke="#444"/>
<ellipse cx="689.3" cy="689" rx="41.5" ry="20.8" transform="rotate(-68 689.3 689)" stroke-width="0.8" stroke="#444" fill="#fff"/>
<ellipse cx="676.1" cy="673.2" rx="1" ry="0.5" transform="rotate(-68 676.1 673.2)" stroke-width="0.6" stroke="#444"/>
<ellipse cx="679.4" cy="667.9" rx="1" ry="0.5" transform="rotate(-68 679.4 667.9)" stroke-width="0.6" stroke="#444"/>
<ellipse cx="683.1" cy="663.3" rx="1" ry="0.5" transform="rotate(-68 683.1 663.3)" stroke-width="0.6" stroke="#444"/>
<ellipse cx="686.9" cy="659.4" rx="1" ry="0.5" transform="rotate(-68 686.9 659.4)" stroke-width="0.6" stroke="#444"/>
<ellipse cx="690.8" cy="656.4" rx="1" ry="0.5" transform="rotate(-68 690.8 656.4)" stroke-width="0.6" stroke="#444"/>
<ellipse cx="694.6" cy="654.5" rx="1" ry="0.5" transform="rotate(-68 694.6 654.5)" stroke-width="0.6" stroke="#444"/>
<ellipse cx="698.3" cy="653.5" rx="1" ry="0.5" transform="rotate(-68 698.3 653.5)" stroke-width="0.6" stroke="#444"/>
<ellipse cx="701.7" cy="653.7" rx="1" ry="0.5" transform="rotate(-68 701.7 653.7)" stroke-width="0.6" stroke="#444"/>
<ellipse cx="704.8" cy="654.9" rx="1" ry="0.5" transform="rotate(-68 704.8 654.9)" stroke-width="0.6" stroke="#444"/>
<ellipse cx="707.3" cy="657.2" rx="1" ry="0.5" transform="rotate(-68 707.3 657.2)" stroke-width="0.6" stroke="#444"/>
<ellipse cx="709.3" cy="660.4" rx="1" ry="0.5" transform="rotate(-68 709.3 660.4)" stroke-width="0.6" stroke="#444"/>
<ellipse cx="710.7" cy="664.5" rx="1" ry="0.5" transform="rotate(-68 710.7 664.5)" stroke-width="0.6" stroke="#444"/>
<ellipse cx="711.5" cy="669.3" rx="1" ry="0.5" transform="rotate(-68 711.5 669.3)" stroke-width="0.6" stroke="#444"/>
<ellipse cx="711.5" cy="674.8" rx="1" ry="0.5" transform="rotate(-68 711.5 674.8)" stroke-width="0.6" stroke="#444"/>
<ellipse cx="710.9" cy="680.6" rx="1" ry="0.5" transform="rotate(-68 710.9 680.6)" stroke-width="0.6" stroke="#444"/>
<ellipse cx="709.7" cy="686.7" rx="1" ry="0.5" transform="rotate(-68 709.7 686.7)" stroke-width="0.6" stroke="#444"/>
<path d="M677.8 721.4L675.4 720.5L673.4 719L671.7 716.9L670.3 714.1L669.4 710.9L668.8 707.2L668.7 703.1L669 698.8L669.7 694.2L670.9 689.5L672.4 684.8L674.2 680.2L676.4 675.8L678.8 671.6L681.5 667.8L684.3 664.5L687.2 661.6L690.2 659.3L693.1 657.7L696 656.7L698.7 656.3L701.2 656.6L703.5 657.6" stroke-width="0.8" stroke="#444"/>
<path d="M676.3 720.9L683.4 724.7L709.2 660.7L702.2 657Z" fill="#fff" stroke="none"/>
<path d="M702.2 657L709.2 660.7" stroke-width="0.8" stroke="#444"/>
<path d="M676.3 720.9L683.4 724.7" stroke-width="0.8" stroke="#444"/>
<ellipse cx="696.3" cy="692.7" rx="34.5" ry="17.2" transform="rotate(-68 696.3 692.7)" stroke-width="0.8" stroke="#444" fill="#fff"/>
<ellipse cx="696.3" cy="692.7" rx="34.5" ry="17.2" transform="rotate(-68 696.3 692.7)" stroke-width="1.7" stroke="#222"/>
<path d="M686 721.8L683.9 721.1L682.1 719.7L680.5 717.8L679.3 715.3L678.4 712.4L678 709.1L677.8 705.4L678.1 701.5L678.8 697.4L679.8 693.2L681.1 689L682.8 684.8L684.8 680.9L687 677.1L689.4 673.7L691.9 670.7L694.5 668.2L697.2 666.1L699.8 664.6L702.4 663.7L704.8 663.4L707.1 663.7L709.1 664.6" stroke-width="0.8" stroke="#444"/>
<path d="M684.7 721.4L689.1 723.8L712.3 666.3L707.9 664Z" fill="#fff" stroke="none"/>
<path d="M707.9 664L712.3 666.3" stroke-width="0.8" stroke="#444"/>
<path d="M684.7 721.4L689.1 723.8" stroke-width="0.8" stroke="#444"/>
<ellipse cx="700.7" cy="695" rx="31" ry="15.5" transform="rotate(-68 700.7 695)" stroke-width="0.8" stroke="#444" fill="#fff"/>
<ellipse cx="688.7" cy="687.6" rx="0.9" ry="0.5" transform="rotate(-68 688.7 687.6)" stroke-width="0.6" stroke="#444"/>
<ellipse cx="690.7" cy="683.7" rx="0.9" ry="0.5" transform="rotate(-68 690.7 683.7)" stroke-width="0.6" stroke="#444"/>
<ellipse cx="692.9" cy="680.1" rx="0.9" ry="0.5" transform="rotate(-68 692.9 680.1)" stroke-width="0.6" stroke="#444"/>
<ellipse cx="695.3" cy="676.8" rx="0.9" ry="0.5" transform="rotate(-68 695.3 676.8)" stroke-width="0.6" stroke="#444"/>
<ellipse cx="697.8" cy="674.1" rx="0.9" ry="0.5" transform="rotate(-68 697.8 674.1)" stroke-width="0.6" stroke="#444"/>
<ellipse cx="700.4" cy="671.8" rx="0.9" ry="0.5" transform="rotate(-68 700.4 671.8)" stroke-width="0.6" stroke="#444"/>
<ellipse cx="703" cy="670.1" rx="0.9" ry="0.5" transform="rotate(-68 703 670.1)" stroke-width="0.6" stroke="#444"/>
<ellipse cx="705.6" cy="669" rx="0.9" ry="0.5" transform="rotate(-68 705.6 669)" stroke-width="0.6" stroke="#444"/>
<ellipse cx="708" cy="668.6" rx="0.9" ry="0.5" transform="rotate(-68 708 668.6)" stroke-width="0.6" stroke="#444"/>
<ellipse cx="710.3" cy="668.8" rx="0.9" ry="0.5" transform="rotate(-68 710.3 668.8)" stroke-width="0.6" stroke="#444"/>
<ellipse cx="712.3" cy="669.6" rx="0.9" ry="0.5" transform="rotate(-68 712.3 669.6)" stroke-width="0.6" stroke="#444"/>
<ellipse cx="714" cy="671.1" rx="0.9" ry="0.5" transform="rotate(-68 714 671.1)" stroke-width="0.6" stroke="#444"/>
<ellipse cx="715.5" cy="673.2" rx="0.9" ry="0.5" transform="rotate(-68 715.5 673.2)" stroke-width="0.6" stroke="#444"/>
<ellipse cx="716.5" cy="675.8" rx="0.9" ry="0.5" transform="rotate(-68 716.5 675.8)" stroke-width="0.6" stroke="#444"/>
<ellipse cx="717.2" cy="678.9" rx="0.9" ry="0.5" transform="rotate(-68 717.2 678.9)" stroke-width="0.6" stroke="#444"/>
<ellipse cx="717.4" cy="682.4" rx="0.9" ry="0.5" transform="rotate(-68 717.4 682.4)" stroke-width="0.6" stroke="#444"/>
<ellipse cx="717.3" cy="686.2" rx="0.9" ry="0.5" transform="rotate(-68 717.3 686.2)" stroke-width="0.6" stroke="#444"/>
<ellipse cx="716.7" cy="690.2" rx="0.9" ry="0.5" transform="rotate(-68 716.7 690.2)" stroke-width="0.6" stroke="#444"/>
<ellipse cx="715.7" cy="694.3" rx="0.9" ry="0.5" transform="rotate(-68 715.7 694.3)" stroke-width="0.6" stroke="#444"/>
<ellipse cx="714.4" cy="698.5" rx="0.9" ry="0.5" transform="rotate(-68 714.4 698.5)" stroke-width="0.6" stroke="#444"/>
<path d="M692.4 718.5L690.7 717.9L689.2 716.8L688 715.3L687 713.3L686.3 711L685.9 708.3L685.8 705.3L686.1 702.2L686.6 698.8L687.4 695.4L688.5 692L689.8 688.7L691.4 685.5L693.2 682.5L695.1 679.7L697.2 677.3L699.3 675.2L701.4 673.6L703.5 672.4L705.6 671.7L707.6 671.4L709.4 671.6L711.1 672.4" stroke-width="0.8" stroke="#444"/>
<path d="M691.4 718.2L695.8 720.6L714.5 674.2L710.1 671.9Z" fill="#fff" stroke="none"/>
<path d="M710.1 671.9L714.5 674.2" stroke-width="0.8" stroke="#444"/>
<path d="M691.4 718.2L695.8 720.6" stroke-width="0.8" stroke="#444"/>
<ellipse cx="705.1" cy="697.4" rx="25" ry="12.5" transform="rotate(-68 705.1 697.4)" stroke-width="0.8" stroke="#444" fill="#fff"/>
<ellipse cx="695.7" cy="691.5" rx="0.8" ry="0.4" transform="rotate(-68 695.7 691.5)" stroke-width="0.6" stroke="#444"/>
<ellipse cx="697.6" cy="687.8" rx="0.8" ry="0.4" transform="rotate(-68 697.6 687.8)" stroke-width="0.6" stroke="#444"/>
<ellipse cx="699.8" cy="684.5" rx="0.8" ry="0.4" transform="rotate(-68 699.8 684.5)" stroke-width="0.6" stroke="#444"/>
<ellipse cx="702.2" cy="681.6" rx="0.8" ry="0.4" transform="rotate(-68 702.2 681.6)" stroke-width="0.6" stroke="#444"/>
<ellipse cx="704.7" cy="679.3" rx="0.8" ry="0.4" transform="rotate(-68 704.7 679.3)" stroke-width="0.6" stroke="#444"/>
<ellipse cx="707.2" cy="677.7" rx="0.8" ry="0.4" transform="rotate(-68 707.2 677.7)" stroke-width="0.6" stroke="#444"/>
<ellipse cx="709.6" cy="676.8" rx="0.8" ry="0.4" transform="rotate(-68 709.6 676.8)" stroke-width="0.6" stroke="#444"/>
<ellipse cx="711.9" cy="676.6" rx="0.8" ry="0.4" transform="rotate(-68 711.9 676.6)" stroke-width="0.6" stroke="#444"/>
<ellipse cx="713.9" cy="677.2" rx="0.8" ry="0.4" transform="rotate(-68 713.9 677.2)" stroke-width="0.6" stroke="#444"/>
<ellipse cx="715.6" cy="678.6" rx="0.8" ry="0.4" transform="rotate(-68 715.6 678.6)" stroke-width="0.6" stroke="#444"/>
<ellipse cx="716.9" cy="680.6" rx="0.8" ry="0.4" transform="rotate(-68 716.9 680.6)" stroke-width="0.6" stroke="#444"/>
<ellipse cx="717.8" cy="683.3" rx="0.8" ry="0.4" transform="rotate(-68 717.8 683.3)" stroke-width="0.6" stroke="#444"/>
<ellipse cx="718.2" cy="686.5" rx="0.8" ry="0.4" transform="rotate(-68 718.2 686.5)" stroke-width="0.6" stroke="#444"/>
<ellipse cx="718.2" cy="690.1" rx="0.8" ry="0.4" transform="rotate(-68 718.2 690.1)" stroke-width="0.6" stroke="#444"/>
<ellipse cx="717.6" cy="693.9" rx="0.8" ry="0.4" transform="rotate(-68 717.6 693.9)" stroke-width="0.6" stroke="#444"/>
<ellipse cx="716.6" cy="697.9" rx="0.8" ry="0.4" transform="rotate(-68 716.6 697.9)" stroke-width="0.6" stroke="#444"/>
<path d="M698.8 715.3L697.5 714.8L696.4 713.9L695.5 712.8L694.7 711.3L694.2 709.5L693.9 707.4L693.8 705.2L694 702.8L694.4 700.3L695 697.7L695.8 695.1L696.9 692.6L698.1 690.1L699.4 687.9L700.9 685.8L702.4 683.9L704 682.3L705.7 681.1L707.3 680.2L708.9 679.6L710.4 679.4L711.8 679.6L713 680.2" stroke-width="0.8" stroke="#444"/>
<path d="M698 715L703.3 717.8L717.6 682.6L712.3 679.8Z" fill="#fff" stroke="none"/>
<path d="M712.3 679.8L717.6 682.6" stroke-width="0.8" stroke="#444"/>
<path d="M698 715L703.3 717.8" stroke-width="0.8" stroke="#444"/>
<ellipse cx="710.4" cy="700.2" rx="19" ry="9.5" transform="rotate(-68 710.4 700.2)" stroke-width="0.8" stroke="#444" fill="#fff"/>
<path d="M703.4 694.4L713 686.5L727 680.4L738.4 694.4L737.5 711L720 725L706 722.4L701.6 711Z" stroke-width="0.9" fill="#fff"/>
<path d="M703.4 694.4L718.3 702.3L738.4 694.4" stroke-width="0.8"/>
<path d="M718.3 702.3L720 725" stroke-width="0.8"/>
<path d="M711.3 698.4L712.1 723.3" stroke-width="0.7"/>
<path d="M702.5 705.8L718.6 713.6L737.5 703.7" stroke-width="0.7"/>
<path d="M713 686.5L727 693.5" stroke-width="0.7"/>
<circle cx="700.8" cy="700.2" r="2.2" stroke-width="0.9" stroke="#222" fill="#fff"/>
<circle cx="698.7" cy="711.4" r="2" stroke-width="0.9" stroke="#222" fill="#fff"/>
<circle cx="702" cy="720.1" r="1.8" stroke-width="0.9" stroke="#222" fill="#fff"/>
<circle cx="718.3" cy="689.1" r="2.3" stroke-width="0.9" stroke="#222" fill="#222"/>
<circle cx="724.9" cy="686.2" r="2.9" stroke-width="0.9" stroke="#222" fill="#fff"/>
<circle cx="714.4" cy="685.1" r="1.8" stroke-width="0.9" stroke="#222" fill="#fff"/>
<circle cx="731.4" cy="688.6" r="1.6" stroke-width="0.9" stroke="#222" fill="#fff"/>
<circle cx="710.4" cy="693.5" r="1.5" stroke-width="0.9" stroke="#222" fill="#fff"/>
<circle cx="721.8" cy="707.5" r="0.5" stroke-width="0.6"/>
<circle cx="725.3" cy="711" r="0.5" stroke-width="0.6"/>
<circle cx="728.8" cy="705.8" r="0.5" stroke-width="0.6"/>
<circle cx="723.5" cy="715.4" r="0.5" stroke-width="0.6"/>
<circle cx="720.9" cy="718" r="0.5" stroke-width="0.6"/>
<circle cx="709.5" cy="711" r="0.5" stroke-width="0.6"/>
<circle cx="708.6" cy="702.3" r="0.5" stroke-width="0.6"/>
<circle cx="707.8" cy="715.4" r="0.5" stroke-width="0.6"/>
<circle cx="714.8" cy="707.5" r="0.5" stroke-width="0.6"/>
<circle cx="715.6" cy="717.1" r="0.5" stroke-width="0.6"/>
<rect x="731.2" y="702.3" width="3" height="7.5" stroke="#333" stroke-width="0.8" fill="#fff" transform="rotate(-18 731.2 702.3)"/>
<path d="M662.6 660.6L684.1 670.8" stroke-width="0.8"/>
<path d="M684.1 670.8L684.7 675.7" stroke-width="1.2" stroke="#222"/>
<path d="M733.8 707.5C739 716 744.5 728 744.5 741C744.5 752 740 761 734.3 769" stroke="#aaa" stroke-width="3.2" fill="none"/>
<path d="M733.8 707.5C739 716 744.5 728 744.5 741C744.5 752 740 761 734.3 769" stroke="#777" stroke-width="3.4" stroke-dasharray="0.7 1.6" fill="none"/>
<path d="M728.6 778.8L727.4 769.6L732.6 770.6L737.2 775.2Z" stroke-width="0.9" stroke="#666" fill="#999"/>
<text x="22" y="30.4" style="font-size:14px" textLength="126" lengthAdjust="spacingAndGlyphs">SERIAL NO : -#4125</text>
<text x="617" y="621.6" style="font-size:13.6px" textLength="45.5" lengthAdjust="spacingAndGlyphs">TYPE 1</text>
<text x="200" y="63.9" style="font-size:14px" textLength="14.3" lengthAdjust="spacingAndGlyphs">13</text>
<text x="51.5" y="112.4" style="font-size:14px" textLength="14.3" lengthAdjust="spacingAndGlyphs">33</text>
<text x="30.5" y="124.4" style="font-size:14px" textLength="14.3" lengthAdjust="spacingAndGlyphs">32</text>
<text x="119.5" y="181.4" style="font-size:14px" textLength="14.3" lengthAdjust="spacingAndGlyphs">30</text>
<text x="218" y="243.7" style="font-size:14px" textLength="14.3" lengthAdjust="spacingAndGlyphs">24</text>
<text x="299.5" y="197.8" style="font-size:14px" textLength="14.3" lengthAdjust="spacingAndGlyphs">40</text>
<text x="339" y="173.9" style="font-size:14px" textLength="14.3" lengthAdjust="spacingAndGlyphs">23</text>
<text x="418.5" y="128.6" style="font-size:14px" textLength="14.3" lengthAdjust="spacingAndGlyphs">26</text>
<text x="523.4" y="72.4" style="font-size:14px" textLength="7.2" lengthAdjust="spacingAndGlyphs">2</text>
<text x="600.4" y="44.6" style="font-size:14px" textLength="14.3" lengthAdjust="spacingAndGlyphs">29</text>
<text x="681" y="163.4" style="font-size:14px" textLength="14.3" lengthAdjust="spacingAndGlyphs">39</text>
<text x="156.7" y="303.4" style="font-size:14px" textLength="14.3" lengthAdjust="spacingAndGlyphs">12</text>
<text x="125.3" y="320.4" style="font-size:14px" textLength="14.3" lengthAdjust="spacingAndGlyphs">15</text>
<text x="39.8" y="383.7" style="font-size:14px" textLength="14.3" lengthAdjust="spacingAndGlyphs">17</text>
<text x="165.8" y="466.2" style="font-size:14px" textLength="7.2" lengthAdjust="spacingAndGlyphs">8</text>
<text x="124.5" y="479.4" style="font-size:14px" textLength="14.3" lengthAdjust="spacingAndGlyphs">35</text>
<text x="587.8" y="301.8" style="font-size:14px" textLength="14.3" lengthAdjust="spacingAndGlyphs">14</text>
<text x="570" y="311.1" style="font-size:14px" textLength="14.3" lengthAdjust="spacingAndGlyphs">25</text>
<text x="545.7" y="328.7" style="font-size:14px" textLength="7.2" lengthAdjust="spacingAndGlyphs">6</text>
<text x="507.5" y="347.1" style="font-size:14px" textLength="14.3" lengthAdjust="spacingAndGlyphs">25</text>
<text x="485.5" y="360.9" style="font-size:14px" textLength="14.3" lengthAdjust="spacingAndGlyphs">14</text>
<text x="451.6" y="376.8" style="font-size:14px" textLength="14.3" lengthAdjust="spacingAndGlyphs">34</text>
<text x="452.5" y="396.6" style="font-size:14px" textLength="7.2" lengthAdjust="spacingAndGlyphs">9</text>
<text x="732" y="464.6" style="font-size:14px" textLength="7.2" lengthAdjust="spacingAndGlyphs">5</text>
<text x="659.8" y="489.9" style="font-size:14px" textLength="7.2" lengthAdjust="spacingAndGlyphs">3</text>
<text x="520.4" y="526.7" style="font-size:14px" textLength="14.3" lengthAdjust="spacingAndGlyphs">19</text>
<text x="562.5" y="523.4" style="font-size:14px" textLength="14.3" lengthAdjust="spacingAndGlyphs">20</text>
<text x="483.3" y="548.7" style="font-size:14px" textLength="7.2" lengthAdjust="spacingAndGlyphs">7</text>
<text x="466.8" y="557.8" style="font-size:14px" textLength="14.3" lengthAdjust="spacingAndGlyphs">36</text>
<text x="328" y="694.4" style="font-size:14px" textLength="14.3" lengthAdjust="spacingAndGlyphs">27</text>
<text x="293.8" y="730.2" style="font-size:14px" textLength="7.2" lengthAdjust="spacingAndGlyphs">4</text>
<text x="214" y="772.5" style="font-size:14px" textLength="14.3" lengthAdjust="spacingAndGlyphs">13</text>
<text x="87.3" y="780.2" style="font-size:14px" textLength="14.3" lengthAdjust="spacingAndGlyphs">38</text>
<text x="70.8" y="790.7" style="font-size:14px" textLength="14.3" lengthAdjust="spacingAndGlyphs">30</text>
<text x="30" y="704.4" style="font-size:14px" textLength="14.3" lengthAdjust="spacingAndGlyphs">32</text>
<ellipse cx="425.95" cy="122.65" rx="17.35" ry="15.95" stroke="#1f3b8f" stroke-width="4.8"/>
</g>
</svg>
</body></html>
